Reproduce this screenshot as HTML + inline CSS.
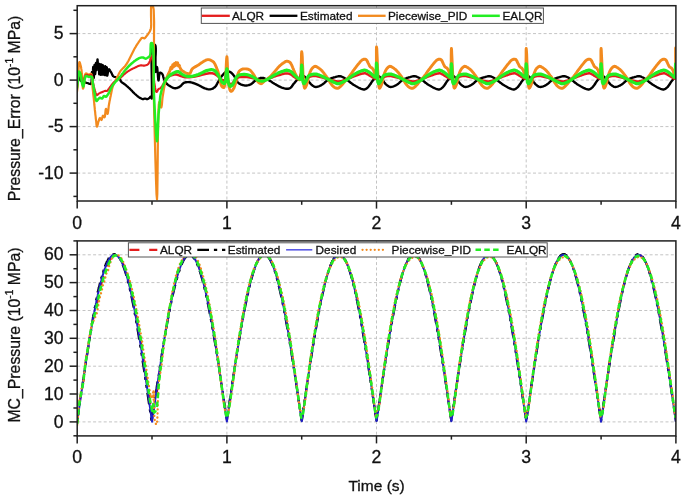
<!DOCTYPE html><html><head><meta charset="utf-8"><style>html,body{margin:0;padding:0;background:#fff;}svg{display:block;}text{font-family:"Liberation Sans",Arial,sans-serif;fill:#111;stroke:#111;stroke-width:0.3px;}</style></head><body>
<svg width="685" height="499" viewBox="0 0 685 499">
<rect width="685" height="499" fill="#fff"/>
<defs><clipPath id="cu"><rect x="77.2" y="5.7" width="598.7" height="195.3"/></clipPath>
<clipPath id="cl"><rect x="77.2" y="240.9" width="598.7" height="195.0"/></clipPath></defs>
<line x1="77.2" x2="675.9" y1="33.6" y2="33.6" stroke="#c4c4c4" stroke-width="1" stroke-dasharray="3,2.3" fill="none"/>
<line x1="77.2" x2="675.9" y1="80.1" y2="80.1" stroke="#c4c4c4" stroke-width="1" stroke-dasharray="3,2.3" fill="none"/>
<line x1="77.2" x2="675.9" y1="126.6" y2="126.6" stroke="#c4c4c4" stroke-width="1" stroke-dasharray="3,2.3" fill="none"/>
<line x1="77.2" x2="675.9" y1="173.1" y2="173.1" stroke="#c4c4c4" stroke-width="1" stroke-dasharray="3,2.3" fill="none"/>
<line x1="226.9" x2="226.9" y1="5.7" y2="201.0" stroke="#c4c4c4" stroke-width="1" stroke-dasharray="3,2.3" fill="none"/>
<line x1="376.5" x2="376.5" y1="5.7" y2="201.0" stroke="#c4c4c4" stroke-width="1" stroke-dasharray="3,2.3" fill="none"/>
<line x1="526.2" x2="526.2" y1="5.7" y2="201.0" stroke="#c4c4c4" stroke-width="1" stroke-dasharray="3,2.3" fill="none"/>
<line x1="77.2" x2="675.9" y1="254.8" y2="254.8" stroke="#c4c4c4" stroke-width="1" stroke-dasharray="3,2.3" fill="none"/>
<line x1="77.2" x2="675.9" y1="282.6" y2="282.6" stroke="#c4c4c4" stroke-width="1" stroke-dasharray="3,2.3" fill="none"/>
<line x1="77.2" x2="675.9" y1="310.5" y2="310.5" stroke="#c4c4c4" stroke-width="1" stroke-dasharray="3,2.3" fill="none"/>
<line x1="77.2" x2="675.9" y1="338.3" y2="338.3" stroke="#c4c4c4" stroke-width="1" stroke-dasharray="3,2.3" fill="none"/>
<line x1="77.2" x2="675.9" y1="366.2" y2="366.2" stroke="#c4c4c4" stroke-width="1" stroke-dasharray="3,2.3" fill="none"/>
<line x1="77.2" x2="675.9" y1="394.0" y2="394.0" stroke="#c4c4c4" stroke-width="1" stroke-dasharray="3,2.3" fill="none"/>
<line x1="77.2" x2="675.9" y1="421.9" y2="421.9" stroke="#c4c4c4" stroke-width="1" stroke-dasharray="3,2.3" fill="none"/>
<line x1="226.9" x2="226.9" y1="240.9" y2="435.8" stroke="#c4c4c4" stroke-width="1" stroke-dasharray="3,2.3" fill="none"/>
<line x1="376.5" x2="376.5" y1="240.9" y2="435.8" stroke="#c4c4c4" stroke-width="1" stroke-dasharray="3,2.3" fill="none"/>
<line x1="526.2" x2="526.2" y1="240.9" y2="435.8" stroke="#c4c4c4" stroke-width="1" stroke-dasharray="3,2.3" fill="none"/>
<g clip-path="url(#cu)" fill="none" stroke-linejoin="round" stroke-linecap="round">
<path d="M77.0,79.0 L77.2,78.0 L77.5,76.8 L77.7,75.9 L78.0,75.5 L78.3,75.8 L78.7,76.7 L79.1,77.8 L79.5,78.9 L80.0,79.8 L80.6,80.5 L81.3,81.0 L82.0,81.5 L82.7,81.8 L83.4,82.0 L84.2,82.2 L85.0,82.4 L85.8,82.6 L86.5,82.8 L87.3,83.0 L88.0,83.2 L88.9,83.6 L89.8,83.9 L90.5,84.0 L91.0,83.7 L91.3,83.0 L91.6,81.6 L91.7,79.4 L91.8,76.9 L91.9,74.5 L91.9,72.7 L92.0,72.0 L92.1,72.6 L92.2,74.1 L92.3,76.0 L92.3,77.9 L92.4,79.4 L92.5,80.0 L92.6,79.0 L92.7,76.6 L92.8,73.5 L93.0,70.4 L93.1,68.0 L93.2,67.0 L93.3,67.8 L93.4,69.9 L93.5,72.5 L93.6,75.1 L93.7,77.2 L93.8,78.0 L93.9,77.0 L94.0,74.6 L94.1,71.5 L94.3,68.4 L94.4,66.0 L94.5,65.0 L94.6,65.7 L94.7,67.3 L94.8,69.5 L95.0,71.7 L95.1,73.3 L95.2,74.0 L95.3,73.2 L95.5,71.1 L95.6,68.5 L95.7,65.9 L95.9,63.8 L96.0,63.0 L96.1,63.5 L96.2,64.8 L96.3,66.5 L96.5,68.2 L96.6,69.5 L96.7,70.0 L96.8,69.2 L97.0,67.2 L97.1,64.7 L97.2,62.1 L97.4,60.1 L97.5,59.3 L97.6,59.8 L97.7,61.0 L97.8,62.6 L97.9,64.2 L98.1,65.5 L98.2,66.0 L98.4,65.5 L98.6,64.6 L98.8,64.1 L98.9,64.9 L99.0,66.8 L99.1,69.2 L99.1,71.7 L99.1,73.6 L99.2,74.3 L99.3,73.6 L99.3,71.7 L99.4,69.2 L99.5,66.7 L99.5,64.8 L99.6,64.0 L99.7,64.8 L99.7,66.7 L99.8,69.1 L99.9,71.5 L99.9,73.4 L100.0,74.2 L100.1,73.5 L100.1,71.9 L100.2,69.8 L100.3,67.6 L100.3,66.0 L100.4,65.4 L100.5,66.1 L100.5,67.8 L100.6,70.1 L100.7,72.4 L100.7,74.2 L100.8,74.9 L100.9,74.1 L100.9,72.2 L101.0,69.7 L101.1,67.2 L101.1,65.3 L101.2,64.5 L101.3,65.2 L101.3,67.0 L101.4,69.2 L101.5,71.5 L101.5,73.2 L101.6,73.9 L101.7,73.3 L101.7,71.6 L101.8,69.3 L101.9,67.1 L101.9,65.4 L102.0,64.8 L102.1,65.5 L102.1,67.3 L102.2,69.6 L102.3,71.9 L102.3,73.7 L102.4,74.5 L102.5,73.8 L102.5,72.0 L102.6,69.8 L102.7,67.5 L102.7,65.8 L102.8,65.1 L102.9,65.8 L102.9,67.6 L103.0,69.9 L103.1,72.1 L103.1,73.9 L103.2,74.6 L103.3,74.0 L103.3,72.5 L103.4,70.5 L103.5,68.6 L103.5,67.1 L103.6,66.4 L103.7,67.0 L103.7,68.5 L103.8,70.5 L103.9,72.4 L103.9,73.9 L104.0,74.5 L104.1,73.9 L104.1,72.5 L104.2,70.7 L104.3,68.8 L104.3,67.4 L104.4,66.9 L104.5,67.5 L104.5,69.0 L104.6,71.0 L104.7,73.0 L104.7,74.5 L104.8,75.1 L104.9,74.4 L104.9,72.8 L105.0,70.6 L105.1,68.5 L105.1,66.8 L105.2,66.2 L105.3,66.8 L105.3,68.5 L105.4,70.7 L105.5,72.9 L105.5,74.5 L105.6,75.2 L105.7,74.6 L105.7,73.1 L105.8,71.1 L105.9,69.1 L105.9,67.5 L106.0,66.9 L106.1,67.5 L106.1,69.0 L106.2,71.0 L106.3,73.0 L106.3,74.5 L106.4,75.1 L106.5,74.5 L106.5,73.1 L106.6,71.2 L106.7,69.3 L106.7,67.9 L106.8,67.3 L106.9,67.9 L106.9,69.5 L106.9,71.5 L107.0,73.5 L107.1,75.1 L107.2,75.7 L107.4,75.3 L107.6,74.3 L107.8,73.1 L108.0,72.0 L108.3,70.8 L108.6,69.7 L109.0,69.2 L109.5,69.6 L110.0,70.5 L110.5,71.3 L111.0,72.1 L111.5,73.0 L111.9,73.8 L112.2,74.6 L112.6,75.4 L113.0,76.0 L113.6,76.4 L114.3,76.8 L115.0,77.0 L115.8,77.2 L116.7,77.4 L117.5,77.5 L118.2,77.6 L118.9,77.7 L119.5,78.0 L119.9,78.7 L120.2,79.6 L120.5,80.6 L121.0,81.5 L121.5,82.1 L122.1,82.6 L122.8,83.0 L123.6,83.5 L124.3,84.0 L125.0,84.5 L125.8,85.2 L126.6,85.9 L127.5,86.6 L128.3,87.4 L129.2,88.1 L130.0,88.9 L130.8,89.7 L131.7,90.6 L132.5,91.5 L133.3,92.4 L134.2,93.2 L135.0,94.0 L135.8,94.7 L136.7,95.5 L137.5,96.2 L138.4,96.8 L139.2,97.4 L140.0,97.9 L140.8,98.3 L141.6,98.7 L142.3,99.0 L143.0,99.1 L143.7,99.0 L144.3,98.7 L145.0,98.6 L145.7,98.7 L146.3,99.0 L147.0,99.1 L147.7,99.0 L148.3,98.7 L149.0,98.3 L149.7,97.6 L150.4,96.8 L151.0,96.5 L151.3,97.1 L151.5,98.1 L151.7,98.6 L152.0,94.9 L151.9,85.8 L151.7,73.8 L151.5,61.5 L151.5,51.4 L151.9,46.0 L152.1,45.3 L152.5,45.0 L153.2,44.7 L154.2,44.5 L155.0,44.8 L155.6,46.1 L155.8,48.3 L155.8,51.1 L155.7,54.2 L155.5,57.3 L155.5,60.0 L155.5,62.4 L155.5,65.0 L155.5,67.6 L155.5,69.8 L155.5,71.4 L155.7,72.0 L155.9,71.6 L156.1,70.7 L156.3,69.5 L156.6,68.3 L156.8,67.4 L157.0,67.0 L157.3,68.0 L157.5,70.5 L157.8,73.8 L158.0,77.0 L158.2,79.5 L158.5,80.5 L158.7,80.0 L158.9,78.6 L159.0,76.7 L159.3,74.9 L159.6,73.3 L160.0,72.6 L160.7,72.7 L161.6,73.2 L162.3,74.0 L162.7,74.7 L163.0,75.6 L163.2,76.6 L163.5,77.6 L163.8,78.6 L164.2,79.5 L164.6,80.4 L165.0,81.4 L165.4,82.2 L166.0,83.0" stroke="#000" stroke-width="2.3"/>
<path d="M166.0,83.0 L166.6,83.7 L167.4,84.3 L168.1,84.9 L169.0,85.5 L169.8,86.0 L170.6,86.5 L171.5,87.0 L172.3,87.4 L173.2,87.8 L174.1,88.1 L175.0,88.2 L175.9,88.2 L176.8,88.0 L177.7,87.7 L178.6,87.3 L179.5,86.9 L180.3,86.3 L181.1,85.6 L181.8,84.8 L182.5,84.0 L183.3,83.3 L184.0,82.8 L184.8,82.5 L185.5,82.3 L186.2,82.2 L187.0,82.1 L187.7,82.1 L188.5,82.1 L189.3,82.1 L190.1,82.2 L191.0,82.4 L192.1,82.7 L193.2,83.0 L194.4,83.4 L195.6,83.9 L196.8,84.4 L198.0,84.9 L199.2,85.5 L200.4,86.1 L201.6,86.7 L202.7,87.4 L203.9,88.0 L205.0,88.4 L205.9,88.7 L206.7,89.0 L207.5,89.2 L208.4,89.4 L209.2,89.4 L210.0,89.4 L210.9,89.2 L211.8,88.9 L212.6,88.6 L213.5,88.1 L214.3,87.6 L215.0,87.0 L215.6,86.3 L216.2,85.6 L216.6,84.7 L217.1,83.8 L217.5,82.9 L218.0,82.1 L218.5,81.3 L219.0,80.4 L219.5,79.6 L220.0,78.8 L220.5,78.0 L221.0,77.2 L221.6,76.4 L222.1,75.7 L222.8,74.9 L223.4,74.2 L223.9,73.6 L224.5,73.0 L225.2,72.4 L225.8,71.9 L226.5,71.5 L227.4,71.4 L228.3,71.5 L229.4,71.7 L230.3,72.1 L231.0,72.5 L231.7,73.1 L232.4,73.8 L233.0,74.5 L233.6,75.3 L234.2,76.0 L234.7,76.8 L235.1,77.7 L235.5,78.6 L235.8,79.5 L236.2,80.4 L236.8,81.1 L237.3,81.8 L237.9,82.4 L238.5,82.9 L239.2,83.4 L239.9,83.9 L240.6,84.3 L241.4,84.6 L242.3,85.0 L243.2,85.2 L244.1,85.4 L244.9,85.5 L245.8,85.6 L246.7,85.5 L247.5,85.4 L248.4,85.2 L249.2,85.0 L250.0,84.6 L250.8,84.3 L251.5,83.9 L252.2,83.3 L252.9,82.8 L253.5,82.2 L254.1,81.6 L254.8,81.1 L255.5,80.6 L256.3,80.0 L257.0,79.5 L257.8,79.0 L258.6,78.6 L259.6,78.3 L260.5,78.0 L261.5,77.9 L262.5,77.9 L263.3,78.0 L264.0,78.2 L264.8,78.5 L265.6,78.8 L266.3,79.2 L267.1,79.5 L267.9,79.9 L268.7,80.3 L269.5,80.7 L270.3,81.1 L271.1,81.6 L271.9,82.1 L272.7,82.7 L273.6,83.2 L274.5,83.8 L275.4,84.3 L276.4,84.9 L277.5,85.5 L278.6,86.1 L279.7,86.7 L280.8,87.2 L281.8,87.6 L282.7,87.9 L283.5,88.2 L284.4,88.4 L285.2,88.6 L286.0,88.7 L286.7,88.7 L287.6,88.8 L288.5,88.7 L289.3,88.5 L290.1,88.2 L290.7,87.7 L291.2,87.2 L291.8,86.5 L292.3,85.7 L292.8,85.0 L293.3,84.3 L293.9,83.5 L294.6,82.8 L295.2,82.0 L295.9,81.2 L296.5,80.5 L297.2,79.8 L298.0,79.2 L298.8,78.7 L299.7,78.2 L300.4,77.7 L301.0,77.3 L301.4,76.9 L301.7,76.6 L302.5,76.2 L303.4,76.0 L304.0,76.2 L304.7,76.7 L305.3,77.3 L306.0,77.9 L306.5,78.4 L307.0,79.1 L307.5,79.8 L308.0,80.5 L308.5,81.1 L309.0,81.8 L309.5,82.4 L310.0,83.1 L310.5,83.7 L311.1,84.3 L311.8,84.9 L312.5,85.5 L313.3,86.1 L314.1,86.6 L315.0,86.9 L315.9,87.0 L316.9,86.9 L317.8,86.6 L318.8,86.3 L319.6,86.0 L320.4,85.7 L321.1,85.2 L321.9,84.8 L322.7,84.3 L323.4,83.7 L324.2,83.1 L324.9,82.4 L325.6,81.7 L326.4,81.1 L327.2,80.6 L328.0,80.0 L328.8,79.5 L329.6,79.0 L330.4,78.6 L331.1,78.3 L331.9,78.0 L332.7,77.8 L333.4,77.5 L334.3,77.3 L335.1,77.1 L335.9,76.8 L336.8,76.6 L337.7,76.4 L338.5,76.2 L339.4,76.2 L340.2,76.3 L341.0,76.4 L341.7,76.7 L342.5,77.0 L343.2,77.3 L344.0,77.7 L344.8,78.2 L345.6,78.7 L346.4,79.3 L347.1,79.8 L347.8,80.3 L348.4,80.9 L349.1,81.4 L349.7,82.0 L350.4,82.5 L351.1,83.1 L351.9,83.6 L352.7,84.2 L353.5,84.8 L354.4,85.3 L355.3,85.8 L356.1,86.3 L357.0,86.8 L357.9,87.3 L358.7,87.7 L359.6,88.2 L360.5,88.5 L361.3,88.8 L362.2,89.1 L363.0,89.4 L363.8,89.5 L364.6,89.5 L365.4,89.2 L366.1,88.8 L366.9,88.2 L367.6,87.6 L368.2,87.1 L368.7,86.4 L369.2,85.7 L369.7,85.0 L370.3,84.3 L370.8,83.5 L371.3,82.7 L371.8,81.9 L372.3,81.2 L372.8,80.5 L373.5,79.7 L374.2,79.1 L374.8,78.4 L375.4,77.9 L376.0,77.1 L376.5,76.6 L377.3,76.1 L378.2,76.0 L378.8,76.2 L379.5,76.7 L380.2,77.3 L380.8,77.9 L381.4,78.4 L381.9,79.1 L382.4,79.8 L382.9,80.5 L383.4,81.1 L383.9,81.8 L384.3,82.4 L384.8,83.1 L385.3,83.7 L385.9,84.3 L386.6,84.9 L387.4,85.5 L388.2,86.1 L389.0,86.6 L389.8,86.9 L390.7,87.0 L391.7,86.9 L392.7,86.6 L393.6,86.3 L394.4,86.0 L395.2,85.7 L396.0,85.2 L396.8,84.8 L397.5,84.3 L398.3,83.7 L399.0,83.1 L399.7,82.4 L400.5,81.7 L401.2,81.1 L402.0,80.6 L402.8,80.0 L403.6,79.5 L404.4,79.0 L405.2,78.6 L406.0,78.3 L406.7,78.0 L407.5,77.8 L408.3,77.5 L409.1,77.3 L409.9,77.1 L410.8,76.8 L411.6,76.6 L412.5,76.4 L413.4,76.2 L414.2,76.2 L415.0,76.3 L415.8,76.4 L416.6,76.7 L417.3,77.0 L418.1,77.3 L418.9,77.7 L419.7,78.2 L420.4,78.7 L421.2,79.3 L422.0,79.8 L422.6,80.3 L423.3,80.9 L423.9,81.4 L424.6,82.0 L425.2,82.5 L425.9,83.1 L426.7,83.6 L427.5,84.2 L428.4,84.8 L429.2,85.3 L430.1,85.8 L431.0,86.3 L431.8,86.8 L432.7,87.3 L433.6,87.7 L434.5,88.2 L435.3,88.5 L436.1,88.8 L437.0,89.1 L437.8,89.4 L438.6,89.5 L439.4,89.5 L440.2,89.2 L441.0,88.8 L441.7,88.2 L442.4,87.6 L443.0,87.1 L443.5,86.4 L444.1,85.7 L444.6,85.0 L445.1,84.3 L445.6,83.5 L446.1,82.7 L446.6,81.9 L447.1,81.2 L447.6,80.5 L448.3,79.7 L449.0,79.1 L449.7,78.4 L450.3,77.9 L450.8,77.1 L451.4,76.6 L452.2,76.1 L453.0,76.0 L453.7,76.2 L454.3,76.7 L455.0,77.3 L455.7,77.9 L456.2,78.4 L456.7,79.1 L457.2,79.8 L457.7,80.5 L458.2,81.1 L458.7,81.8 L459.2,82.4 L459.6,83.1 L460.2,83.7 L460.7,84.3 L461.4,84.9 L462.2,85.5 L463.0,86.1 L463.8,86.6 L464.6,86.9 L465.6,87.0 L466.5,86.9 L467.5,86.6 L468.5,86.3 L469.2,86.0 L470.0,85.7 L470.8,85.2 L471.6,84.8 L472.3,84.3 L473.1,83.7 L473.9,83.1 L474.6,82.4 L475.3,81.7 L476.1,81.1 L476.9,80.6 L477.6,80.0 L478.4,79.5 L479.2,79.0 L480.1,78.6 L480.8,78.3 L481.6,78.0 L482.3,77.8 L483.1,77.5 L483.9,77.3 L484.8,77.1 L485.6,76.8 L486.5,76.6 L487.4,76.4 L488.2,76.2 L489.0,76.2 L489.8,76.3 L490.6,76.4 L491.4,76.7 L492.2,77.0 L492.9,77.3 L493.7,77.7 L494.5,78.2 L495.3,78.7 L496.0,79.3 L496.8,79.8 L497.5,80.3 L498.1,80.9 L498.8,81.4 L499.4,82.0 L500.1,82.5 L500.8,83.1 L501.6,83.6 L502.4,84.2 L503.2,84.8 L504.1,85.3 L504.9,85.8 L505.8,86.3 L506.7,86.8 L507.5,87.3 L508.4,87.7 L509.3,88.2 L510.2,88.5 L511.0,88.8 L511.8,89.1 L512.7,89.4 L513.5,89.5 L514.3,89.5 L515.0,89.2 L515.8,88.8 L516.5,88.2 L517.2,87.6 L517.8,87.1 L518.4,86.4 L518.9,85.7 L519.4,85.0 L519.9,84.3 L520.5,83.5 L521.0,82.7 L521.4,81.9 L522.0,81.2 L522.5,80.5 L523.1,79.7 L523.8,79.1 L524.5,78.4 L525.1,77.9 L525.7,77.1 L526.2,76.6 L527.0,76.1 L527.9,76.0 L528.5,76.2 L529.2,76.7 L529.9,77.3 L530.5,77.9 L531.0,78.4 L531.5,79.1 L532.0,79.8 L532.5,80.5 L533.0,81.1 L533.5,81.8 L534.0,82.4 L534.5,83.1 L535.0,83.7 L535.6,84.3 L536.3,84.9 L537.0,85.5 L537.8,86.1 L538.7,86.6 L539.5,86.9 L540.4,87.0 L541.4,86.9 L542.3,86.6 L543.3,86.3 L544.1,86.0 L544.9,85.7 L545.7,85.2 L546.4,84.8 L547.2,84.3 L547.9,83.7 L548.7,83.1 L549.4,82.4 L550.2,81.7 L550.9,81.1 L551.7,80.6 L552.5,80.0 L553.3,79.5 L554.1,79.0 L554.9,78.6 L555.6,78.3 L556.4,78.0 L557.2,77.8 L558.0,77.5 L558.8,77.3 L559.6,77.1 L560.4,76.8 L561.3,76.6 L562.2,76.4 L563.1,76.2 L563.9,76.2 L564.7,76.3 L565.5,76.4 L566.2,76.7 L567.0,77.0 L567.8,77.3 L568.6,77.7 L569.3,78.2 L570.1,78.7 L570.9,79.3 L571.7,79.8 L572.3,80.3 L573.0,80.9 L573.6,81.4 L574.3,82.0 L574.9,82.5 L575.6,83.1 L576.4,83.6 L577.2,84.2 L578.1,84.8 L578.9,85.3 L579.8,85.8 L580.6,86.3 L581.5,86.8 L582.4,87.3 L583.3,87.7 L584.1,88.2 L585.0,88.5 L585.8,88.8 L586.7,89.1 L587.5,89.4 L588.3,89.5 L589.1,89.5 L589.9,89.2 L590.6,88.8 L591.4,88.2 L592.1,87.6 L592.7,87.1 L593.2,86.4 L593.7,85.7 L594.3,85.0 L594.8,84.3 L595.3,83.5 L595.8,82.7 L596.3,81.9 L596.8,81.2 L597.3,80.5 L598.0,79.7 L598.7,79.1 L599.4,78.4 L599.9,77.9 L600.5,77.1 L601.1,76.6 L601.8,76.1 L602.7,76.0 L603.3,76.2 L604.0,76.7 L604.7,77.3 L605.3,77.9 L605.9,78.4 L606.4,79.1 L606.9,79.8 L607.4,80.5 L607.9,81.1 L608.4,81.8 L608.8,82.4 L609.3,83.1 L609.8,83.7 L610.4,84.3 L611.1,84.9 L611.9,85.5 L612.7,86.1 L613.5,86.6 L614.3,86.9 L615.2,87.0 L616.2,86.9 L617.2,86.6 L618.1,86.3 L618.9,86.0 L619.7,85.7 L620.5,85.2 L621.3,84.8 L622.0,84.3 L622.8,83.7 L623.5,83.1 L624.3,82.4 L625.0,81.7 L625.8,81.1 L626.5,80.6 L627.3,80.0 L628.1,79.5 L628.9,79.0 L629.7,78.6 L630.5,78.3 L631.2,78.0 L632.0,77.8 L632.8,77.5 L633.6,77.3 L634.4,77.1 L635.3,76.8 L636.2,76.6 L637.0,76.4 L637.9,76.2 L638.7,76.2 L639.5,76.3 L640.3,76.4 L641.1,76.7 L641.8,77.0 L642.6,77.3 L643.4,77.7 L644.2,78.2 L645.0,78.7 L645.7,79.3 L646.5,79.8 L647.2,80.3 L647.8,80.9 L648.4,81.4 L649.1,82.0 L649.8,82.5 L650.5,83.1 L651.2,83.6 L652.1,84.2 L652.9,84.8 L653.8,85.3 L654.6,85.8 L655.5,86.3 L656.3,86.8 L657.2,87.3 L658.1,87.7 L659.0,88.2 L659.8,88.5 L660.6,88.8 L661.5,89.1 L662.3,89.4 L663.1,89.5 L663.9,89.5 L664.7,89.2 L665.5,88.8 L666.2,88.2 L666.9,87.6 L667.5,87.1 L668.1,86.4 L668.6,85.7 L669.1,85.0 L669.6,84.3 L670.1,83.5 L670.6,82.7 L671.1,81.9 L671.6,81.2 L672.2,80.5 L672.8,79.7 L673.5,79.1 L674.2,78.4 L674.8,77.9 L675.4,77.2 L675.9,76.6" stroke="#000" stroke-width="2.4"/>
<path d="M77.0,92.0 L77.1,90.9 L77.3,89.8 L77.4,88.8 L77.5,87.6 L77.7,86.4 L77.8,85.0 L78.0,81.4 L78.2,76.6 L78.5,71.5 L78.7,66.8 L79.0,63.4 L79.4,62.0 L79.7,62.3 L80.0,63.1 L80.2,64.1 L80.5,65.0 L80.7,65.8 L80.9,66.6 L81.1,67.5 L81.2,68.4 L81.4,69.4 L81.6,70.7 L81.7,72.0 L81.8,73.5 L82.0,75.0 L82.1,76.5 L82.2,78.0 L82.3,79.9 L82.4,82.2 L82.5,84.5 L82.7,86.6 L82.8,88.0 L83.0,88.6 L83.2,88.3 L83.5,87.4 L83.8,86.2 L84.0,85.0 L84.2,83.6 L84.3,81.9 L84.3,80.1 L84.4,78.3 L84.6,76.7 L84.8,75.5 L85.1,74.6 L85.5,73.8 L86.0,73.4 L86.6,73.5 L87.4,73.9 L88.3,74.3 L89.0,74.5 L89.7,74.3 L90.4,73.9 L91.0,73.8 L91.5,74.4 L91.8,75.5 L92.0,76.8 L92.1,78.4 L92.2,80.3 L92.3,82.4 L92.4,84.6 L92.5,86.6 L92.7,88.9 L93.0,91.4 L93.2,93.8 L93.5,96.3 L93.8,98.7 L94.0,101.0 L94.2,102.8 L94.3,104.5 L94.5,106.1 L94.7,107.8 L94.8,109.4 L95.0,111.0 L95.2,112.5 L95.3,114.1 L95.5,115.6 L95.7,117.1 L95.8,118.6 L96.0,120.0 L96.2,121.3 L96.3,122.8 L96.4,124.2 L96.6,125.5 L96.8,126.4 L97.0,126.7 L97.2,126.4 L97.4,125.7 L97.7,124.7 L98.0,123.5 L98.2,122.4 L98.5,121.5 L98.9,120.4 L99.2,119.3 L99.6,118.4 L100.0,118.0 L100.5,118.5 L101.0,119.5 L101.5,120.0 L101.8,119.5 L102.1,118.4 L102.4,117.2 L102.7,116.1 L103.0,115.6 L103.5,116.0 L104.0,116.9 L104.5,117.3 L104.9,116.6 L105.1,115.0 L105.3,113.0 L105.5,111.0 L105.7,109.4 L106.0,108.8 L106.2,109.2 L106.5,110.1 L106.8,111.4 L107.0,112.6 L107.3,113.5 L107.5,113.9 L107.8,113.4 L108.0,112.2 L108.3,110.4 L108.5,108.3 L108.7,106.3 L109.0,104.5 L109.3,102.8 L109.6,101.1 L110.0,99.4 L110.3,97.6 L110.7,95.9 L111.0,94.3 L111.3,92.8 L111.6,91.3 L111.9,89.8 L112.2,88.4 L112.6,87.1 L113.0,85.8 L113.4,84.9 L113.8,84.0 L114.2,83.2 L114.6,82.3 L115.1,81.5 L115.5,80.7 L115.9,79.8 L116.3,79.0 L116.7,78.1 L117.1,77.2 L117.6,76.4 L118.0,75.5 L118.5,74.6 L118.9,73.8 L119.4,72.9 L119.9,72.0 L120.4,71.2 L121.0,70.4 L121.6,69.7 L122.3,69.0 L123.0,68.3 L123.7,67.6 L124.4,66.9 L125.0,66.2 L125.6,65.5 L126.1,64.7 L126.6,64.0 L127.1,63.2 L127.5,62.4 L128.0,61.6 L128.5,60.7 L129.0,59.7 L129.5,58.7 L130.0,57.7 L130.5,56.7 L131.0,55.7 L131.5,54.7 L132.0,53.7 L132.5,52.7 L133.0,51.7 L133.5,50.7 L134.0,49.7 L134.5,48.8 L135.0,47.9 L135.5,47.1 L136.0,46.2 L136.5,45.4 L137.0,44.6 L137.5,43.8 L138.0,43.1 L138.5,42.3 L139.0,41.6 L139.5,40.9 L140.0,40.3 L140.5,39.5 L141.0,38.8 L141.4,38.2 L142.0,37.8 L142.8,37.9 L143.7,38.2 L144.5,38.3 L145.2,37.8 L145.9,37.0 L146.5,36.1 L147.0,35.5 L147.5,34.8 L148.0,34.2 L148.5,33.5 L149.0,32.7 L149.6,31.9 L150.0,31.0 L150.3,30.3 L150.6,29.5 L150.8,28.7 L151.0,27.6 L151.2,24.5 L151.1,19.9 L151.0,14.7 L151.0,9.8 L151.1,5.9 L151.6,4.0 L152.1,3.8 L152.6,4.0 L153.7,9.6 L154.1,21.9 L154.0,38.8 L153.8,58.1 L153.7,77.6 L153.8,95.0 L154.2,114.4 L154.8,137.0 L155.4,159.9 L156.0,179.9 L156.5,194.1 L157.0,199.5 L157.3,193.8 L157.5,179.3 L157.7,159.9 L157.9,139.3 L158.2,121.4 L158.5,110.0 L158.6,108.0 L158.7,106.1 L158.8,104.5 L159.0,103.2 L159.1,102.3 L159.3,102.0 L159.5,102.3 L159.7,103.1 L159.8,104.2 L160.1,105.2 L160.3,106.0 L160.7,107.0 L161.2,107.5 L161.5,106.9 L161.8,105.4 L162.0,103.4 L162.2,101.0 L162.4,98.6 L162.7,96.4 L163.1,94.1 L163.5,91.6 L163.9,89.0 L164.4,86.5 L164.9,84.1 L165.4,82.0 L165.8,80.5 L166.3,79.1" stroke="#f28a1e" stroke-width="2.2"/>
<path d="M166.3,79.1 L166.8,77.8 L167.3,76.6 L167.7,75.4 L168.2,74.3 L168.6,73.4 L169.0,72.7 L169.3,71.9 L169.7,71.2 L170.0,70.5 L170.3,69.5 L170.6,68.3 L170.9,67.4 L171.2,67.0 L171.6,67.8 L172.0,68.5 L172.2,67.9 L172.4,66.6 L172.6,65.4 L172.8,64.8 L173.1,65.3 L173.3,66.3 L173.6,66.8 L173.8,66.3 L174.0,65.2 L174.2,64.1 L174.4,63.6 L174.7,64.2 L174.9,65.2 L175.2,65.8 L175.4,65.3 L175.6,64.2 L175.8,63.1 L176.0,62.6 L176.3,63.2 L176.5,64.4 L176.8,65.0 L177.1,64.4 L177.3,63.4 L177.6,62.8 L177.8,63.3 L178.0,64.4 L178.2,65.5 L178.4,66.0 L178.8,65.6 L179.2,65.2 L179.5,65.7 L179.7,66.6 L180.0,67.5 L180.3,68.2 L180.6,68.8 L181.0,69.5 L181.5,70.1 L182.2,70.7 L183.0,71.3 L183.8,71.8 L184.6,72.3 L185.4,72.7 L186.2,73.1 L187.1,73.5 L188.0,73.7 L188.8,73.8 L189.5,73.7 L190.1,73.2 L190.5,72.5 L190.9,71.6 L191.3,70.6 L191.7,69.6 L192.3,68.8 L193.1,68.1 L194.0,67.5 L195.0,66.9 L196.0,66.4 L197.0,65.8 L197.9,65.3 L198.8,64.7 L199.5,64.2 L200.3,63.6 L201.1,63.0 L202.0,62.5 L202.9,61.9 L203.8,61.3 L204.8,60.7 L205.8,60.2 L206.7,59.8 L207.7,59.6 L208.7,59.6 L209.7,59.9 L210.7,60.2 L211.6,60.7 L212.5,61.2 L213.3,61.8 L213.9,62.4 L214.4,63.2 L214.9,64.0 L215.3,64.9 L215.7,65.8 L216.1,66.7 L216.6,67.9 L217.1,69.2 L217.6,70.6 L218.1,72.0 L218.5,73.5 L219.0,75.0 L219.5,76.9 L219.9,79.1 L220.3,81.3 L220.7,83.3 L221.2,85.1 L221.8,86.3 L222.5,87.1 L223.3,87.5 L224.0,87.5 L224.9,84.8 L225.6,79.0 L226.0,71.7 L226.3,64.5 L226.6,59.0 L226.9,56.8 L227.1,58.3 L227.3,62.1 L227.5,67.3 L227.7,73.0 L227.9,78.3 L228.4,82.4 L228.7,84.4 L229.1,86.4 L229.5,88.3 L229.9,89.8 L230.4,90.9 L231.0,91.4 L231.6,91.3 L232.3,90.6 L232.9,89.7 L233.5,88.7 L234.1,87.7 L234.5,86.6 L234.9,85.3 L235.4,83.9 L235.7,82.5 L236.2,81.1 L236.6,79.6 L236.9,78.0 L237.3,76.3 L237.7,74.7 L238.1,73.3 L238.7,72.1 L239.2,71.3 L239.8,70.7 L240.5,70.1 L241.1,69.7 L241.8,69.3 L242.8,69.0 L243.8,68.9 L244.8,68.9 L245.8,68.9 L246.8,69.0 L247.8,69.2 L248.7,69.5 L249.6,69.9 L250.3,70.4 L251.0,71.0 L251.6,71.8 L252.2,72.6 L252.8,73.4 L253.4,74.2 L254.0,75.1 L254.5,76.0 L255.0,76.9 L255.5,77.8 L256.1,78.6 L256.6,79.5 L257.1,80.3 L257.5,81.1 L258.0,81.8 L258.6,82.4 L259.4,83.1 L260.3,83.6 L261.2,83.7 L261.8,83.5 L262.4,83.0 L263.1,82.4 L263.7,81.7 L264.3,81.1 L265.0,80.6 L265.6,80.1 L266.3,79.6 L267.0,79.1 L267.7,78.6 L268.3,78.1 L268.9,77.6 L269.6,77.0 L270.2,76.5 L270.9,75.9 L271.5,75.3 L272.1,74.6 L272.8,73.8 L273.4,73.1 L274.1,72.3 L274.7,71.6 L275.4,70.8 L276.0,70.0 L276.7,69.3 L277.3,68.5 L277.9,67.7 L278.6,67.0 L279.3,66.3 L280.0,65.6 L280.7,65.0 L281.5,64.3 L282.2,63.7 L283.0,63.2 L283.7,62.7 L284.5,62.2 L285.2,61.7 L286.0,61.4 L286.7,61.2 L287.6,61.3 L288.5,61.5 L289.4,62.0 L290.1,62.5 L290.7,63.2 L291.1,64.0 L291.6,64.9 L292.0,65.8 L292.4,66.8 L292.7,67.6 L293.1,68.5 L293.5,69.4 L293.8,70.3 L294.2,71.2 L294.6,72.1 L295.0,73.0 L295.4,73.9 L295.8,74.8 L296.3,75.7 L296.7,76.6 L297.2,77.3 L297.9,78.2 L298.5,79.1 L299.2,79.7 L299.8,79.8 L300.5,77.5 L301.0,72.2 L301.2,65.5 L301.4,58.9 L301.5,53.8 L301.7,51.7 L302.0,53.3 L302.3,57.2 L302.5,62.7 L302.8,68.7 L303.0,74.3 L303.4,78.6 L303.5,80.7 L303.7,82.8 L303.9,84.8 L304.1,86.5 L304.4,87.7 L304.7,88.2 L305.1,87.9 L305.6,87.2 L306.1,86.1 L306.6,85.0 L307.0,83.6 L307.5,81.9 L307.9,80.1 L308.3,78.1 L308.7,76.3 L309.2,74.7 L309.6,73.6 L310.0,72.5 L310.3,71.5 L310.8,70.6 L311.2,69.7 L311.7,68.9 L312.3,68.2 L312.9,67.6 L313.6,67.0 L314.3,66.6 L315.0,66.3 L315.8,66.4 L316.6,66.7 L317.4,67.2 L318.2,67.6 L318.8,68.1 L319.5,68.6 L320.1,69.1 L320.8,69.6 L321.4,70.2 L322.1,70.9 L322.7,71.7 L323.3,72.4 L324.0,73.2 L324.6,74.1 L325.2,74.8 L325.7,75.5 L326.3,76.3 L326.8,77.0 L327.4,77.8 L327.9,78.6 L328.4,79.5 L328.9,80.3 L329.4,81.2 L329.8,82.1 L330.3,82.9 L330.9,83.7 L331.5,84.5 L332.1,85.2 L332.8,86.0 L333.5,86.6 L334.2,87.2 L334.9,87.6 L335.7,88.0 L336.5,88.2 L337.3,88.3 L338.1,88.2 L338.8,87.9 L339.4,87.4 L340.1,86.9 L340.7,86.2 L341.4,85.6 L342.0,84.9 L342.6,84.2 L343.2,83.5 L343.8,82.7 L344.5,81.9 L345.1,81.1 L345.8,80.3 L346.6,79.5 L347.4,78.6 L348.1,77.8 L348.9,76.9 L349.6,76.0 L350.4,75.0 L351.1,73.9 L351.9,72.8 L352.6,71.7 L353.3,70.6 L354.1,69.6 L354.8,68.6 L355.6,67.6 L356.3,66.6 L357.1,65.6 L357.8,64.7 L358.6,63.8 L359.2,63.1 L359.8,62.3 L360.4,61.6 L361.0,60.9 L361.7,60.4 L362.3,59.9 L363.2,59.5 L364.1,59.2 L365.0,59.1 L365.8,59.3 L366.4,59.8 L366.9,60.5 L367.4,61.5 L367.9,62.5 L368.3,63.4 L368.8,64.3 L369.2,65.3 L369.7,66.2 L370.2,66.9 L370.8,67.3 L371.5,67.6 L372.1,68.0 L372.6,68.7 L373.1,69.5 L373.6,70.3 L373.9,71.1 L374.1,72.0 L374.4,72.9 L374.6,73.7 L374.8,74.5 L375.2,75.5 L375.5,76.5 L375.8,76.8 L376.1,74.6 L376.3,69.0 L376.4,61.9 L376.4,54.7 L376.4,49.2 L376.5,47.0 L376.8,48.8 L377.0,53.5 L377.3,60.0 L377.5,67.1 L377.9,73.7 L378.2,78.6 L378.4,80.7 L378.5,82.9 L378.7,84.9 L378.9,86.6 L379.2,87.7 L379.5,88.2 L380.0,87.9 L380.4,87.2 L380.9,86.1 L381.4,85.0 L381.9,83.6 L382.3,81.9 L382.7,80.1 L383.1,78.1 L383.6,76.3 L384.0,74.7 L384.4,73.6 L384.8,72.5 L385.2,71.5 L385.6,70.6 L386.1,69.7 L386.6,68.9 L387.2,68.2 L387.8,67.6 L388.4,67.0 L389.1,66.6 L389.8,66.3 L390.6,66.4 L391.4,66.7 L392.2,67.2 L393.0,67.6 L393.7,68.1 L394.3,68.6 L395.0,69.1 L395.6,69.6 L396.2,70.2 L396.9,70.9 L397.5,71.7 L398.2,72.4 L398.8,73.2 L399.5,74.1 L400.0,74.8 L400.6,75.5 L401.1,76.3 L401.7,77.0 L402.2,77.8 L402.7,78.6 L403.3,79.5 L403.7,80.3 L404.2,81.2 L404.7,82.1 L405.2,82.9 L405.7,83.7 L406.3,84.5 L407.0,85.2 L407.6,86.0 L408.3,86.6 L409.0,87.2 L409.7,87.6 L410.5,88.0 L411.3,88.2 L412.1,88.3 L412.9,88.2 L413.6,87.9 L414.3,87.4 L414.9,86.9 L415.6,86.2 L416.2,85.6 L416.8,84.9 L417.5,84.2 L418.1,83.5 L418.7,82.7 L419.3,81.9 L420.0,81.1 L420.7,80.3 L421.4,79.5 L422.2,78.6 L423.0,77.8 L423.7,76.9 L424.4,76.0 L425.2,75.0 L426.0,73.9 L426.7,72.8 L427.4,71.7 L428.2,70.6 L428.9,69.6 L429.7,68.6 L430.4,67.6 L431.2,66.6 L431.9,65.6 L432.7,64.7 L433.4,63.8 L434.0,63.1 L434.7,62.3 L435.3,61.6 L435.9,60.9 L436.5,60.4 L437.2,59.9 L438.0,59.5 L438.9,59.2 L439.8,59.1 L440.6,59.3 L441.2,59.8 L441.8,60.5 L442.3,61.5 L442.7,62.5 L443.2,63.4 L443.6,64.3 L444.1,65.3 L444.5,66.2 L445.0,66.9 L445.6,67.3 L446.3,67.6 L446.9,68.0 L447.5,68.7 L448.0,69.5 L448.4,70.3 L448.7,71.1 L449.0,72.0 L449.2,72.9 L449.4,73.7 L449.7,74.5 L450.0,75.5 L450.3,76.5 L450.6,76.8 L451.0,74.7 L451.1,69.4 L451.2,62.6 L451.2,55.8 L451.3,50.6 L451.4,48.5 L451.6,50.2 L451.8,54.7 L452.1,60.8 L452.4,67.6 L452.7,73.9 L453.0,78.6 L453.2,80.7 L453.4,82.9 L453.6,84.9 L453.8,86.5 L454.0,87.7 L454.4,88.2 L454.8,87.9 L455.3,87.2 L455.8,86.1 L456.3,85.0 L456.7,83.6 L457.1,81.9 L457.6,80.1 L458.0,78.1 L458.4,76.3 L458.9,74.7 L459.3,73.6 L459.6,72.5 L460.0,71.5 L460.4,70.6 L460.9,69.7 L461.4,68.9 L462.0,68.2 L462.6,67.6 L463.3,67.0 L464.0,66.6 L464.6,66.3 L465.4,66.4 L466.2,66.7 L467.1,67.2 L467.9,67.6 L468.5,68.1 L469.2,68.6 L469.8,69.1 L470.4,69.6 L471.1,70.2 L471.7,70.9 L472.4,71.7 L473.0,72.4 L473.7,73.2 L474.3,74.1 L474.8,74.8 L475.4,75.5 L476.0,76.3 L476.5,77.0 L477.1,77.8 L477.6,78.6 L478.1,79.5 L478.6,80.3 L479.0,81.2 L479.5,82.1 L480.0,82.9 L480.6,83.7 L481.2,84.5 L481.8,85.2 L482.5,86.0 L483.2,86.6 L483.9,87.2 L484.5,87.6 L485.3,88.0 L486.2,88.2 L487.0,88.3 L487.8,88.2 L488.4,87.9 L489.1,87.4 L489.8,86.9 L490.4,86.2 L491.1,85.6 L491.7,84.9 L492.3,84.2 L492.9,83.5 L493.5,82.7 L494.1,81.9 L494.8,81.1 L495.5,80.3 L496.3,79.5 L497.0,78.6 L497.8,77.8 L498.5,76.9 L499.3,76.0 L500.0,75.0 L500.8,73.9 L501.5,72.8 L502.3,71.7 L503.0,70.6 L503.8,69.6 L504.5,68.6 L505.3,67.6 L506.0,66.6 L506.8,65.6 L507.5,64.7 L508.3,63.8 L508.9,63.1 L509.5,62.3 L510.1,61.6 L510.7,60.9 L511.3,60.4 L512.0,59.9 L512.9,59.5 L513.8,59.2 L514.7,59.1 L515.4,59.3 L516.1,59.8 L516.6,60.5 L517.1,61.5 L517.5,62.5 L518.0,63.4 L518.5,64.3 L518.9,65.3 L519.4,66.2 L519.9,66.9 L520.5,67.3 L521.1,67.6 L521.7,68.0 L522.3,68.7 L522.8,69.5 L523.2,70.3 L523.5,71.1 L523.8,72.0 L524.0,72.9 L524.3,73.7 L524.5,74.5 L524.8,75.5 L525.2,76.5 L525.5,76.8 L525.8,74.7 L526.0,69.4 L526.0,62.6 L526.1,55.8 L526.1,50.6 L526.2,48.5 L526.4,50.2 L526.7,54.7 L526.9,60.8 L527.2,67.6 L527.5,73.9 L527.9,78.6 L528.1,80.7 L528.2,82.9 L528.4,84.9 L528.6,86.5 L528.9,87.7 L529.2,88.2 L529.6,87.9 L530.1,87.2 L530.6,86.1 L531.1,85.0 L531.6,83.6 L532.0,81.9 L532.4,80.1 L532.8,78.1 L533.2,76.3 L533.7,74.7 L534.1,73.6 L534.5,72.5 L534.9,71.5 L535.3,70.6 L535.7,69.7 L536.3,68.9 L536.8,68.2 L537.5,67.6 L538.1,67.0 L538.8,66.6 L539.5,66.3 L540.3,66.4 L541.1,66.7 L541.9,67.2 L542.7,67.6 L543.4,68.1 L544.0,68.6 L544.7,69.1 L545.3,69.6 L545.9,70.2 L546.6,70.9 L547.2,71.7 L547.9,72.4 L548.5,73.2 L549.1,74.1 L549.7,74.8 L550.2,75.5 L550.8,76.3 L551.4,77.0 L551.9,77.8 L552.4,78.6 L552.9,79.5 L553.4,80.3 L553.9,81.2 L554.3,82.1 L554.9,82.9 L555.4,83.7 L556.0,84.5 L556.6,85.2 L557.3,86.0 L558.0,86.6 L558.7,87.2 L559.4,87.6 L560.2,88.0 L561.0,88.2 L561.8,88.3 L562.6,88.2 L563.3,87.9 L563.9,87.4 L564.6,86.9 L565.2,86.2 L565.9,85.6 L566.5,84.9 L567.1,84.2 L567.7,83.5 L568.4,82.7 L569.0,81.9 L569.6,81.1 L570.4,80.3 L571.1,79.5 L571.9,78.6 L572.6,77.8 L573.4,76.9 L574.1,76.0 L574.9,75.0 L575.6,73.9 L576.4,72.8 L577.1,71.7 L577.9,70.6 L578.6,69.6 L579.4,68.6 L580.1,67.6 L580.9,66.6 L581.6,65.6 L582.4,64.7 L583.1,63.8 L583.7,63.1 L584.3,62.3 L584.9,61.6 L585.6,60.9 L586.2,60.4 L586.8,59.9 L587.7,59.5 L588.6,59.2 L589.5,59.1 L590.3,59.3 L590.9,59.8 L591.4,60.5 L591.9,61.5 L592.4,62.5 L592.8,63.4 L593.3,64.3 L593.7,65.3 L594.2,66.2 L594.7,66.9 L595.3,67.3 L596.0,67.6 L596.6,68.0 L597.1,68.7 L597.6,69.5 L598.1,70.3 L598.4,71.1 L598.6,72.0 L598.9,72.9 L599.1,73.7 L599.3,74.5 L599.7,75.5 L600.0,76.5 L600.3,76.8 L600.7,74.7 L600.8,69.4 L600.9,62.6 L600.9,55.8 L600.9,50.6 L601.1,48.5 L601.3,50.2 L601.5,54.7 L601.8,60.8 L602.1,67.6 L602.4,73.9 L602.7,78.6 L602.9,80.7 L603.1,82.9 L603.2,84.9 L603.4,86.5 L603.7,87.7 L604.1,88.2 L604.5,87.9 L605.0,87.2 L605.5,86.1 L605.9,85.0 L606.4,83.6 L606.8,81.9 L607.2,80.1 L607.6,78.1 L608.1,76.3 L608.5,74.7 L608.9,73.6 L609.3,72.5 L609.7,71.5 L610.1,70.6 L610.6,69.7 L611.1,68.9 L611.7,68.2 L612.3,67.6 L612.9,67.0 L613.6,66.6 L614.3,66.3 L615.1,66.4 L615.9,66.7 L616.7,67.2 L617.5,67.6 L618.2,68.1 L618.8,68.6 L619.5,69.1 L620.1,69.6 L620.7,70.2 L621.4,70.9 L622.1,71.7 L622.7,72.4 L623.3,73.2 L624.0,74.1 L624.5,74.8 L625.1,75.5 L625.6,76.3 L626.2,77.0 L626.7,77.8 L627.3,78.6 L627.8,79.5 L628.2,80.3 L628.7,81.2 L629.2,82.1 L629.7,82.9 L630.2,83.7 L630.8,84.5 L631.5,85.2 L632.2,86.0 L632.8,86.6 L633.5,87.2 L634.2,87.6 L635.0,88.0 L635.8,88.2 L636.6,88.3 L637.4,88.2 L638.1,87.9 L638.8,87.4 L639.4,86.9 L640.1,86.2 L640.7,85.6 L641.4,84.9 L642.0,84.2 L642.6,83.5 L643.2,82.7 L643.8,81.9 L644.5,81.1 L645.2,80.3 L645.9,79.5 L646.7,78.6 L647.5,77.8 L648.2,76.9 L649.0,76.0 L649.7,75.0 L650.5,73.9 L651.2,72.8 L652.0,71.7 L652.7,70.6 L653.4,69.6 L654.2,68.6 L654.9,67.6 L655.7,66.6 L656.4,65.6 L657.2,64.7 L657.9,63.8 L658.6,63.1 L659.2,62.3 L659.8,61.6 L660.4,60.9 L661.0,60.4 L661.7,59.9 L662.5,59.5 L663.5,59.2 L664.3,59.1 L665.1,59.3 L665.7,59.8 L666.3,60.5 L666.8,61.5 L667.2,62.5 L667.7,63.4 L668.1,64.3 L668.6,65.3 L669.0,66.2 L669.5,66.9 L670.2,67.3 L670.8,67.6 L671.4,68.0 L672.0,68.7 L672.5,69.5 L672.9,70.3 L673.2,71.1 L673.5,72.0 L673.7,72.9 L673.9,73.7 L674.2,74.5 L674.5,75.5 L674.9,76.5 L675.2,76.8 L675.5,75.3 L675.6,71.4 L675.7,66.0 L675.6,59.7 L675.6,53.5 L675.6,48.0" stroke="#f28a1e" stroke-width="2.9"/>
<path d="M77.0,86.0 L77.2,84.7 L77.3,83.3 L77.5,81.9 L77.7,80.6 L77.8,79.3 L78.0,78.0 L78.1,76.8 L78.3,75.5 L78.4,74.3 L78.5,73.1 L78.7,72.3 L79.0,72.0 L79.5,72.3 L80.0,73.0 L80.5,74.0 L80.8,74.9 L81.1,76.1 L81.3,77.4 L81.5,78.7 L81.7,80.0 L82.0,81.0 L82.3,82.0 L82.7,83.0 L83.0,83.7 L83.3,84.0 L83.5,83.6 L83.7,82.8 L83.9,81.6 L84.1,80.3 L84.3,79.0 L84.5,78.0 L84.8,77.1 L85.1,76.2 L85.5,75.5 L86.0,75.0 L86.6,74.9 L87.4,75.1 L88.2,75.4 L89.0,75.5 L89.9,75.3 L90.8,74.9 L91.5,75.0 L92.0,75.6 L92.2,76.7 L92.4,78.0 L92.6,79.5 L92.8,81.0 L93.0,82.4 L93.3,83.8 L93.6,85.3 L93.9,86.8 L94.3,88.3 L94.6,89.7 L95.0,90.9 L95.4,92.0 L95.7,93.1 L96.1,94.0 L96.5,94.8 L97.0,95.1 L97.6,94.8 L98.3,94.1 L99.0,93.4 L99.7,93.1 L100.3,92.8 L101.0,92.6 L101.7,92.3 L102.3,92.0 L103.0,91.7 L103.7,91.4 L104.3,91.1 L105.0,90.9 L105.7,90.9 L106.4,91.0 L107.0,90.9 L107.5,90.5 L108.0,89.9 L108.5,89.2 L109.0,88.6 L109.5,87.9 L110.0,87.2 L110.5,86.5 L111.0,85.8 L111.5,85.1 L112.0,84.5 L112.5,83.8 L113.0,83.2 L113.7,82.5 L114.4,81.9 L115.2,81.3 L116.0,80.7 L116.8,80.2 L117.5,79.7 L118.4,79.3 L119.2,78.8 L120.0,78.2 L120.8,77.5 L121.6,76.8 L122.5,76.0 L123.3,75.1 L124.1,74.3 L125.0,73.6 L125.8,73.0 L126.6,72.3 L127.5,71.7 L128.3,71.2 L129.2,70.6 L130.0,70.1 L130.8,69.6 L131.6,69.2 L132.5,68.8 L133.3,68.4 L134.2,68.0 L135.0,67.6 L135.8,67.2 L136.7,66.8 L137.5,66.4 L138.3,66.0 L139.2,65.7 L140.0,65.5 L140.8,65.4 L141.7,65.4 L142.6,65.5 L143.4,65.6 L144.2,65.6 L145.0,65.5 L145.8,65.3 L146.6,65.0 L147.4,64.7 L148.0,64.2 L148.6,63.5 L149.1,62.7 L149.6,61.8 L150.0,60.8 L150.3,59.9 L150.5,58.8 L150.7,57.7 L150.9,56.7 L151.1,56.0 L151.3,55.7 L151.8,56.0 L152.3,57.0 L152.7,59.3 L153.0,62.8 L153.2,67.2 L153.4,71.8 L153.6,76.3 L154.0,80.0 L154.3,82.5 L154.7,85.1 L155.1,87.7 L155.5,89.8 L156.0,91.4 L156.5,92.0 L157.0,91.7 L157.5,90.7 L158.0,89.7 L158.5,89.0 L159.3,88.7 L160.0,88.5 L160.5,88.1 L161.0,87.6 L161.5,87.0 L162.0,86.4 L162.4,85.6 L162.8,84.8 L163.3,84.0 L163.7,83.2 L164.1,82.4 L164.5,81.5 L165.0,80.6 L165.5,79.7 L166.0,79.0" stroke="#e41d1d" stroke-width="2.1"/>
<path d="M166.0,79.0 L166.7,78.3 L167.4,77.6 L168.1,77.0 L168.9,76.5 L169.8,76.0 L170.6,75.6 L171.6,75.3 L172.5,74.9 L173.5,74.7 L174.4,74.6 L175.4,74.5 L176.3,74.6 L177.3,74.8 L178.3,75.1 L179.2,75.4 L180.1,75.7 L181.0,76.0 L181.8,76.3 L182.6,76.5 L183.3,76.8 L184.1,77.0 L185.0,77.2 L186.4,77.3 L187.9,77.3 L189.6,77.2 L191.4,77.0 L193.2,76.8 L195.0,76.5 L197.1,76.1 L199.4,75.5 L201.7,74.8 L204.0,74.2 L206.1,73.7 L208.0,73.4 L209.1,73.3 L210.2,73.2 L211.2,73.2 L212.2,73.3 L213.1,73.4 L214.0,73.7 L214.9,74.1 L215.7,74.6 L216.6,75.2 L217.4,75.9 L218.2,76.6 L219.0,77.2 L219.9,77.9 L220.7,78.7 L221.6,79.5 L222.5,80.2 L223.3,80.6 L224.0,80.7 L224.6,80.2 L225.2,79.0 L225.7,77.7 L226.1,76.4 L226.5,75.4 L226.9,75.0 L227.2,75.4 L227.4,76.5 L227.6,77.9 L227.8,79.4 L228.0,80.9 L228.4,82.0 L228.8,82.8 L229.3,83.5 L229.8,84.0 L230.3,84.3 L231.1,84.1 L232.0,83.6 L232.9,82.9 L233.4,82.3 L233.9,81.5 L234.4,80.6 L234.9,79.8 L235.5,79.2 L236.2,78.6 L236.9,78.1 L237.8,77.6 L238.7,77.3 L239.7,77.1 L240.8,77.0 L242.0,76.9 L243.3,76.9 L244.6,77.0 L245.8,77.0 L247.1,77.1 L248.4,77.3 L249.8,77.5 L251.1,77.7 L252.3,78.0 L253.5,78.2 L254.4,78.5 L255.3,78.8 L256.2,79.1 L257.0,79.3 L257.8,79.6 L258.6,79.8 L259.6,80.1 L260.5,80.3 L261.5,80.4 L262.5,80.5 L263.3,80.4 L264.2,80.2 L265.0,80.0 L265.9,79.7 L266.8,79.5 L267.7,79.2 L268.7,78.8 L269.7,78.4 L270.8,77.9 L271.9,77.5 L272.9,77.1 L274.0,76.7 L275.1,76.3 L276.2,75.9 L277.2,75.6 L278.3,75.3 L279.4,75.0 L280.5,74.7 L281.5,74.4 L282.6,74.1 L283.7,73.8 L284.8,73.6 L285.8,73.4 L286.7,73.4 L287.6,73.5 L288.4,73.6 L289.2,73.8 L290.0,74.1 L290.8,74.4 L291.6,74.9 L292.3,75.5 L293.1,76.1 L293.8,76.8 L294.6,77.3 L295.4,77.8 L296.3,78.4 L297.2,78.9 L298.0,79.2 L298.7,79.2 L299.4,78.5 L299.9,77.2 L300.4,75.7 L300.9,74.2 L301.3,73.1 L301.7,72.7 L302.1,73.4 L302.4,75.1 L302.6,77.4 L302.9,79.7 L303.2,81.6 L303.7,82.4 L304.4,82.2 L305.2,81.4 L306.0,80.6 L306.5,80.0 L306.9,79.3 L307.4,78.5 L307.9,77.9 L308.5,77.3 L309.4,76.9 L310.4,76.5 L311.5,76.3 L312.7,76.1 L313.8,76.0 L315.0,76.0 L316.0,76.1 L317.1,76.2 L318.2,76.5 L319.3,76.7 L320.3,77.0 L321.4,77.3 L322.5,77.6 L323.6,77.9 L324.7,78.2 L325.7,78.5 L326.8,78.9 L327.9,79.2 L329.0,79.5 L330.1,79.8 L331.2,80.1 L332.3,80.4 L333.3,80.6 L334.3,80.8 L335.3,81.1 L336.2,81.2 L337.1,81.4 L338.1,81.4 L338.9,81.4 L339.8,81.3 L340.6,81.1 L341.5,80.9 L342.4,80.7 L343.2,80.5 L344.1,80.2 L345.0,79.9 L345.8,79.6 L346.7,79.3 L347.5,79.0 L348.4,78.6 L349.4,78.2 L350.5,77.8 L351.6,77.3 L352.7,76.9 L353.8,76.4 L354.8,76.0 L356.0,75.6 L357.2,75.2 L358.3,74.8 L359.5,74.4 L360.6,74.0 L361.6,73.8 L362.5,73.5 L363.4,73.4 L364.2,73.3 L365.1,73.3 L365.9,73.5 L366.7,73.9 L367.5,74.3 L368.3,74.8 L369.1,75.3 L369.8,75.7 L370.6,76.2 L371.4,76.6 L372.1,77.1 L372.8,77.5 L373.8,78.1 L374.7,78.6 L375.4,78.7 L375.8,78.0 L376.1,76.7 L376.2,75.0 L376.3,73.4 L376.4,72.2 L376.5,71.7 L376.8,72.5 L377.0,74.4 L377.3,76.9 L377.6,79.5 L378.0,81.5 L378.5,82.4 L379.2,82.2 L380.0,81.4 L380.8,80.6 L381.3,80.0 L381.7,79.3 L382.2,78.5 L382.7,77.9 L383.4,77.3 L384.2,76.9 L385.2,76.5 L386.4,76.3 L387.5,76.1 L388.7,76.0 L389.8,76.0 L390.9,76.1 L391.9,76.2 L393.0,76.5 L394.1,76.7 L395.2,77.0 L396.2,77.3 L397.3,77.6 L398.4,77.9 L399.5,78.2 L400.6,78.5 L401.7,78.9 L402.7,79.2 L403.8,79.5 L404.9,79.8 L406.0,80.1 L407.1,80.4 L408.1,80.6 L409.1,80.8 L410.1,81.1 L411.0,81.2 L411.9,81.4 L412.9,81.4 L413.7,81.4 L414.6,81.3 L415.5,81.1 L416.3,80.9 L417.2,80.7 L418.1,80.5 L418.9,80.2 L419.8,79.9 L420.6,79.6 L421.5,79.3 L422.4,79.0 L423.2,78.6 L424.3,78.2 L425.3,77.8 L426.4,77.3 L427.5,76.9 L428.6,76.4 L429.7,76.0 L430.8,75.6 L432.0,75.2 L433.2,74.8 L434.3,74.4 L435.4,74.0 L436.4,73.8 L437.4,73.5 L438.2,73.4 L439.1,73.3 L439.9,73.3 L440.7,73.5 L441.5,73.9 L442.3,74.3 L443.1,74.8 L443.9,75.3 L444.7,75.7 L445.4,76.2 L446.2,76.6 L446.9,77.1 L447.6,77.5 L448.6,78.1 L449.5,78.6 L450.3,78.7 L450.6,78.1 L450.9,76.8 L451.0,75.3 L451.1,73.8 L451.2,72.6 L451.4,72.2 L451.6,72.9 L451.9,74.7 L452.1,77.1 L452.4,79.6 L452.8,81.5 L453.3,82.4 L454.0,82.2 L454.9,81.4 L455.7,80.6 L456.1,80.0 L456.6,79.3 L457.0,78.5 L457.5,77.9 L458.2,77.3 L459.1,76.9 L460.1,76.5 L461.2,76.3 L462.4,76.1 L463.5,76.0 L464.6,76.0 L465.7,76.1 L466.8,76.2 L467.9,76.5 L468.9,76.7 L470.0,77.0 L471.1,77.3 L472.2,77.6 L473.2,77.9 L474.3,78.2 L475.4,78.5 L476.5,78.9 L477.6,79.2 L478.7,79.5 L479.8,79.8 L480.9,80.1 L481.9,80.4 L483.0,80.6 L483.9,80.8 L484.9,81.1 L485.9,81.2 L486.8,81.4 L487.8,81.4 L488.6,81.4 L489.4,81.3 L490.3,81.1 L491.2,80.9 L492.1,80.7 L492.9,80.5 L493.8,80.2 L494.6,79.9 L495.5,79.6 L496.3,79.3 L497.2,79.0 L498.1,78.6 L499.1,78.2 L500.2,77.8 L501.2,77.3 L502.3,76.9 L503.4,76.4 L504.5,76.0 L505.7,75.6 L506.8,75.2 L508.0,74.8 L509.2,74.4 L510.3,74.0 L511.3,73.8 L512.2,73.5 L513.1,73.4 L513.9,73.3 L514.8,73.3 L515.6,73.5 L516.4,73.9 L517.2,74.3 L518.0,74.8 L518.7,75.3 L519.5,75.7 L520.3,76.2 L521.0,76.6 L521.8,77.1 L522.5,77.5 L523.4,78.1 L524.4,78.6 L525.1,78.7 L525.5,78.1 L525.7,76.8 L525.9,75.3 L525.9,73.8 L526.1,72.6 L526.2,72.2 L526.5,72.9 L526.7,74.7 L527.0,77.1 L527.3,79.6 L527.7,81.5 L528.2,82.4 L528.9,82.2 L529.7,81.4 L530.5,80.6 L531.0,80.0 L531.4,79.3 L531.9,78.5 L532.4,77.9 L533.0,77.3 L533.9,76.9 L534.9,76.5 L536.0,76.3 L537.2,76.1 L538.4,76.0 L539.5,76.0 L540.5,76.1 L541.6,76.2 L542.7,76.5 L543.8,76.7 L544.8,77.0 L545.9,77.3 L547.0,77.6 L548.1,77.9 L549.2,78.2 L550.3,78.5 L551.3,78.9 L552.4,79.2 L553.5,79.5 L554.6,79.8 L555.7,80.1 L556.8,80.4 L557.8,80.6 L558.8,80.8 L559.8,81.1 L560.7,81.2 L561.6,81.4 L562.6,81.4 L563.4,81.4 L564.3,81.3 L565.1,81.1 L566.0,80.9 L566.9,80.7 L567.8,80.5 L568.6,80.2 L569.5,79.9 L570.3,79.6 L571.2,79.3 L572.0,79.0 L572.9,78.6 L574.0,78.2 L575.0,77.8 L576.1,77.3 L577.2,76.9 L578.3,76.4 L579.4,76.0 L580.5,75.6 L581.7,75.2 L582.8,74.8 L584.0,74.4 L585.1,74.0 L586.1,73.8 L587.0,73.5 L587.9,73.4 L588.8,73.3 L589.6,73.3 L590.4,73.5 L591.2,73.9 L592.0,74.3 L592.8,74.8 L593.6,75.3 L594.3,75.7 L595.1,76.2 L595.9,76.6 L596.6,77.1 L597.3,77.5 L598.3,78.1 L599.2,78.6 L599.9,78.7 L600.3,78.1 L600.6,76.8 L600.7,75.3 L600.8,73.8 L600.9,72.6 L601.1,72.2 L601.3,72.9 L601.6,74.7 L601.8,77.1 L602.1,79.6 L602.5,81.5 L603.0,82.4 L603.7,82.2 L604.5,81.4 L605.3,80.6 L605.8,80.0 L606.3,79.3 L606.7,78.5 L607.2,77.9 L607.9,77.3 L608.7,76.9 L609.8,76.5 L610.9,76.3 L612.0,76.1 L613.2,76.0 L614.3,76.0 L615.4,76.1 L616.5,76.2 L617.5,76.5 L618.6,76.7 L619.7,77.0 L620.7,77.3 L621.8,77.6 L622.9,77.9 L624.0,78.2 L625.1,78.5 L626.2,78.9 L627.3,79.2 L628.3,79.5 L629.4,79.8 L630.5,80.1 L631.6,80.4 L632.6,80.6 L633.6,80.8 L634.6,81.1 L635.5,81.2 L636.5,81.4 L637.4,81.4 L638.3,81.4 L639.1,81.3 L640.0,81.1 L640.9,80.9 L641.7,80.7 L642.6,80.5 L643.5,80.2 L644.3,79.9 L645.2,79.6 L646.0,79.3 L646.9,79.0 L647.8,78.6 L648.8,78.2 L649.8,77.8 L650.9,77.3 L652.0,76.9 L653.1,76.4 L654.2,76.0 L655.3,75.6 L656.5,75.2 L657.7,74.8 L658.8,74.4 L659.9,74.0 L660.9,73.8 L661.9,73.5 L662.8,73.4 L663.6,73.3 L664.4,73.3 L665.2,73.5 L666.0,73.9 L666.8,74.3 L667.6,74.8 L668.4,75.3 L669.2,75.7 L670.0,76.2 L670.7,76.6 L671.4,77.1 L672.2,77.5 L673.1,78.1 L674.0,78.6 L674.8,78.7 L675.1,78.2 L675.3,77.3 L675.4,76.1 L675.5,74.7 L675.5,73.4 L675.6,72.2" stroke="#e41d1d" stroke-width="2.5"/>
<path d="M77.0,88.0 L77.2,86.7 L77.3,85.3 L77.5,84.0 L77.7,82.7 L77.8,81.3 L78.0,80.0 L78.1,78.4 L78.3,76.6 L78.4,74.8 L78.5,73.1 L78.7,72.0 L79.0,71.5 L79.5,71.9 L80.0,72.8 L80.5,74.0 L80.8,75.2 L81.1,76.7 L81.3,78.4 L81.5,80.1 L81.7,81.7 L82.0,83.0 L82.3,84.2 L82.7,85.3 L83.0,86.2 L83.3,86.5 L83.5,86.1 L83.7,85.2 L83.9,83.9 L84.1,82.5 L84.3,81.1 L84.5,80.0 L84.7,79.0 L85.0,78.1 L85.2,77.1 L85.6,76.4 L86.0,76.0 L86.6,76.0 L87.4,76.3 L88.2,76.8 L89.0,77.0 L89.9,76.8 L90.8,76.5 L91.5,76.5 L92.0,77.1 L92.3,78.2 L92.5,79.6 L92.6,81.1 L92.8,82.6 L93.0,84.0 L93.3,85.4 L93.5,86.8 L93.7,88.3 L94.0,89.7 L94.2,91.2 L94.5,92.6 L94.8,94.2 L95.1,96.0 L95.4,97.8 L95.7,99.3 L96.1,100.5 L96.5,101.0 L97.0,100.8 L97.5,100.1 L98.0,99.4 L98.6,98.7 L99.3,98.1 L100.0,97.7 L100.7,97.9 L101.4,98.4 L102.0,98.6 L102.5,98.1 L103.0,97.3 L103.5,96.5 L104.0,96.0 L104.7,96.2 L105.4,96.6 L106.0,96.8 L106.5,96.4 L107.0,95.8 L107.5,95.1 L108.0,94.3 L108.5,93.5 L109.0,92.6 L109.4,91.8 L109.8,90.9 L110.2,90.0 L110.6,89.1 L111.0,88.3 L111.5,87.4 L112.0,86.5 L112.5,85.7 L113.0,84.9 L113.5,84.2 L114.0,83.6 L114.5,83.0 L115.0,82.4 L115.6,81.7 L116.3,81.0 L117.0,80.3 L117.6,79.7 L118.1,79.1 L118.7,78.4 L119.4,77.8 L120.0,77.0 L120.8,76.0 L121.6,75.0 L122.4,73.8 L123.3,72.7 L124.1,71.6 L125.0,70.5 L125.8,69.5 L126.6,68.6 L127.5,67.6 L128.3,66.7 L129.1,65.8 L130.0,65.0 L130.8,64.2 L131.6,63.5 L132.5,62.8 L133.3,62.1 L134.1,61.4 L135.0,60.8 L135.8,60.2 L136.7,59.7 L137.5,59.1 L138.4,58.6 L139.2,58.2 L140.0,57.9 L140.8,57.6 L141.6,57.4 L142.3,57.4 L143.0,57.4 L143.9,57.8 L144.7,58.4 L145.5,58.7 L146.3,58.5 L147.2,58.0 L148.0,57.4 L148.7,57.0 L149.4,56.5 L150.0,55.7 L150.4,54.0 L150.6,51.6 L150.6,48.8 L150.7,46.1 L150.8,44.0 L151.2,43.0 L151.7,43.0 L152.3,43.5 L153.1,47.3 L153.5,54.6 L153.7,64.2 L153.7,74.9 L153.7,85.6 L154.0,95.0 L154.4,103.9 L154.9,114.0 L155.5,124.1 L156.0,132.8 L156.6,139.0 L157.0,141.3 L157.3,139.8 L157.6,135.9 L157.8,130.5 L158.0,124.6 L158.3,119.1 L158.5,115.0 L158.6,113.4 L158.8,112.0 L158.9,110.8 L159.0,109.6 L159.2,108.4 L159.3,107.0 L159.5,105.1 L159.6,103.1 L159.8,101.1 L160.0,99.0 L160.2,96.9 L160.5,95.0 L160.9,93.3 L161.3,91.6 L161.7,89.9 L162.2,88.3 L162.7,86.8 L163.2,85.4 L163.6,84.4 L164.0,83.4 L164.5,82.4 L165.0,81.5 L165.5,80.7 L166.0,79.8" stroke="#22ee22" stroke-width="2.5"/>
<path d="M166.0,79.8 L166.6,79.0 L167.1,78.2 L167.7,77.5 L168.4,76.7 L169.1,76.1 L169.8,75.4 L170.7,74.7 L171.6,74.1 L172.6,73.5 L173.6,72.9 L174.6,72.5 L175.4,72.1 L176.3,71.7 L177.2,71.5 L178.0,71.5 L178.7,71.8 L179.5,72.3 L180.2,72.9 L181.0,73.5 L181.7,74.0 L182.5,74.5 L183.3,75.0 L184.1,75.4 L185.0,75.8 L185.8,76.0 L186.6,76.2 L187.4,76.4 L188.3,76.5 L189.2,76.5 L190.0,76.5 L190.8,76.4 L191.7,76.3 L192.5,76.2 L193.3,76.0 L194.2,75.7 L195.0,75.5 L195.8,75.3 L196.6,75.0 L197.4,74.7 L198.3,74.4 L199.1,74.1 L200.0,73.7 L201.2,73.1 L202.6,72.5 L203.9,71.8 L205.3,71.1 L206.7,70.6 L208.0,70.2 L209.1,70.0 L210.1,69.8 L211.1,69.7 L212.1,69.7 L213.1,69.9 L214.0,70.2 L215.0,70.9 L215.9,71.8 L216.7,72.9 L217.5,74.1 L218.3,75.4 L219.0,76.5 L219.6,77.5 L220.1,78.5 L220.5,79.6 L221.0,80.5 L221.5,81.4 L222.0,82.1 L222.8,82.9 L223.7,83.5 L224.5,83.5 L225.2,82.2 L225.7,79.4 L226.0,75.9 L226.3,72.5 L226.6,70.0 L226.9,68.9 L227.1,69.7 L227.3,71.8 L227.5,74.5 L227.7,77.6 L228.0,80.4 L228.4,82.4 L228.7,83.5 L229.0,84.5 L229.4,85.4 L229.8,86.0 L230.3,86.3 L230.9,86.2 L231.6,85.7 L232.2,85.0 L232.9,84.3 L233.3,83.5 L233.8,82.6 L234.2,81.5 L234.6,80.5 L235.0,79.5 L235.5,78.6 L236.0,77.8 L236.6,77.0 L237.3,76.4 L238.0,75.7 L238.7,75.3 L239.5,74.9 L240.4,74.7 L241.3,74.5 L242.2,74.5 L243.2,74.4 L244.0,74.4 L244.9,74.4 L245.8,74.5 L246.6,74.6 L247.5,74.8 L248.4,75.0 L249.2,75.3 L250.1,75.6 L251.0,76.0 L251.8,76.4 L252.7,76.9 L253.5,77.3 L254.4,77.8 L255.2,78.4 L256.1,79.0 L256.9,79.6 L257.8,80.1 L258.6,80.5 L259.6,80.8 L260.5,81.0 L261.5,81.1 L262.5,81.1 L263.3,81.0 L264.2,80.7 L265.0,80.4 L265.9,80.0 L266.8,79.6 L267.7,79.2 L268.7,78.6 L269.7,78.0 L270.8,77.3 L271.9,76.6 L272.9,75.9 L274.0,75.3 L275.1,74.7 L276.1,74.1 L277.2,73.6 L278.3,73.0 L279.4,72.5 L280.5,72.1 L281.5,71.7 L282.6,71.3 L283.7,70.9 L284.7,70.5 L285.8,70.3 L286.7,70.2 L287.6,70.3 L288.5,70.5 L289.3,70.8 L290.0,71.1 L290.8,71.5 L291.5,72.0 L292.1,72.6 L292.7,73.3 L293.3,74.0 L294.0,74.6 L294.6,75.3 L295.3,75.9 L295.9,76.5 L296.6,77.1 L297.3,77.7 L297.9,78.2 L298.5,78.6 L299.3,79.0 L300.0,79.3 L300.6,79.2 L301.1,77.8 L301.4,75.1 L301.5,71.8 L301.5,68.6 L301.6,66.2 L301.7,65.2 L301.9,66.6 L302.1,69.9 L302.3,74.3 L302.6,78.7 L303.1,82.2 L303.7,83.7 L304.2,83.6 L304.8,82.9 L305.4,82.0 L306.0,81.1 L306.4,80.3 L306.7,79.4 L307.1,78.5 L307.5,77.6 L307.9,76.7 L308.5,76.0 L309.4,75.4 L310.4,74.9 L311.5,74.6 L312.7,74.3 L313.8,74.1 L315.0,74.1 L316.0,74.1 L317.1,74.4 L318.2,74.7 L319.3,75.1 L320.3,75.6 L321.4,76.0 L322.5,76.5 L323.6,77.0 L324.7,77.5 L325.7,78.1 L326.8,78.6 L327.9,79.2 L329.0,79.7 L330.1,80.3 L331.2,80.9 L332.3,81.5 L333.3,82.0 L334.3,82.4 L335.1,82.8 L335.8,83.1 L336.6,83.5 L337.3,83.7 L338.1,83.7 L338.9,83.6 L339.8,83.4 L340.6,83.0 L341.5,82.6 L342.4,82.2 L343.2,81.8 L344.1,81.3 L345.0,80.8 L345.8,80.3 L346.7,79.8 L347.5,79.2 L348.4,78.6 L349.4,77.9 L350.5,77.1 L351.6,76.3 L352.6,75.5 L353.7,74.8 L354.8,74.1 L356.0,73.4 L357.1,72.8 L358.3,72.2 L359.5,71.6 L360.6,71.2 L361.6,70.8 L362.5,70.5 L363.4,70.3 L364.2,70.2 L365.1,70.2 L365.9,70.4 L366.7,70.7 L367.5,71.2 L368.3,71.6 L369.1,72.1 L369.9,72.7 L370.6,73.3 L371.4,74.0 L372.1,74.7 L372.8,75.3 L373.5,75.9 L374.2,76.7 L374.9,77.2 L375.4,77.3 L375.9,76.0 L376.2,73.3 L376.3,69.9 L376.4,66.6 L376.4,64.0 L376.5,63.0 L376.8,64.5 L377.0,68.3 L377.2,73.2 L377.4,78.1 L377.9,82.0 L378.5,83.7 L379.0,83.6 L379.6,82.9 L380.2,82.0 L380.8,81.1 L381.2,80.3 L381.6,79.4 L381.9,78.5 L382.3,77.6 L382.8,76.7 L383.4,76.0 L384.2,75.4 L385.2,74.9 L386.3,74.6 L387.5,74.3 L388.7,74.1 L389.8,74.1 L390.9,74.1 L391.9,74.4 L393.0,74.7 L394.1,75.1 L395.2,75.6 L396.2,76.0 L397.3,76.5 L398.4,77.0 L399.5,77.5 L400.6,78.1 L401.7,78.6 L402.7,79.2 L403.8,79.7 L404.9,80.3 L406.0,80.9 L407.1,81.5 L408.1,82.0 L409.1,82.4 L409.9,82.8 L410.7,83.1 L411.4,83.5 L412.1,83.7 L412.9,83.7 L413.7,83.6 L414.6,83.4 L415.5,83.0 L416.4,82.6 L417.2,82.2 L418.1,81.8 L419.0,81.3 L419.8,80.8 L420.7,80.3 L421.5,79.8 L422.4,79.2 L423.2,78.6 L424.3,77.9 L425.3,77.1 L426.4,76.3 L427.5,75.5 L428.6,74.8 L429.7,74.1 L430.8,73.4 L432.0,72.8 L433.1,72.2 L434.3,71.6 L435.4,71.2 L436.4,70.8 L437.4,70.5 L438.2,70.3 L439.1,70.2 L439.9,70.2 L440.7,70.4 L441.5,70.7 L442.3,71.2 L443.1,71.6 L443.9,72.1 L444.7,72.7 L445.5,73.3 L446.2,74.0 L446.9,74.7 L447.6,75.3 L448.4,75.9 L449.1,76.7 L449.7,77.2 L450.3,77.3 L450.8,76.1 L451.0,73.6 L451.1,70.4 L451.2,67.2 L451.2,64.8 L451.4,63.8 L451.6,65.3 L451.8,68.9 L452.0,73.6 L452.3,78.3 L452.7,82.1 L453.3,83.7 L453.9,83.6 L454.5,82.9 L455.1,82.0 L455.7,81.1 L456.1,80.3 L456.4,79.4 L456.8,78.5 L457.1,77.6 L457.6,76.7 L458.2,76.0 L459.0,75.4 L460.1,74.9 L461.2,74.6 L462.3,74.3 L463.5,74.1 L464.6,74.1 L465.7,74.1 L466.8,74.4 L467.9,74.7 L468.9,75.1 L470.0,75.6 L471.1,76.0 L472.2,76.5 L473.3,77.0 L474.3,77.5 L475.4,78.1 L476.5,78.6 L477.6,79.2 L478.7,79.7 L479.8,80.3 L480.9,80.9 L481.9,81.5 L483.0,82.0 L483.9,82.4 L484.7,82.8 L485.5,83.1 L486.2,83.5 L487.0,83.7 L487.8,83.7 L488.6,83.6 L489.4,83.4 L490.3,83.0 L491.2,82.6 L492.1,82.2 L492.9,81.8 L493.8,81.3 L494.6,80.8 L495.5,80.3 L496.3,79.8 L497.2,79.2 L498.1,78.6 L499.1,77.9 L500.2,77.1 L501.2,76.3 L502.3,75.5 L503.4,74.8 L504.5,74.1 L505.6,73.4 L506.8,72.8 L508.0,72.2 L509.1,71.6 L510.2,71.2 L511.3,70.8 L512.2,70.5 L513.1,70.3 L513.9,70.2 L514.8,70.2 L515.6,70.4 L516.4,70.7 L517.2,71.2 L518.0,71.6 L518.7,72.1 L519.5,72.7 L520.3,73.3 L521.1,74.0 L521.8,74.7 L522.5,75.3 L523.2,75.9 L523.9,76.7 L524.6,77.2 L525.1,77.3 L525.6,76.1 L525.9,73.6 L526.0,70.4 L526.0,67.2 L526.1,64.8 L526.2,63.8 L526.5,65.3 L526.6,68.9 L526.8,73.6 L527.1,78.3 L527.5,82.1 L528.2,83.7 L528.7,83.6 L529.3,82.9 L529.9,82.0 L530.5,81.1 L530.9,80.3 L531.3,79.4 L531.6,78.5 L532.0,77.6 L532.4,76.7 L533.0,76.0 L533.9,75.4 L534.9,74.9 L536.0,74.6 L537.2,74.3 L538.4,74.1 L539.5,74.1 L540.5,74.1 L541.6,74.4 L542.7,74.7 L543.8,75.1 L544.8,75.6 L545.9,76.0 L547.0,76.5 L548.1,77.0 L549.2,77.5 L550.3,78.1 L551.3,78.6 L552.4,79.2 L553.5,79.7 L554.6,80.3 L555.7,80.9 L556.8,81.5 L557.8,82.0 L558.8,82.4 L559.6,82.8 L560.3,83.1 L561.1,83.5 L561.8,83.7 L562.6,83.7 L563.4,83.6 L564.3,83.4 L565.1,83.0 L566.0,82.6 L566.9,82.2 L567.8,81.8 L568.6,81.3 L569.5,80.8 L570.3,80.3 L571.2,79.8 L572.0,79.2 L572.9,78.6 L574.0,77.9 L575.0,77.1 L576.1,76.3 L577.2,75.5 L578.3,74.8 L579.4,74.1 L580.5,73.4 L581.6,72.8 L582.8,72.2 L584.0,71.6 L585.1,71.2 L586.1,70.8 L587.0,70.5 L587.9,70.3 L588.8,70.2 L589.6,70.2 L590.4,70.4 L591.2,70.7 L592.0,71.2 L592.8,71.6 L593.6,72.1 L594.4,72.7 L595.1,73.3 L595.9,74.0 L596.6,74.7 L597.3,75.3 L598.0,75.9 L598.7,76.7 L599.4,77.2 L599.9,77.3 L600.4,76.1 L600.7,73.6 L600.8,70.4 L600.9,67.2 L600.9,64.8 L601.1,63.8 L601.3,65.3 L601.5,68.9 L601.7,73.6 L602.0,78.3 L602.4,82.1 L603.0,83.7 L603.5,83.6 L604.1,82.9 L604.7,82.0 L605.3,81.1 L605.7,80.3 L606.1,79.4 L606.4,78.5 L606.8,77.6 L607.3,76.7 L607.9,76.0 L608.7,75.4 L609.7,74.9 L610.9,74.6 L612.0,74.3 L613.2,74.1 L614.3,74.1 L615.4,74.1 L616.5,74.4 L617.5,74.7 L618.6,75.1 L619.7,75.6 L620.7,76.0 L621.8,76.5 L622.9,77.0 L624.0,77.5 L625.1,78.1 L626.2,78.6 L627.3,79.2 L628.3,79.7 L629.4,80.3 L630.5,80.9 L631.6,81.5 L632.6,82.0 L633.6,82.4 L634.4,82.8 L635.2,83.1 L635.9,83.5 L636.6,83.7 L637.4,83.7 L638.3,83.6 L639.1,83.4 L640.0,83.0 L640.9,82.6 L641.7,82.2 L642.6,81.8 L643.5,81.3 L644.3,80.8 L645.2,80.3 L646.0,79.8 L646.9,79.2 L647.8,78.6 L648.8,77.9 L649.8,77.1 L650.9,76.3 L652.0,75.5 L653.1,74.8 L654.2,74.1 L655.3,73.4 L656.5,72.8 L657.7,72.2 L658.8,71.6 L659.9,71.2 L660.9,70.8 L661.9,70.5 L662.7,70.3 L663.6,70.2 L664.4,70.2 L665.2,70.4 L666.1,70.7 L666.9,71.2 L667.6,71.6 L668.4,72.1 L669.2,72.7 L670.0,73.3 L670.7,74.0 L671.5,74.7 L672.2,75.3 L672.9,75.9 L673.6,76.7 L674.2,77.2 L674.8,77.3 L675.3,76.4 L675.5,74.6 L675.6,72.0 L675.5,69.2 L675.5,66.3 L675.6,63.8" stroke="#22ee22" stroke-width="3.2"/>
</g>
<g clip-path="url(#cl)" fill="none" stroke-linejoin="round">
<path d="M77.2,423.2 L77.4,420.8 L77.7,418.4 L77.9,416.1 L78.2,413.7 L78.4,411.3 L78.7,409.1 L78.9,407.3 L79.2,405.5 L79.4,403.8 L79.7,402.2 L79.9,400.5 L80.2,398.9 L80.4,397.4 L80.7,395.8 L80.9,394.4 L81.2,393.0 L81.4,391.8 L81.7,390.5 L81.9,389.1 L82.2,387.6 L82.4,386.1 L82.7,384.6 L82.9,383.1 L83.2,381.5 L83.4,379.7 L83.7,377.8 L83.9,375.6 L84.2,373.4 L84.4,371.4 L84.7,369.4 L84.9,367.6 L85.2,365.7 L85.4,363.9 L85.7,362.2 L85.9,360.5 L86.2,358.8 L86.4,357.2 L86.7,355.6 L86.9,354.0 L87.2,352.4 L87.4,350.8 L87.7,349.3 L87.9,347.7 L88.2,346.2 L88.4,344.6 L88.7,343.1 L88.9,341.5 L89.2,340.0 L89.4,338.4 L89.7,336.9 L89.9,335.4 L90.2,333.8 L90.4,332.3 L90.7,330.8 L90.9,329.3 L91.2,327.9 L91.4,326.4 L91.7,325.0 L91.9,323.7 L92.2,322.5 L92.4,321.6 L92.7,320.8 L92.9,320.0 L93.2,319.0 L93.4,318.0 L93.7,317.0 L93.9,316.0 L94.2,315.0 L94.4,314.0 L94.7,313.0 L94.9,311.9 L95.2,310.9 L95.4,309.8 L95.7,308.8 L95.9,307.7 L96.2,306.7 L96.4,305.6 L96.7,304.5 L96.9,303.3 L97.2,302.2 L97.4,301.0 L97.7,299.8 L97.9,298.5 L98.2,297.3 L98.4,296.1 L98.7,295.0 L98.9,293.8 L99.2,292.7 L99.4,291.6 L99.7,290.6 L99.9,289.5 L100.2,288.5 L100.4,287.5 L100.7,286.5 L100.9,285.5 L101.2,284.5 L101.4,283.5 L101.7,282.6 L101.9,281.7 L102.2,280.7 L102.4,279.8 L102.7,279.0 L102.9,278.1 L103.2,277.2 L103.4,276.4 L103.7,275.6 L103.9,274.8 L104.2,274.0 L104.4,273.2 L104.7,272.5 L104.9,271.8 L105.2,271.1 L105.4,270.4 L105.7,269.7 L105.9,269.1 L106.1,268.5 L106.4,267.9 L106.6,267.3 L106.9,266.7 L107.1,266.2 L107.4,265.6 L107.6,265.0 L107.9,264.4 L108.1,263.8 L108.4,263.2 L108.6,262.7 L108.9,262.2 L109.1,261.7 L109.4,261.2 L109.6,260.7 L109.9,260.2 L110.1,259.8 L110.4,259.4 L110.6,259.0 L110.9,258.6 L111.1,258.2 L111.4,257.9 L111.6,257.5 L111.9,257.2 L112.1,256.9 L112.4,256.7 L112.6,256.4 L112.9,256.2 L113.1,256.0 L113.4,255.8 L113.6,255.7 L113.9,255.6 L114.1,255.4 L114.4,255.4 L114.6,255.3 L114.9,255.2 L115.1,255.2 L115.4,255.2 L115.6,255.2 L115.9,255.2 L116.1,255.3 L116.4,255.4 L116.6,255.5 L116.9,255.6 L117.1,255.7 L117.4,255.8 L117.6,256.0 L117.9,256.2 L118.1,256.4 L118.4,256.6 L118.6,256.9 L118.9,257.1 L119.1,257.4 L119.4,257.7 L119.6,258.0 L119.9,258.3 L120.1,258.6 L120.4,259.0 L120.6,259.4 L120.9,259.7 L121.1,260.1 L121.4,260.5 L121.6,261.0 L121.9,261.4 L122.1,261.9 L122.4,262.4 L122.6,262.9 L122.9,263.4 L123.1,263.9 L123.4,264.4 L123.6,265.0 L123.9,265.6 L124.1,266.2 L124.4,266.8 L124.6,267.5 L124.9,268.1 L125.1,268.8 L125.4,269.5 L125.6,270.2 L125.9,270.9 L126.1,271.7 L126.4,272.4 L126.6,273.2 L126.9,274.0 L127.1,274.8 L127.4,275.7 L127.6,276.5 L127.9,277.4 L128.1,278.3 L128.4,279.2 L128.6,280.1 L128.9,281.0 L129.1,281.9 L129.4,282.9 L129.6,283.9 L129.9,284.9 L130.1,285.9 L130.4,286.9 L130.6,287.9 L130.9,289.0 L131.1,290.1 L131.4,291.2 L131.6,292.3 L131.9,293.4 L132.1,294.5 L132.4,295.6 L132.6,296.8 L132.9,298.0 L133.1,299.1 L133.4,300.3 L133.6,301.6 L133.9,302.8 L134.1,304.0 L134.3,305.3 L134.6,306.5 L134.8,307.8 L135.1,309.1 L135.3,310.4 L135.6,311.7 L135.8,313.0 L136.1,314.3 L136.3,315.7 L136.6,317.0 L136.8,318.4 L137.1,319.8 L137.3,321.2 L137.6,322.6 L137.8,324.0 L138.1,325.4 L138.3,326.8 L138.6,328.3 L138.8,329.7 L139.1,331.2 L139.3,332.7 L139.6,334.2 L139.8,335.7 L140.1,337.2 L140.3,338.7 L140.6,340.3 L140.8,341.8 L141.1,343.4 L141.3,344.9 L141.6,346.5 L141.8,348.1 L142.1,349.7 L142.3,351.3 L142.6,352.9 L142.8,354.6 L143.1,356.2 L143.3,357.8 L143.6,359.5 L143.8,361.1 L144.1,362.8 L144.3,364.4 L144.6,366.1 L144.8,367.8 L145.1,369.4 L145.3,371.1 L145.6,372.7 L145.8,374.4 L146.1,376.1 L146.3,377.8 L146.6,379.4 L146.8,381.1 L147.1,382.8 L147.3,384.5 L147.6,386.1 L147.8,387.8 L148.1,389.5 L148.3,391.1 L148.6,392.7 L148.8,394.4 L149.1,396.0 L149.3,397.6 L149.6,399.2 L149.8,400.7 L150.1,402.3 L150.3,403.8 L150.6,405.1 L150.8,406.4 L151.1,407.9 L151.3,409.6 L151.6,411.4 L151.8,413.2 L152.1,414.6 L152.3,413.0 L152.6,411.7 L152.8,410.5 L153.1,409.7 L153.3,409.8 L153.6,409.6 L153.8,408.8 L154.1,407.8 L154.3,406.6 L154.6,405.4 L154.8,404.2 L155.1,403.0 L155.3,401.6 L155.6,400.2 L155.8,398.7 L156.1,397.2 L156.3,395.6 L156.6,393.9 L156.8,392.1 L157.1,390.3 L157.3,388.5 L157.6,386.6 L157.8,384.8 L158.1,383.0 L158.3,381.2 L158.6,379.4 L158.8,377.7 L159.1,376.0 L159.3,374.3 L159.6,372.6 L159.8,370.9 L160.1,369.2 L160.3,367.5 L160.6,365.8 L160.8,364.1 L161.1,362.4 L161.3,360.7 L161.6,359.0 L161.8,357.2 L162.1,355.5 L162.3,353.8 L162.6,352.1 L162.8,350.4 L163.0,348.7 L163.3,347.0 L163.5,345.3 L163.8,343.6 L164.0,341.9 L164.3,340.2 L164.5,338.5 L164.8,336.9 L165.0,335.2 L165.3,333.6 L165.5,332.0 L165.8,330.4 L166.0,328.9 L166.3,327.3 L166.5,325.8 L166.8,324.3 L167.0,322.8 L167.3,321.3 L167.5,319.9 L167.8,318.4 L168.0,317.0 L168.3,315.6 L168.5,314.2 L168.8,312.8 L169.0,311.4 L169.3,310.0 L169.5,308.7 L169.8,307.4 L170.0,306.1 L170.3,304.8 L170.5,303.5 L170.8,302.2 L171.0,300.9 L171.3,299.7 L171.5,298.5 L171.8,297.2 L172.0,296.0 L172.3,294.9 L172.5,293.7 L172.8,292.5 L173.0,291.4 L173.3,290.3 L173.5,289.2 L173.8,288.1 L174.0,287.0 L174.3,285.9 L174.5,284.9 L174.8,283.9 L175.0,282.9 L175.3,281.9 L175.5,280.9 L175.8,279.9 L176.0,279.0 L176.3,278.1 L176.5,277.2 L176.8,276.3 L177.0,275.4 L177.3,274.6 L177.5,273.8 L177.8,272.9 L178.0,272.2 L178.3,271.4 L178.5,270.6 L178.8,269.9 L179.0,269.1 L179.3,268.4 L179.5,267.7 L179.8,267.1 L180.0,266.4 L180.3,265.8 L180.5,265.1 L180.8,264.5 L181.0,263.9 L181.3,263.4 L181.5,262.8 L181.8,262.3 L182.0,261.8 L182.3,261.3 L182.5,260.8 L182.8,260.3 L183.0,259.9 L183.3,259.4 L183.5,259.0 L183.8,258.6 L184.0,258.2 L184.3,257.9 L184.5,257.5 L184.8,257.2 L185.0,256.8 L185.3,256.5 L185.5,256.2 L185.8,256.0 L186.0,255.7 L186.3,255.5 L186.5,255.2 L186.8,255.0 L187.0,254.8 L187.3,254.7 L187.5,254.5 L187.8,254.4 L188.0,254.3 L188.3,254.2 L188.5,254.1 L188.8,254.0 L189.0,254.0 L189.3,253.9 L189.5,253.9 L189.8,253.9 L190.0,254.0 L190.3,254.0 L190.5,254.1 L190.8,254.1 L191.0,254.2 L191.2,254.3 L191.5,254.5 L191.7,254.6 L192.0,254.8 L192.2,255.0 L192.5,255.2 L192.7,255.4 L193.0,255.7 L193.2,255.9 L193.5,256.2 L193.7,256.5 L194.0,256.8 L194.2,257.1 L194.5,257.5 L194.7,257.8 L195.0,258.2 L195.2,258.6 L195.5,259.0 L195.7,259.5 L196.0,259.9 L196.2,260.4 L196.5,260.9 L196.7,261.4 L197.0,261.9 L197.2,262.4 L197.5,263.0 L197.7,263.5 L198.0,264.1 L198.2,264.7 L198.5,265.4 L198.7,266.0 L199.0,266.6 L199.2,267.3 L199.5,268.0 L199.7,268.7 L200.0,269.4 L200.2,270.2 L200.5,270.9 L200.7,271.7 L201.0,272.5 L201.2,273.3 L201.5,274.1 L201.7,274.9 L202.0,275.8 L202.2,276.6 L202.5,277.5 L202.7,278.4 L203.0,279.3 L203.2,280.3 L203.5,281.2 L203.7,282.2 L204.0,283.1 L204.2,284.1 L204.5,285.1 L204.7,286.2 L205.0,287.2 L205.2,288.2 L205.5,289.3 L205.7,290.4 L206.0,291.5 L206.2,292.6 L206.5,293.7 L206.7,294.9 L207.0,296.0 L207.2,297.2 L207.5,298.4 L207.7,299.6 L208.0,300.8 L208.2,302.0 L208.5,303.2 L208.7,304.5 L209.0,305.8 L209.2,307.0 L209.5,308.3 L209.7,309.6 L210.0,311.0 L210.2,312.3 L210.5,313.6 L210.7,315.0 L211.0,316.4 L211.2,317.7 L211.5,319.1 L211.7,320.5 L212.0,322.0 L212.2,323.4 L212.5,324.8 L212.7,326.3 L213.0,327.8 L213.2,329.2 L213.5,330.7 L213.7,332.2 L214.0,333.8 L214.2,335.3 L214.5,336.8 L214.7,338.4 L215.0,340.0 L215.2,341.6 L215.5,343.1 L215.7,344.8 L216.0,346.4 L216.2,348.0 L216.5,349.6 L216.7,351.3 L217.0,353.0 L217.2,354.6 L217.5,356.3 L217.7,358.0 L218.0,359.7 L218.2,361.4 L218.5,363.0 L218.7,364.8 L219.0,366.5 L219.2,368.2 L219.5,369.9 L219.7,371.6 L219.9,373.4 L220.2,375.1 L220.4,376.9 L220.7,378.6 L220.9,380.4 L221.2,382.2 L221.4,383.9 L221.7,385.7 L221.9,387.5 L222.2,389.2 L222.4,391.0 L222.7,392.8 L222.9,394.6 L223.2,396.3 L223.4,398.1 L223.7,399.8 L223.9,401.6 L224.2,403.3 L224.4,404.9 L224.7,406.6 L224.9,408.2 L225.2,409.8 L225.4,411.3 L225.7,412.8 L225.9,414.4 L226.2,415.9 L226.4,417.5 L226.7,419.1 L226.9,420.0 L227.2,418.3 L227.4,416.9 L227.7,415.7 L227.9,414.5 L228.2,413.1 L228.4,411.6 L228.7,410.0 L228.9,408.3 L229.2,406.7 L229.4,405.1 L229.7,403.4 L229.9,401.7 L230.2,400.0 L230.4,398.3 L230.7,396.6 L230.9,394.8 L231.2,393.1 L231.4,391.3 L231.7,389.5 L231.9,387.8 L232.2,386.0 L232.4,384.2 L232.7,382.5 L232.9,380.7 L233.2,378.9 L233.4,377.2 L233.7,375.4 L233.9,373.6 L234.2,371.8 L234.4,370.0 L234.7,368.2 L234.9,366.4 L235.2,364.7 L235.4,363.0 L235.7,361.3 L235.9,359.6 L236.2,357.9 L236.4,356.2 L236.7,354.6 L236.9,352.9 L237.2,351.3 L237.4,349.6 L237.7,348.0 L237.9,346.4 L238.2,344.8 L238.4,343.3 L238.7,341.7 L238.9,340.1 L239.2,338.6 L239.4,337.1 L239.7,335.5 L239.9,334.0 L240.2,332.5 L240.4,331.0 L240.7,329.6 L240.9,328.1 L241.2,326.6 L241.4,325.2 L241.7,323.8 L241.9,322.3 L242.2,320.9 L242.4,319.5 L242.7,318.1 L242.9,316.8 L243.2,315.4 L243.4,314.1 L243.7,312.7 L243.9,311.4 L244.2,310.1 L244.4,308.8 L244.7,307.5 L244.9,306.2 L245.2,305.0 L245.4,303.7 L245.7,302.5 L245.9,301.3 L246.2,300.0 L246.4,298.8 L246.7,297.7 L246.9,296.5 L247.2,295.3 L247.4,294.2 L247.7,293.1 L247.9,292.0 L248.2,290.9 L248.4,289.8 L248.6,288.7 L248.9,287.7 L249.1,286.6 L249.4,285.6 L249.6,284.6 L249.9,283.6 L250.1,282.7 L250.4,281.7 L250.6,280.7 L250.9,279.8 L251.1,278.9 L251.4,278.0 L251.6,277.1 L251.9,276.3 L252.1,275.4 L252.4,274.6 L252.6,273.8 L252.9,273.0 L253.1,272.2 L253.4,271.4 L253.6,270.7 L253.9,270.0 L254.1,269.2 L254.4,268.5 L254.6,267.9 L254.9,267.2 L255.1,266.6 L255.4,265.9 L255.6,265.3 L255.9,264.8 L256.1,264.2 L256.4,263.6 L256.6,263.1 L256.9,262.6 L257.1,262.1 L257.4,261.6 L257.6,261.1 L257.9,260.7 L258.1,260.2 L258.4,259.8 L258.6,259.4 L258.9,259.0 L259.1,258.7 L259.4,258.3 L259.6,258.0 L259.9,257.7 L260.1,257.4 L260.4,257.1 L260.6,256.8 L260.9,256.6 L261.1,256.4 L261.4,256.1 L261.6,255.9 L261.9,255.8 L262.1,255.6 L262.4,255.5 L262.6,255.3 L262.9,255.2 L263.1,255.1 L263.4,255.0 L263.6,254.9 L263.9,254.9 L264.1,254.8 L264.4,254.8 L264.6,254.8 L264.9,254.8 L265.1,254.9 L265.4,254.9 L265.6,255.0 L265.9,255.1 L266.1,255.2 L266.4,255.3 L266.6,255.4 L266.9,255.6 L267.1,255.7 L267.4,255.9 L267.6,256.1 L267.9,256.4 L268.1,256.6 L268.4,256.9 L268.6,257.2 L268.9,257.5 L269.1,257.8 L269.4,258.1 L269.6,258.5 L269.9,258.8 L270.1,259.2 L270.4,259.6 L270.6,260.0 L270.9,260.5 L271.1,260.9 L271.4,261.4 L271.6,261.9 L271.9,262.4 L272.1,262.9 L272.4,263.4 L272.6,264.0 L272.9,264.6 L273.1,265.2 L273.4,265.8 L273.6,266.4 L273.9,267.1 L274.1,267.7 L274.4,268.4 L274.6,269.1 L274.9,269.8 L275.1,270.6 L275.4,271.3 L275.6,272.1 L275.9,272.9 L276.1,273.7 L276.4,274.5 L276.6,275.3 L276.8,276.2 L277.1,277.0 L277.3,277.9 L277.6,278.8 L277.8,279.7 L278.1,280.7 L278.3,281.6 L278.6,282.6 L278.8,283.5 L279.1,284.5 L279.3,285.5 L279.6,286.6 L279.8,287.6 L280.1,288.6 L280.3,289.7 L280.6,290.8 L280.8,291.9 L281.1,293.0 L281.3,294.1 L281.6,295.2 L281.8,296.4 L282.1,297.6 L282.3,298.7 L282.6,299.9 L282.8,301.1 L283.1,302.3 L283.3,303.6 L283.6,304.8 L283.8,306.1 L284.1,307.3 L284.3,308.6 L284.6,309.9 L284.8,311.2 L285.1,312.5 L285.3,313.9 L285.6,315.2 L285.8,316.6 L286.1,318.0 L286.3,319.4 L286.6,320.8 L286.8,322.2 L287.1,323.6 L287.3,325.0 L287.6,326.5 L287.8,328.0 L288.1,329.4 L288.3,330.9 L288.6,332.4 L288.8,334.0 L289.1,335.5 L289.3,337.0 L289.6,338.6 L289.8,340.1 L290.1,341.7 L290.3,343.3 L290.6,344.9 L290.8,346.5 L291.1,348.1 L291.3,349.7 L291.6,351.4 L291.8,353.0 L292.1,354.7 L292.3,356.3 L292.6,358.0 L292.8,359.7 L293.1,361.4 L293.3,363.1 L293.6,364.8 L293.8,366.5 L294.1,368.3 L294.3,370.0 L294.6,371.7 L294.8,373.4 L295.1,375.1 L295.3,376.9 L295.6,378.6 L295.8,380.4 L296.1,382.1 L296.3,383.9 L296.6,385.6 L296.8,387.4 L297.1,389.1 L297.3,390.9 L297.6,392.6 L297.8,394.4 L298.1,396.1 L298.3,397.9 L298.6,399.6 L298.8,401.3 L299.1,403.0 L299.3,404.6 L299.6,406.2 L299.8,407.8 L300.1,409.3 L300.3,410.9 L300.6,412.4 L300.8,413.9 L301.1,415.4 L301.3,417.0 L301.6,418.6 L301.8,419.1 L302.1,417.5 L302.3,416.1 L302.6,415.0 L302.8,414.0 L303.1,412.7 L303.3,411.3 L303.6,409.6 L303.8,407.9 L304.1,406.2 L304.3,404.4 L304.6,402.6 L304.8,400.8 L305.1,399.0 L305.3,397.2 L305.5,395.4 L305.8,393.6 L306.0,391.8 L306.3,390.0 L306.5,388.1 L306.8,386.3 L307.0,384.5 L307.3,382.6 L307.5,380.8 L307.8,379.0 L308.0,377.3 L308.3,375.5 L308.5,373.8 L308.8,372.1 L309.0,370.4 L309.3,368.7 L309.5,367.0 L309.8,365.3 L310.0,363.6 L310.3,362.0 L310.5,360.3 L310.8,358.7 L311.0,357.0 L311.3,355.4 L311.5,353.8 L311.8,352.2 L312.0,350.6 L312.3,349.0 L312.5,347.4 L312.8,345.8 L313.0,344.2 L313.3,342.7 L313.5,341.1 L313.8,339.6 L314.0,338.0 L314.3,336.5 L314.5,335.0 L314.8,333.5 L315.0,332.0 L315.3,330.6 L315.5,329.1 L315.8,327.6 L316.0,326.2 L316.3,324.8 L316.5,323.3 L316.8,321.9 L317.0,320.5 L317.3,319.2 L317.5,317.8 L317.8,316.4 L318.0,315.1 L318.3,313.8 L318.5,312.4 L318.8,311.1 L319.0,309.8 L319.3,308.6 L319.5,307.3 L319.8,306.0 L320.0,304.8 L320.3,303.6 L320.5,302.3 L320.8,301.1 L321.0,299.9 L321.3,298.8 L321.5,297.6 L321.8,296.4 L322.0,295.3 L322.3,294.2 L322.5,293.1 L322.8,292.0 L323.0,290.9 L323.3,289.8 L323.5,288.8 L323.8,287.7 L324.0,286.7 L324.3,285.7 L324.5,284.7 L324.8,283.7 L325.0,282.8 L325.3,281.8 L325.5,280.9 L325.8,280.0 L326.0,279.1 L326.3,278.2 L326.5,277.3 L326.8,276.4 L327.0,275.6 L327.3,274.8 L327.5,274.0 L327.8,273.2 L328.0,272.4 L328.3,271.7 L328.5,270.9 L328.8,270.2 L329.0,269.5 L329.3,268.8 L329.5,268.1 L329.8,267.4 L330.0,266.8 L330.3,266.2 L330.5,265.6 L330.8,265.0 L331.0,264.4 L331.3,263.9 L331.5,263.3 L331.8,262.8 L332.0,262.3 L332.3,261.8 L332.5,261.3 L332.8,260.9 L333.0,260.4 L333.3,260.0 L333.5,259.6 L333.8,259.2 L334.0,258.9 L334.2,258.5 L334.5,258.2 L334.7,257.9 L335.0,257.6 L335.2,257.3 L335.5,257.0 L335.7,256.8 L336.0,256.6 L336.2,256.4 L336.5,256.2 L336.7,256.0 L337.0,255.8 L337.2,255.7 L337.5,255.6 L337.7,255.5 L338.0,255.4 L338.2,255.3 L338.5,255.2 L338.7,255.2 L339.0,255.2 L339.2,255.2 L339.5,255.2 L339.7,255.2 L340.0,255.2 L340.2,255.3 L340.5,255.4 L340.7,255.5 L341.0,255.6 L341.2,255.7 L341.5,255.9 L341.7,256.0 L342.0,256.2 L342.2,256.4 L342.5,256.6 L342.7,256.9 L343.0,257.1 L343.2,257.4 L343.5,257.7 L343.7,258.0 L344.0,258.3 L344.2,258.6 L344.5,259.0 L344.7,259.4 L345.0,259.8 L345.2,260.2 L345.5,260.6 L345.7,261.0 L346.0,261.5 L346.2,262.0 L346.5,262.5 L346.7,263.0 L347.0,263.5 L347.2,264.0 L347.5,264.6 L347.7,265.2 L348.0,265.8 L348.2,266.4 L348.5,267.0 L348.7,267.7 L349.0,268.3 L349.2,269.0 L349.5,269.7 L349.7,270.4 L350.0,271.2 L350.2,271.9 L350.5,272.7 L350.7,273.5 L351.0,274.3 L351.2,275.1 L351.5,275.9 L351.7,276.7 L352.0,277.6 L352.2,278.5 L352.5,279.4 L352.7,280.3 L353.0,281.2 L353.2,282.1 L353.5,283.1 L353.7,284.1 L354.0,285.0 L354.2,286.0 L354.5,287.1 L354.7,288.1 L355.0,289.1 L355.2,290.2 L355.5,291.3 L355.7,292.3 L356.0,293.4 L356.2,294.6 L356.5,295.7 L356.7,296.8 L357.0,298.0 L357.2,299.2 L357.5,300.4 L357.7,301.6 L358.0,302.8 L358.2,304.0 L358.5,305.2 L358.7,306.5 L359.0,307.7 L359.2,309.0 L359.5,310.3 L359.7,311.6 L360.0,312.9 L360.2,314.2 L360.5,315.6 L360.7,316.9 L361.0,318.3 L361.2,319.7 L361.5,321.1 L361.7,322.5 L362.0,323.9 L362.2,325.3 L362.4,326.7 L362.7,328.2 L362.9,329.6 L363.2,331.1 L363.4,332.5 L363.7,334.0 L363.9,335.5 L364.2,337.0 L364.4,338.6 L364.7,340.1 L364.9,341.6 L365.2,343.2 L365.4,344.8 L365.7,346.4 L365.9,348.0 L366.2,349.6 L366.4,351.2 L366.7,352.8 L366.9,354.5 L367.2,356.2 L367.4,357.8 L367.7,359.5 L367.9,361.2 L368.2,362.9 L368.4,364.5 L368.7,366.2 L368.9,367.9 L369.2,369.6 L369.4,371.4 L369.7,373.1 L369.9,374.8 L370.2,376.5 L370.4,378.3 L370.7,380.0 L370.9,381.8 L371.2,383.5 L371.4,385.3 L371.7,387.0 L371.9,388.8 L372.2,390.6 L372.4,392.3 L372.7,394.1 L372.9,395.9 L373.2,397.6 L373.4,399.4 L373.7,401.2 L373.9,403.0 L374.2,404.8 L374.4,406.6 L374.7,408.3 L374.9,410.1 L375.2,411.9 L375.4,413.6 L375.7,415.2 L375.9,416.7 L376.2,417.8 L376.4,418.6 L376.7,418.6 L376.9,417.3 L377.2,416.2 L377.4,415.2 L377.7,414.0 L377.9,412.6 L378.2,411.0 L378.4,409.4 L378.7,407.7 L378.9,406.0 L379.2,404.2 L379.4,402.4 L379.7,400.6 L379.9,398.8 L380.2,397.0 L380.4,395.2 L380.7,393.3 L380.9,391.5 L381.2,389.7 L381.4,387.9 L381.7,386.1 L381.9,384.2 L382.2,382.4 L382.4,380.6 L382.7,378.8 L382.9,377.1 L383.2,375.3 L383.4,373.6 L383.7,371.9 L383.9,370.2 L384.2,368.5 L384.4,366.8 L384.7,365.1 L384.9,363.4 L385.2,361.8 L385.4,360.1 L385.7,358.5 L385.9,356.8 L386.2,355.2 L386.4,353.6 L386.7,352.0 L386.9,350.4 L387.2,348.8 L387.4,347.2 L387.7,345.6 L387.9,344.0 L388.2,342.5 L388.4,340.9 L388.7,339.4 L388.9,337.9 L389.2,336.3 L389.4,334.8 L389.7,333.3 L389.9,331.8 L390.2,330.4 L390.4,328.9 L390.7,327.5 L390.9,326.0 L391.1,324.6 L391.4,323.2 L391.6,321.8 L391.9,320.4 L392.1,319.0 L392.4,317.6 L392.6,316.3 L392.9,314.9 L393.1,313.6 L393.4,312.3 L393.6,311.0 L393.9,309.7 L394.1,308.4 L394.4,307.1 L394.6,305.9 L394.9,304.6 L395.1,303.4 L395.4,302.2 L395.6,301.0 L395.9,299.8 L396.1,298.6 L396.4,297.4 L396.6,296.3 L396.9,295.2 L397.1,294.0 L397.4,292.9 L397.6,291.8 L397.9,290.7 L398.1,289.7 L398.4,288.6 L398.6,287.6 L398.9,286.6 L399.1,285.6 L399.4,284.6 L399.6,283.6 L399.9,282.6 L400.1,281.7 L400.4,280.8 L400.6,279.8 L400.9,278.9 L401.1,278.1 L401.4,277.2 L401.6,276.3 L401.9,275.5 L402.1,274.7 L402.4,273.9 L402.6,273.1 L402.9,272.3 L403.1,271.6 L403.4,270.8 L403.6,270.1 L403.9,269.4 L404.1,268.7 L404.4,268.0 L404.6,267.4 L404.9,266.7 L405.1,266.1 L405.4,265.5 L405.6,264.9 L405.9,264.3 L406.1,263.8 L406.4,263.2 L406.6,262.7 L406.9,262.2 L407.1,261.7 L407.4,261.3 L407.6,260.8 L407.9,260.4 L408.1,260.0 L408.4,259.6 L408.6,259.2 L408.9,258.8 L409.1,258.5 L409.4,258.1 L409.6,257.8 L409.9,257.5 L410.1,257.3 L410.4,257.0 L410.6,256.8 L410.9,256.5 L411.1,256.3 L411.4,256.2 L411.6,256.0 L411.9,255.8 L412.1,255.7 L412.4,255.6 L412.6,255.5 L412.9,255.4 L413.1,255.3 L413.4,255.2 L413.6,255.2 L413.9,255.2 L414.1,255.2 L414.4,255.2 L414.6,255.2 L414.9,255.2 L415.1,255.3 L415.4,255.4 L415.6,255.5 L415.9,255.6 L416.1,255.7 L416.4,255.9 L416.6,256.0 L416.9,256.2 L417.1,256.4 L417.4,256.7 L417.6,256.9 L417.9,257.1 L418.1,257.4 L418.4,257.7 L418.6,258.0 L418.9,258.3 L419.1,258.7 L419.3,259.0 L419.6,259.4 L419.8,259.8 L420.1,260.2 L420.3,260.6 L420.6,261.1 L420.8,261.6 L421.1,262.0 L421.3,262.5 L421.6,263.0 L421.8,263.6 L422.1,264.1 L422.3,264.7 L422.6,265.3 L422.8,265.9 L423.1,266.5 L423.3,267.1 L423.6,267.8 L423.8,268.4 L424.1,269.1 L424.3,269.8 L424.6,270.5 L424.8,271.3 L425.1,272.0 L425.3,272.8 L425.6,273.6 L425.8,274.4 L426.1,275.2 L426.3,276.0 L426.6,276.8 L426.8,277.7 L427.1,278.6 L427.3,279.5 L427.6,280.4 L427.8,281.3 L428.1,282.2 L428.3,283.2 L428.6,284.2 L428.8,285.2 L429.1,286.2 L429.3,287.2 L429.6,288.2 L429.8,289.3 L430.1,290.3 L430.3,291.4 L430.6,292.5 L430.8,293.6 L431.1,294.7 L431.3,295.8 L431.6,297.0 L431.8,298.1 L432.1,299.3 L432.3,300.5 L432.6,301.7 L432.8,302.9 L433.1,304.1 L433.3,305.4 L433.6,306.6 L433.8,307.9 L434.1,309.2 L434.3,310.5 L434.6,311.8 L434.8,313.1 L435.1,314.4 L435.3,315.7 L435.6,317.1 L435.8,318.5 L436.1,319.8 L436.3,321.2 L436.6,322.6 L436.8,324.0 L437.1,325.5 L437.3,326.9 L437.6,328.3 L437.8,329.8 L438.1,331.2 L438.3,332.7 L438.6,334.2 L438.8,335.7 L439.1,337.2 L439.3,338.7 L439.6,340.3 L439.8,341.8 L440.1,343.4 L440.3,345.0 L440.6,346.6 L440.8,348.2 L441.1,349.8 L441.3,351.4 L441.6,353.1 L441.8,354.7 L442.1,356.4 L442.3,358.0 L442.6,359.7 L442.8,361.4 L443.1,363.1 L443.3,364.8 L443.6,366.5 L443.8,368.2 L444.1,369.9 L444.3,371.6 L444.6,373.3 L444.8,375.0 L445.1,376.8 L445.3,378.5 L445.6,380.2 L445.8,382.0 L446.1,383.7 L446.3,385.5 L446.6,387.2 L446.8,389.0 L447.1,390.8 L447.3,392.5 L447.6,394.3 L447.8,396.1 L448.0,397.9 L448.3,399.6 L448.5,401.4 L448.8,403.2 L449.0,405.0 L449.3,406.8 L449.5,408.6 L449.8,410.3 L450.0,412.1 L450.3,413.8 L450.5,415.4 L450.8,416.9 L451.0,417.9 L451.3,419.0 L451.5,418.6 L451.8,417.3 L452.0,416.2 L452.3,415.1 L452.5,413.8 L452.8,412.4 L453.0,410.9 L453.3,409.2 L453.5,407.5 L453.8,405.7 L454.0,404.0 L454.3,402.2 L454.5,400.4 L454.8,398.5 L455.0,396.7 L455.3,394.9 L455.5,393.1 L455.8,391.3 L456.0,389.5 L456.3,387.7 L456.5,385.8 L456.8,384.0 L457.0,382.2 L457.3,380.4 L457.5,378.6 L457.8,376.8 L458.0,375.1 L458.3,373.4 L458.5,371.7 L458.8,369.9 L459.0,368.2 L459.3,366.6 L459.5,364.9 L459.8,363.2 L460.0,361.5 L460.3,359.9 L460.5,358.3 L460.8,356.6 L461.0,355.0 L461.3,353.4 L461.5,351.8 L461.8,350.2 L462.0,348.6 L462.3,347.0 L462.5,345.4 L462.8,343.8 L463.0,342.3 L463.3,340.7 L463.5,339.2 L463.8,337.7 L464.0,336.2 L464.3,334.6 L464.5,333.1 L464.8,331.7 L465.0,330.2 L465.3,328.7 L465.5,327.3 L465.8,325.8 L466.0,324.4 L466.3,323.0 L466.5,321.6 L466.8,320.2 L467.0,318.8 L467.3,317.5 L467.5,316.1 L467.8,314.8 L468.0,313.4 L468.3,312.1 L468.5,310.8 L468.8,309.5 L469.0,308.2 L469.3,307.0 L469.5,305.7 L469.8,304.5 L470.0,303.3 L470.3,302.0 L470.5,300.8 L470.8,299.6 L471.0,298.5 L471.3,297.3 L471.5,296.2 L471.8,295.0 L472.0,293.9 L472.3,292.8 L472.5,291.7 L472.8,290.6 L473.0,289.5 L473.3,288.5 L473.5,287.5 L473.8,286.4 L474.0,285.4 L474.3,284.5 L474.5,283.5 L474.8,282.5 L475.0,281.6 L475.3,280.6 L475.5,279.7 L475.8,278.8 L476.0,278.0 L476.3,277.1 L476.5,276.2 L476.7,275.4 L477.0,274.6 L477.2,273.8 L477.5,273.0 L477.7,272.2 L478.0,271.5 L478.2,270.7 L478.5,270.0 L478.7,269.3 L479.0,268.6 L479.2,267.9 L479.5,267.3 L479.7,266.6 L480.0,266.0 L480.2,265.4 L480.5,264.8 L480.7,264.3 L481.0,263.7 L481.2,263.2 L481.5,262.7 L481.7,262.2 L482.0,261.7 L482.2,261.2 L482.5,260.8 L482.7,260.3 L483.0,259.9 L483.2,259.5 L483.5,259.1 L483.7,258.8 L484.0,258.4 L484.2,258.1 L484.5,257.8 L484.7,257.5 L485.0,257.2 L485.2,257.0 L485.5,256.7 L485.7,256.5 L486.0,256.3 L486.2,256.1 L486.5,256.0 L486.7,255.8 L487.0,255.7 L487.2,255.5 L487.5,255.4 L487.7,255.4 L488.0,255.3 L488.2,255.2 L488.5,255.2 L488.7,255.2 L489.0,255.2 L489.2,255.2 L489.5,255.2 L489.7,255.3 L490.0,255.3 L490.2,255.4 L490.5,255.5 L490.7,255.6 L491.0,255.7 L491.2,255.9 L491.5,256.1 L491.7,256.3 L492.0,256.5 L492.2,256.7 L492.5,256.9 L492.7,257.2 L493.0,257.5 L493.2,257.7 L493.5,258.1 L493.7,258.4 L494.0,258.7 L494.2,259.1 L494.5,259.5 L494.7,259.9 L495.0,260.3 L495.2,260.7 L495.5,261.1 L495.7,261.6 L496.0,262.1 L496.2,262.6 L496.5,263.1 L496.7,263.6 L497.0,264.2 L497.2,264.8 L497.5,265.3 L497.7,265.9 L498.0,266.6 L498.2,267.2 L498.5,267.8 L498.7,268.5 L499.0,269.2 L499.2,269.9 L499.5,270.6 L499.7,271.4 L500.0,272.1 L500.2,272.9 L500.5,273.7 L500.7,274.5 L501.0,275.3 L501.2,276.1 L501.5,277.0 L501.7,277.8 L502.0,278.7 L502.2,279.6 L502.5,280.5 L502.7,281.4 L503.0,282.4 L503.2,283.3 L503.5,284.3 L503.7,285.3 L504.0,286.3 L504.2,287.3 L504.5,288.3 L504.7,289.4 L504.9,290.5 L505.2,291.5 L505.4,292.6 L505.7,293.7 L505.9,294.8 L506.2,296.0 L506.4,297.1 L506.7,298.3 L506.9,299.5 L507.2,300.7 L507.4,301.9 L507.7,303.1 L507.9,304.3 L508.2,305.5 L508.4,306.8 L508.7,308.1 L508.9,309.3 L509.2,310.6 L509.4,311.9 L509.7,313.2 L509.9,314.6 L510.2,315.9 L510.4,317.3 L510.7,318.6 L510.9,320.0 L511.2,321.4 L511.4,322.8 L511.7,324.2 L511.9,325.6 L512.2,327.1 L512.4,328.5 L512.7,330.0 L512.9,331.4 L513.2,332.9 L513.4,334.4 L513.7,335.9 L513.9,337.4 L514.2,338.9 L514.4,340.5 L514.7,342.0 L514.9,343.6 L515.2,345.2 L515.4,346.8 L515.7,348.4 L515.9,350.0 L516.2,351.6 L516.4,353.3 L516.7,354.9 L516.9,356.6 L517.2,358.2 L517.4,359.9 L517.7,361.6 L517.9,363.3 L518.2,365.0 L518.4,366.7 L518.7,368.4 L518.9,370.1 L519.2,371.8 L519.4,373.5 L519.7,375.2 L519.9,377.0 L520.2,378.7 L520.4,380.5 L520.7,382.2 L520.9,384.0 L521.2,385.7 L521.4,387.5 L521.7,389.2 L521.9,391.0 L522.2,392.8 L522.4,394.5 L522.7,396.3 L522.9,398.1 L523.2,399.9 L523.4,401.6 L523.7,403.4 L523.9,405.2 L524.2,407.0 L524.4,408.8 L524.7,410.5 L524.9,412.3 L525.2,414.0 L525.4,415.6 L525.7,417.1 L525.9,418.0 L526.2,419.1 L526.4,418.4 L526.7,417.1 L526.9,416.0 L527.2,414.9 L527.4,413.6 L527.7,412.3 L527.9,410.7 L528.2,409.0 L528.4,407.3 L528.7,405.5 L528.9,403.7 L529.2,401.9 L529.4,400.1 L529.7,398.3 L529.9,396.5 L530.2,394.7 L530.4,392.9 L530.7,391.1 L530.9,389.3 L531.2,387.4 L531.4,385.6 L531.7,383.8 L531.9,382.0 L532.2,380.2 L532.4,378.4 L532.7,376.6 L532.9,374.9 L533.2,373.1 L533.4,371.4 L533.6,369.7 L533.9,368.0 L534.1,366.3 L534.4,364.7 L534.6,363.0 L534.9,361.3 L535.1,359.7 L535.4,358.0 L535.6,356.4 L535.9,354.8 L536.1,353.2 L536.4,351.6 L536.6,350.0 L536.9,348.4 L537.1,346.8 L537.4,345.2 L537.6,343.6 L537.9,342.1 L538.1,340.5 L538.4,339.0 L538.6,337.5 L538.9,336.0 L539.1,334.5 L539.4,333.0 L539.6,331.5 L539.9,330.0 L540.1,328.5 L540.4,327.1 L540.6,325.7 L540.9,324.2 L541.1,322.8 L541.4,321.4 L541.6,320.0 L541.9,318.7 L542.1,317.3 L542.4,315.9 L542.6,314.6 L542.9,313.3 L543.1,312.0 L543.4,310.7 L543.6,309.4 L543.9,308.1 L544.1,306.8 L544.4,305.6 L544.6,304.3 L544.9,303.1 L545.1,301.9 L545.4,300.7 L545.6,299.5 L545.9,298.3 L546.1,297.2 L546.4,296.0 L546.6,294.9 L546.9,293.8 L547.1,292.6 L547.4,291.6 L547.6,290.5 L547.9,289.4 L548.1,288.4 L548.4,287.3 L548.6,286.3 L548.9,285.3 L549.1,284.3 L549.4,283.4 L549.6,282.4 L549.9,281.5 L550.1,280.5 L550.4,279.6 L550.6,278.7 L550.9,277.8 L551.1,277.0 L551.4,276.1 L551.6,275.3 L551.9,274.5 L552.1,273.7 L552.4,272.9 L552.6,272.1 L552.9,271.4 L553.1,270.6 L553.4,269.9 L553.6,269.2 L553.9,268.5 L554.1,267.9 L554.4,267.2 L554.6,266.6 L554.9,266.0 L555.1,265.3 L555.4,264.8 L555.6,264.2 L555.9,263.6 L556.1,263.1 L556.4,262.6 L556.6,262.1 L556.9,261.6 L557.1,261.2 L557.4,260.7 L557.6,260.3 L557.9,259.9 L558.1,259.5 L558.4,259.1 L558.6,258.7 L558.9,258.4 L559.1,258.1 L559.4,257.8 L559.6,257.5 L559.9,257.2 L560.1,256.9 L560.4,256.7 L560.6,256.5 L560.9,256.3 L561.1,256.1 L561.4,255.9 L561.6,255.8 L561.9,255.7 L562.1,255.5 L562.3,255.4 L562.6,255.4 L562.8,255.3 L563.1,255.2 L563.3,255.2 L563.6,255.2 L563.8,255.2 L564.1,255.2 L564.3,255.2 L564.6,255.3 L564.8,255.3 L565.1,255.4 L565.3,255.5 L565.6,255.6 L565.8,255.8 L566.1,255.9 L566.3,256.1 L566.6,256.3 L566.8,256.5 L567.1,256.7 L567.3,257.0 L567.6,257.2 L567.8,257.5 L568.1,257.8 L568.3,258.1 L568.6,258.4 L568.8,258.8 L569.1,259.1 L569.3,259.5 L569.6,259.9 L569.8,260.3 L570.1,260.8 L570.3,261.2 L570.6,261.7 L570.8,262.2 L571.1,262.7 L571.3,263.2 L571.6,263.7 L571.8,264.3 L572.1,264.8 L572.3,265.4 L572.6,266.0 L572.8,266.6 L573.1,267.3 L573.3,267.9 L573.6,268.6 L573.8,269.3 L574.1,270.0 L574.3,270.7 L574.6,271.5 L574.8,272.2 L575.1,273.0 L575.3,273.8 L575.6,274.6 L575.8,275.4 L576.1,276.2 L576.3,277.1 L576.6,277.9 L576.8,278.8 L577.1,279.7 L577.3,280.6 L577.6,281.5 L577.8,282.5 L578.1,283.4 L578.3,284.4 L578.6,285.4 L578.8,286.4 L579.1,287.4 L579.3,288.5 L579.6,289.5 L579.8,290.6 L580.1,291.7 L580.3,292.8 L580.6,293.9 L580.8,295.0 L581.1,296.1 L581.3,297.3 L581.6,298.4 L581.8,299.6 L582.1,300.8 L582.3,302.0 L582.6,303.2 L582.8,304.4 L583.1,305.7 L583.3,306.9 L583.6,308.2 L583.8,309.5 L584.1,310.8 L584.3,312.1 L584.6,313.4 L584.8,314.7 L585.1,316.1 L585.3,317.4 L585.6,318.8 L585.8,320.2 L586.1,321.6 L586.3,323.0 L586.6,324.4 L586.8,325.8 L587.1,327.2 L587.3,328.7 L587.6,330.1 L587.8,331.6 L588.1,333.1 L588.3,334.6 L588.6,336.1 L588.8,337.6 L589.1,339.1 L589.3,340.7 L589.6,342.2 L589.8,343.8 L590.1,345.4 L590.3,347.0 L590.5,348.6 L590.8,350.2 L591.0,351.8 L591.3,353.5 L591.5,355.1 L591.8,356.8 L592.0,358.4 L592.3,360.1 L592.5,361.8 L592.8,363.5 L593.0,365.2 L593.3,366.9 L593.5,368.6 L593.8,370.3 L594.0,372.0 L594.3,373.7 L594.5,375.5 L594.8,377.2 L595.0,378.9 L595.3,380.7 L595.5,382.4 L595.8,384.2 L596.0,385.9 L596.3,387.7 L596.5,389.4 L596.8,391.2 L597.0,393.0 L597.3,394.7 L597.5,396.5 L597.8,398.3 L598.0,400.1 L598.3,401.9 L598.5,403.7 L598.8,405.4 L599.0,407.2 L599.3,409.0 L599.5,410.8 L599.8,412.5 L600.0,414.2 L600.3,415.8 L600.5,417.2 L600.8,418.1 L601.0,419.3 L601.3,418.2 L601.5,417.0 L601.8,415.9 L602.0,414.8 L602.3,413.5 L602.5,412.1 L602.8,410.4 L603.0,408.8 L603.3,407.1 L603.5,405.3 L603.8,403.5 L604.0,401.7 L604.3,399.9 L604.5,398.1 L604.8,396.3 L605.0,394.5 L605.3,392.7 L605.5,390.9 L605.8,389.0 L606.0,387.2 L606.3,385.4 L606.5,383.6 L606.8,381.7 L607.0,379.9 L607.3,378.2 L607.5,376.4 L607.8,374.7 L608.0,372.9 L608.3,371.2 L608.5,369.5 L608.8,367.8 L609.0,366.1 L609.3,364.5 L609.5,362.8 L609.8,361.1 L610.0,359.5 L610.3,357.8 L610.5,356.2 L610.8,354.6 L611.0,353.0 L611.3,351.4 L611.5,349.8 L611.8,348.2 L612.0,346.6 L612.3,345.0 L612.5,343.4 L612.8,341.9 L613.0,340.3 L613.3,338.8 L613.5,337.3 L613.8,335.8 L614.0,334.3 L614.3,332.8 L614.5,331.3 L614.8,329.8 L615.0,328.4 L615.3,326.9 L615.5,325.5 L615.8,324.1 L616.0,322.6 L616.3,321.2 L616.5,319.9 L616.8,318.5 L617.0,317.1 L617.3,315.8 L617.5,314.4 L617.8,313.1 L618.0,311.8 L618.3,310.5 L618.5,309.2 L618.8,307.9 L619.0,306.7 L619.2,305.4 L619.5,304.2 L619.7,302.9 L620.0,301.7 L620.2,300.5 L620.5,299.3 L620.7,298.2 L621.0,297.0 L621.2,295.9 L621.5,294.7 L621.7,293.6 L622.0,292.5 L622.2,291.4 L622.5,290.3 L622.7,289.3 L623.0,288.2 L623.2,287.2 L623.5,286.2 L623.7,285.2 L624.0,284.2 L624.2,283.2 L624.5,282.3 L624.7,281.3 L625.0,280.4 L625.2,279.5 L625.5,278.6 L625.7,277.7 L626.0,276.9 L626.2,276.0 L626.5,275.2 L626.7,274.4 L627.0,273.6 L627.2,272.8 L627.5,272.0 L627.7,271.3 L628.0,270.5 L628.2,269.8 L628.5,269.1 L628.7,268.4 L629.0,267.8 L629.2,267.1 L629.5,266.5 L629.7,265.9 L630.0,265.3 L630.2,264.7 L630.5,264.1 L630.7,263.6 L631.0,263.0 L631.2,262.5 L631.5,262.0 L631.7,261.6 L632.0,261.1 L632.2,260.7 L632.5,260.2 L632.7,259.8 L633.0,259.4 L633.2,259.0 L633.5,258.7 L633.7,258.4 L634.0,258.0 L634.2,257.7 L634.5,257.4 L634.7,257.2 L635.0,256.9 L635.2,256.7 L635.5,256.5 L635.7,256.3 L636.0,256.1 L636.2,255.9 L636.5,255.8 L636.7,255.6 L637.0,255.5 L637.2,255.4 L637.5,255.3 L637.7,255.3 L638.0,255.2 L638.2,255.2 L638.5,255.2 L638.7,255.2 L639.0,255.2 L639.2,255.2 L639.5,255.3 L639.7,255.3 L640.0,255.4 L640.2,255.5 L640.5,255.6 L640.7,255.8 L641.0,255.9 L641.2,256.1 L641.5,256.3 L641.7,256.5 L642.0,256.7 L642.2,257.0 L642.5,257.2 L642.7,257.5 L643.0,257.8 L643.2,258.1 L643.5,258.5 L643.7,258.8 L644.0,259.2 L644.2,259.6 L644.5,260.0 L644.7,260.4 L645.0,260.8 L645.2,261.3 L645.5,261.7 L645.7,262.2 L646.0,262.7 L646.2,263.2 L646.5,263.8 L646.7,264.3 L647.0,264.9 L647.2,265.5 L647.4,266.1 L647.7,266.7 L647.9,267.4 L648.2,268.0 L648.4,268.7 L648.7,269.4 L648.9,270.1 L649.2,270.8 L649.4,271.5 L649.7,272.3 L649.9,273.1 L650.2,273.9 L650.4,274.7 L650.7,275.5 L650.9,276.3 L651.2,277.2 L651.4,278.0 L651.7,278.9 L651.9,279.8 L652.2,280.7 L652.4,281.7 L652.7,282.6 L652.9,283.6 L653.2,284.5 L653.4,285.5 L653.7,286.5 L653.9,287.6 L654.2,288.6 L654.4,289.7 L654.7,290.7 L654.9,291.8 L655.2,292.9 L655.4,294.0 L655.7,295.1 L655.9,296.3 L656.2,297.4 L656.4,298.6 L656.7,299.8 L656.9,300.9 L657.2,302.2 L657.4,303.4 L657.7,304.6 L657.9,305.8 L658.2,307.1 L658.4,308.4 L658.7,309.7 L658.9,311.0 L659.2,312.3 L659.4,313.6 L659.7,314.9 L659.9,316.3 L660.2,317.6 L660.4,319.0 L660.7,320.4 L660.9,321.8 L661.2,323.2 L661.4,324.6 L661.7,326.0 L661.9,327.4 L662.2,328.9 L662.4,330.3 L662.7,331.8 L662.9,333.3 L663.2,334.8 L663.4,336.3 L663.7,337.8 L663.9,339.3 L664.2,340.9 L664.4,342.4 L664.7,344.0 L664.9,345.6 L665.2,347.2 L665.4,348.8 L665.7,350.4 L665.9,352.0 L666.2,353.7 L666.4,355.3 L666.7,357.0 L666.9,358.6 L667.2,360.3 L667.4,362.0 L667.7,363.7 L667.9,365.4 L668.2,367.1 L668.4,368.8 L668.7,370.5 L668.9,372.2 L669.2,373.9 L669.4,375.7 L669.7,377.4 L669.9,379.1 L670.2,380.9 L670.4,382.6 L670.7,384.4 L670.9,386.1 L671.2,387.9 L671.4,389.7 L671.7,391.4 L671.9,393.2 L672.2,395.0 L672.4,396.7 L672.7,398.5 L672.9,400.3 L673.2,402.1 L673.4,403.9 L673.7,405.7 L673.9,407.5 L674.2,409.2 L674.4,411.0 L674.7,412.7 L674.9,414.4 L675.2,416.1 L675.4,417.3 L675.7,417.8 L675.9,419.5" stroke="#e41d1d" stroke-width="2.2" stroke-dasharray="10,10"/>
<path d="M77.2,421.5 L77.4,419.6 L77.7,417.6 L77.9,415.8 L78.2,414.1 L78.4,412.4 L78.7,410.8 L78.9,409.2 L79.2,407.5 L79.4,405.9 L79.7,404.3 L79.9,402.6 L80.2,400.9 L80.4,399.2 L80.7,397.6 L80.9,395.9 L81.2,394.2 L81.4,392.5 L81.7,390.8 L81.9,389.1 L82.2,387.4 L82.4,385.7 L82.7,384.0 L82.9,382.3 L83.2,380.7 L83.4,379.0 L83.7,377.3 L83.9,375.6 L84.2,374.0 L84.4,372.3 L84.7,370.6 L84.9,369.0 L85.2,367.3 L85.4,365.7 L85.7,364.1 L85.9,362.5 L86.2,360.8 L86.4,359.2 L86.7,357.6 L86.9,356.0 L87.2,354.4 L87.4,352.8 L87.7,351.3 L87.9,349.7 L88.2,348.1 L88.4,346.6 L88.7,345.1 L88.9,343.5 L89.2,342.0 L89.4,340.5 L89.7,339.0 L89.9,337.5 L90.2,336.0 L90.4,334.5 L90.7,333.0 L90.9,331.5 L91.2,330.0 L91.4,328.3 L91.7,326.5 L91.9,323.7 L92.2,322.6 L92.4,322.1 L92.7,320.4 L92.9,317.9 L93.2,315.8 L93.4,315.0 L93.7,314.7 L93.9,313.4 L94.2,311.0 L94.4,308.8 L94.7,307.6 L94.9,307.1 L95.2,306.3 L95.4,304.7 L95.7,302.6 L95.9,300.7 L96.2,299.6 L96.4,299.0 L96.7,298.2 L96.9,296.7 L97.2,294.7 L97.4,292.9 L97.7,291.8 L97.9,291.3 L98.2,290.6 L98.4,289.4 L98.7,288.1 L98.9,287.1 L99.2,287.6 L99.4,285.7 L99.7,283.9 L99.9,284.3 L100.2,283.0 L100.4,281.0 L100.7,281.2 L100.9,280.4 L101.2,278.1 L101.4,277.9 L101.7,277.7 L101.9,275.5 L102.2,275.0 L102.4,275.3 L102.7,273.2 L102.9,272.2 L103.2,272.7 L103.4,271.2 L103.7,269.8 L103.9,270.2 L104.2,269.2 L104.4,267.6 L104.7,267.8 L104.9,267.3 L105.2,265.4 L105.4,265.5 L105.7,265.5 L105.9,263.7 L106.1,263.4 L106.4,263.8 L106.6,262.2 L106.9,261.6 L107.1,262.1 L107.4,261.5 L107.6,260.8 L107.9,260.0 L108.1,259.4 L108.4,258.7 L108.6,258.2 L108.9,257.7 L109.1,257.3 L109.4,256.9 L109.6,256.6 L109.9,256.3 L110.1,256.1 L110.4,255.8 L110.6,255.6 L110.9,255.4 L111.1,255.2 L111.4,255.0 L111.6,254.9 L111.9,254.8 L112.1,254.7 L112.4,254.6 L112.6,254.6 L112.9,254.5 L113.1,254.4 L113.4,254.3 L113.6,254.3 L113.9,254.2 L114.1,254.2 L114.4,254.2 L114.6,254.2 L114.9,254.2 L115.1,254.3 L115.4,254.3 L115.6,254.4 L115.9,254.5 L116.1,254.6 L116.4,254.8 L116.6,254.9 L116.9,255.1 L117.1,255.2 L117.4,255.4 L117.6,255.7 L117.9,255.9 L118.1,256.2 L118.4,256.4 L118.6,256.7 L118.9,257.0 L119.1,257.4 L119.4,257.7 L119.6,258.1 L119.9,258.6 L120.1,259.1 L120.4,259.7 L120.6,260.2 L120.9,260.7 L121.1,261.3 L121.4,261.8 L121.6,262.3 L121.9,262.9 L122.1,263.5 L122.4,264.0 L122.6,264.6 L122.9,265.3 L123.1,265.9 L123.4,266.5 L123.6,267.2 L123.9,267.9 L124.1,268.6 L124.4,269.3 L124.6,270.0 L124.9,270.8 L125.1,271.6 L125.4,272.4 L125.6,273.2 L125.9,274.0 L126.1,274.8 L126.4,275.7 L126.6,276.6 L126.9,277.5 L127.1,278.4 L127.4,279.3 L127.6,280.2 L127.9,281.2 L128.1,282.2 L128.4,283.1 L128.6,284.2 L128.9,285.2 L129.1,286.2 L129.4,287.3 L129.6,288.3 L129.9,289.4 L130.1,290.5 L130.4,291.6 L130.6,292.7 L130.9,293.9 L131.1,295.0 L131.4,296.2 L131.6,297.4 L131.9,298.6 L132.1,299.8 L132.4,301.0 L132.6,302.3 L132.9,303.5 L133.1,304.8 L133.4,306.1 L133.6,307.4 L133.9,308.7 L134.1,310.0 L134.3,311.3 L134.6,312.6 L134.8,314.0 L135.1,315.4 L135.3,316.7 L135.6,318.1 L135.8,319.5 L136.1,320.9 L136.3,322.3 L136.6,323.8 L136.8,325.2 L137.1,326.6 L137.3,328.1 L137.6,329.6 L137.8,331.1 L138.1,332.5 L138.3,334.0 L138.6,335.5 L138.8,337.1 L139.1,338.6 L139.3,340.1 L139.6,341.7 L139.8,343.2 L140.1,344.8 L140.3,346.3 L140.6,347.9 L140.8,349.5 L141.1,351.1 L141.3,352.7 L141.6,354.3 L141.8,355.9 L142.1,357.5 L142.3,359.1 L142.6,360.7 L142.8,362.3 L143.1,364.0 L143.3,365.6 L143.6,367.2 L143.8,368.9 L144.1,370.5 L144.3,372.1 L144.6,373.8 L144.8,375.4 L145.1,377.1 L145.3,378.8 L145.6,380.5 L145.8,382.2 L146.1,383.9 L146.3,385.6 L146.6,387.3 L146.8,389.1 L147.1,390.8 L147.3,392.5 L147.6,394.2 L147.8,395.9 L148.1,397.6 L148.3,399.3 L148.6,401.0 L148.8,402.7 L149.1,404.4 L149.3,406.1 L149.6,407.8 L149.8,409.5 L150.1,411.2 L150.3,412.9 L150.6,414.6 L150.8,416.3 L151.1,418.1 L151.3,419.9 L151.6,414.9 L151.8,416.4 L152.1,418.9 L152.3,413.7 L152.6,411.9 L152.8,410.1 L153.1,408.3 L153.3,406.6 L153.6,404.8 L153.8,403.1 L154.1,401.3 L154.3,399.6 L154.6,397.8 L154.8,396.1 L155.1,394.9 L155.3,395.3 L155.6,391.3 L155.8,391.6 L156.1,392.1 L156.3,390.2 L156.6,388.2 L156.8,386.3 L157.1,384.6 L157.3,383.1 L157.6,381.8 L157.8,380.8 L158.1,379.7 L158.3,378.4 L158.6,376.8 L158.8,374.9 L159.1,372.7 L159.3,370.7 L159.6,368.8 L159.8,367.1 L160.1,365.4 L160.3,363.7 L160.6,362.1 L160.8,360.5 L161.1,358.9 L161.3,357.3 L161.6,355.7 L161.8,354.1 L162.1,352.6 L162.3,351.0 L162.6,349.5 L162.8,348.0 L163.0,346.6 L163.3,345.2 L163.5,343.9 L163.8,342.4 L164.0,341.0 L164.3,339.6 L164.5,338.2 L164.8,336.8 L165.0,335.4 L165.3,334.0 L165.5,332.6 L165.8,331.1 L166.0,329.7 L166.3,328.3 L166.5,326.9 L166.8,325.6 L167.0,324.2 L167.3,322.8 L167.5,321.4 L167.8,320.1 L168.0,318.8 L168.3,317.4 L168.5,316.1 L168.8,314.8 L169.0,313.5 L169.3,312.2 L169.5,310.9 L169.8,309.7 L170.0,308.4 L170.3,307.2 L170.5,305.9 L170.8,304.7 L171.0,303.5 L171.3,302.3 L171.5,301.1 L171.8,300.0 L172.0,298.8 L172.3,297.7 L172.5,296.6 L172.8,295.4 L173.0,294.3 L173.3,293.2 L173.5,292.2 L173.8,291.1 L174.0,290.1 L174.3,289.0 L174.5,288.0 L174.8,287.0 L175.0,286.0 L175.3,285.0 L175.5,284.0 L175.8,283.1 L176.0,282.1 L176.3,281.2 L176.5,280.2 L176.8,279.3 L177.0,278.5 L177.3,277.6 L177.5,276.7 L177.8,275.9 L178.0,275.0 L178.3,274.2 L178.5,273.4 L178.8,272.6 L179.0,271.8 L179.3,271.1 L179.5,270.3 L179.8,269.6 L180.0,268.9 L180.3,268.2 L180.5,267.5 L180.8,266.8 L181.0,266.2 L181.3,265.5 L181.5,264.9 L181.8,264.3 L182.0,263.7 L182.3,263.1 L182.5,262.6 L182.8,262.0 L183.0,261.5 L183.3,261.0 L183.5,260.5 L183.8,260.1 L184.0,259.6 L184.3,259.2 L184.5,258.8 L184.8,258.5 L185.0,258.1 L185.3,257.8 L185.5,257.5 L185.8,257.2 L186.0,256.9 L186.3,256.7 L186.5,256.4 L186.8,256.2 L187.0,256.0 L187.3,255.9 L187.5,255.7 L187.8,255.6 L188.0,255.5 L188.3,255.4 L188.5,255.3 L188.8,255.2 L189.0,255.2 L189.3,255.2 L189.5,255.2 L189.8,255.2 L190.0,255.2 L190.3,255.3 L190.5,255.4 L190.8,255.5 L191.0,255.6 L191.2,255.7 L191.5,255.9 L191.7,256.0 L192.0,256.2 L192.2,256.4 L192.5,256.6 L192.7,256.9 L193.0,257.2 L193.2,257.4 L193.5,257.7 L193.7,258.1 L194.0,258.4 L194.2,258.8 L194.5,259.1 L194.7,259.5 L195.0,259.9 L195.2,260.4 L195.5,260.8 L195.7,261.3 L196.0,261.8 L196.2,262.3 L196.5,262.8 L196.7,263.3 L197.0,263.9 L197.2,264.4 L197.5,265.0 L197.7,265.6 L198.0,266.3 L198.2,266.9 L198.5,267.6 L198.7,268.2 L199.0,268.9 L199.2,269.7 L199.5,270.4 L199.7,271.1 L200.0,271.9 L200.2,272.7 L200.5,273.5 L200.7,274.3 L201.0,275.1 L201.2,276.0 L201.5,276.8 L201.7,277.7 L202.0,278.6 L202.2,279.5 L202.5,280.4 L202.7,281.4 L203.0,282.3 L203.2,283.3 L203.5,284.3 L203.7,285.3 L204.0,286.3 L204.2,287.3 L204.5,288.4 L204.7,289.4 L205.0,290.5 L205.2,291.6 L205.5,292.7 L205.7,293.8 L206.0,294.9 L206.2,296.1 L206.5,297.2 L206.7,298.4 L207.0,299.6 L207.2,300.8 L207.5,302.0 L207.7,303.2 L208.0,304.4 L208.2,305.7 L208.5,306.9 L208.7,308.2 L209.0,309.5 L209.2,310.8 L209.5,312.1 L209.7,313.4 L210.0,314.7 L210.2,316.0 L210.5,317.3 L210.7,318.7 L211.0,320.0 L211.2,321.4 L211.5,322.8 L211.7,324.2 L212.0,325.6 L212.2,327.0 L212.5,328.4 L212.7,329.8 L213.0,331.2 L213.2,332.7 L213.5,334.1 L213.7,335.6 L214.0,337.1 L214.2,338.5 L214.5,340.0 L214.7,341.5 L215.0,343.0 L215.2,344.5 L215.5,346.0 L215.7,347.5 L216.0,349.0 L216.2,350.5 L216.5,352.0 L216.7,353.5 L217.0,355.0 L217.2,356.5 L217.5,358.1 L217.7,359.6 L218.0,361.1 L218.2,362.7 L218.5,364.3 L218.7,365.8 L219.0,367.4 L219.2,369.0 L219.5,370.6 L219.7,372.2 L219.9,373.8 L220.2,375.4 L220.4,377.0 L220.7,378.6 L220.9,380.2 L221.2,381.9 L221.4,383.5 L221.7,385.2 L221.9,386.8 L222.2,388.5 L222.4,390.1 L222.7,391.8 L222.9,393.5 L223.2,395.2 L223.4,396.8 L223.7,398.5 L223.9,400.2 L224.2,401.9 L224.4,403.6 L224.7,405.3 L224.9,407.0 L225.2,408.7 L225.4,410.4 L225.7,412.1 L225.9,413.8 L226.2,415.6 L226.4,417.3 L226.7,419.0 L226.9,419.9 L227.2,418.2 L227.4,416.4 L227.7,414.7 L227.9,412.9 L228.2,411.2 L228.4,409.4 L228.7,407.7 L228.9,406.0 L229.2,404.2 L229.4,402.5 L229.7,400.8 L229.9,399.0 L230.2,397.3 L230.4,395.6 L230.7,393.9 L230.9,392.2 L231.2,390.5 L231.4,388.8 L231.7,387.2 L231.9,385.5 L232.2,383.8 L232.4,382.2 L232.7,380.5 L232.9,378.9 L233.2,377.2 L233.4,375.6 L233.7,374.0 L233.9,372.4 L234.2,370.7 L234.4,369.2 L234.7,367.6 L234.9,366.0 L235.2,364.5 L235.4,362.9 L235.7,361.4 L235.9,359.9 L236.2,358.4 L236.4,356.8 L236.7,355.3 L236.9,353.7 L237.2,352.2 L237.4,350.6 L237.7,349.1 L237.9,347.6 L238.2,346.1 L238.4,344.6 L238.7,343.0 L238.9,341.5 L239.2,340.0 L239.4,338.6 L239.7,337.1 L239.9,335.6 L240.2,334.1 L240.4,332.7 L240.7,331.2 L240.9,329.8 L241.2,328.4 L241.4,327.0 L241.7,325.5 L241.9,324.1 L242.2,322.7 L242.4,321.4 L242.7,320.0 L242.9,318.6 L243.2,317.3 L243.4,315.9 L243.7,314.6 L243.9,313.3 L244.2,312.0 L244.4,310.7 L244.7,309.4 L244.9,308.1 L245.2,306.9 L245.4,305.6 L245.7,304.4 L245.9,303.2 L246.2,301.9 L246.4,300.7 L246.7,299.5 L246.9,298.4 L247.2,297.2 L247.4,296.0 L247.7,294.9 L247.9,293.8 L248.2,292.7 L248.4,291.6 L248.6,290.5 L248.9,289.4 L249.1,288.3 L249.4,287.3 L249.6,286.2 L249.9,285.2 L250.1,284.2 L250.4,283.2 L250.6,282.2 L250.9,281.3 L251.1,280.3 L251.4,279.4 L251.6,278.5 L251.9,277.6 L252.1,276.7 L252.4,275.8 L252.6,274.9 L252.9,274.1 L253.1,273.2 L253.4,272.4 L253.6,271.6 L253.9,270.8 L254.1,270.0 L254.4,269.3 L254.6,268.5 L254.9,267.8 L255.1,267.1 L255.4,266.4 L255.6,265.8 L255.9,265.1 L256.1,264.5 L256.4,263.9 L256.6,263.3 L256.9,262.7 L257.1,262.2 L257.4,261.6 L257.6,261.1 L257.9,260.6 L258.1,260.1 L258.4,259.7 L258.6,259.2 L258.9,258.8 L259.1,258.4 L259.4,258.0 L259.6,257.7 L259.9,257.3 L260.1,257.0 L260.4,256.7 L260.6,256.4 L260.9,256.1 L261.1,255.9 L261.4,255.7 L261.6,255.4 L261.9,255.3 L262.1,255.1 L262.4,254.9 L262.6,254.8 L262.9,254.7 L263.1,254.6 L263.4,254.6 L263.6,254.5 L263.9,254.5 L264.1,254.5 L264.4,254.5 L264.6,254.5 L264.9,254.6 L265.1,254.6 L265.4,254.7 L265.6,254.8 L265.9,255.0 L266.1,255.1 L266.4,255.3 L266.6,255.5 L266.9,255.7 L267.1,255.9 L267.4,256.1 L267.6,256.4 L267.9,256.6 L268.1,256.9 L268.4,257.2 L268.6,257.6 L268.9,257.9 L269.1,258.3 L269.4,258.7 L269.6,259.1 L269.9,259.5 L270.1,259.9 L270.4,260.4 L270.6,260.9 L270.9,261.4 L271.1,261.9 L271.4,262.4 L271.6,262.9 L271.9,263.5 L272.1,264.1 L272.4,264.7 L272.6,265.3 L272.9,266.0 L273.1,266.6 L273.4,267.3 L273.6,268.0 L273.9,268.7 L274.1,269.4 L274.4,270.1 L274.6,270.9 L274.9,271.6 L275.1,272.4 L275.4,273.2 L275.6,274.1 L275.9,274.9 L276.1,275.7 L276.4,276.6 L276.6,277.5 L276.8,278.4 L277.1,279.3 L277.3,280.2 L277.6,281.2 L277.8,282.1 L278.1,283.1 L278.3,284.1 L278.6,285.1 L278.8,286.1 L279.1,287.2 L279.3,288.2 L279.6,289.3 L279.8,290.4 L280.1,291.4 L280.3,292.6 L280.6,293.7 L280.8,294.8 L281.1,296.0 L281.3,297.1 L281.6,298.3 L281.8,299.5 L282.1,300.7 L282.3,301.9 L282.6,303.1 L282.8,304.3 L283.1,305.6 L283.3,306.9 L283.6,308.1 L283.8,309.4 L284.1,310.7 L284.3,312.0 L284.6,313.4 L284.8,314.7 L285.1,316.0 L285.3,317.4 L285.6,318.7 L285.8,320.1 L286.1,321.5 L286.3,322.9 L286.6,324.3 L286.8,325.7 L287.1,327.2 L287.3,328.6 L287.6,330.0 L287.8,331.5 L288.1,333.0 L288.3,334.4 L288.6,335.9 L288.8,337.4 L289.1,338.9 L289.3,340.4 L289.6,341.9 L289.8,343.4 L290.1,344.9 L290.3,346.5 L290.6,348.0 L290.8,349.5 L291.1,351.0 L291.3,352.6 L291.6,354.1 L291.8,355.6 L292.1,357.2 L292.3,358.7 L292.6,360.3 L292.8,361.8 L293.1,363.4 L293.3,365.0 L293.6,366.6 L293.8,368.2 L294.1,369.8 L294.3,371.4 L294.6,373.0 L294.8,374.6 L295.1,376.3 L295.3,377.9 L295.6,379.5 L295.8,381.2 L296.1,382.8 L296.3,384.5 L296.6,386.1 L296.8,387.8 L297.1,389.5 L297.3,391.2 L297.6,392.8 L297.8,394.5 L298.1,396.2 L298.3,397.9 L298.6,399.6 L298.8,401.3 L299.1,403.1 L299.3,404.8 L299.6,406.5 L299.8,408.2 L300.1,409.9 L300.3,411.6 L300.6,413.4 L300.8,415.1 L301.1,416.8 L301.3,418.5 L301.6,420.2 L301.8,420.6 L302.1,418.8 L302.3,417.1 L302.6,415.3 L302.8,413.5 L303.1,411.8 L303.3,410.0 L303.6,408.3 L303.8,406.6 L304.1,404.8 L304.3,403.1 L304.6,401.4 L304.8,399.7 L305.1,398.0 L305.3,396.3 L305.5,394.6 L305.8,392.9 L306.0,391.3 L306.3,389.6 L306.5,387.9 L306.8,386.3 L307.0,384.6 L307.3,383.0 L307.5,381.3 L307.8,379.7 L308.0,378.1 L308.3,376.4 L308.5,374.8 L308.8,373.2 L309.0,371.6 L309.3,370.0 L309.5,368.4 L309.8,366.8 L310.0,365.2 L310.3,363.6 L310.5,362.0 L310.8,360.5 L311.0,358.9 L311.3,357.3 L311.5,355.7 L311.8,354.2 L312.0,352.6 L312.3,351.1 L312.5,349.5 L312.8,348.0 L313.0,346.5 L313.3,345.0 L313.5,343.4 L313.8,341.9 L314.0,340.4 L314.3,338.9 L314.5,337.4 L314.8,336.0 L315.0,334.5 L315.3,333.0 L315.5,331.5 L315.8,330.1 L316.0,328.6 L316.3,327.2 L316.5,325.8 L316.8,324.3 L317.0,322.9 L317.3,321.5 L317.5,320.1 L317.8,318.7 L318.0,317.4 L318.3,316.0 L318.5,314.6 L318.8,313.3 L319.0,312.0 L319.3,310.6 L319.5,309.3 L319.8,308.0 L320.0,306.8 L320.3,305.5 L320.5,304.2 L320.8,303.0 L321.0,301.7 L321.3,300.5 L321.5,299.3 L321.8,298.1 L322.0,296.9 L322.3,295.7 L322.5,294.6 L322.8,293.4 L323.0,292.3 L323.3,291.2 L323.5,290.1 L323.8,289.0 L324.0,287.9 L324.3,286.8 L324.5,285.8 L324.8,284.7 L325.0,283.7 L325.3,282.7 L325.5,281.7 L325.8,280.7 L326.0,279.7 L326.3,278.8 L326.5,277.9 L326.8,277.0 L327.0,276.1 L327.3,275.2 L327.5,274.3 L327.8,273.5 L328.0,272.7 L328.3,271.9 L328.5,271.1 L328.8,270.3 L329.0,269.5 L329.3,268.8 L329.5,268.1 L329.8,267.4 L330.0,266.7 L330.3,266.0 L330.5,265.4 L330.8,264.7 L331.0,264.1 L331.3,263.5 L331.5,262.9 L331.8,262.4 L332.0,261.8 L332.3,261.3 L332.5,260.8 L332.8,260.3 L333.0,259.9 L333.3,259.4 L333.5,259.0 L333.8,258.6 L334.0,258.2 L334.2,257.8 L334.5,257.4 L334.7,257.1 L335.0,256.8 L335.2,256.5 L335.5,256.2 L335.7,255.9 L336.0,255.7 L336.2,255.4 L336.5,255.2 L336.7,255.0 L337.0,254.8 L337.2,254.7 L337.5,254.5 L337.7,254.4 L338.0,254.3 L338.2,254.2 L338.5,254.2 L338.7,254.1 L339.0,254.1 L339.2,254.1 L339.5,254.1 L339.7,254.2 L340.0,254.2 L340.2,254.3 L340.5,254.4 L340.7,254.5 L341.0,254.7 L341.2,254.8 L341.5,255.0 L341.7,255.2 L342.0,255.4 L342.2,255.6 L342.5,255.9 L342.7,256.2 L343.0,256.5 L343.2,256.8 L343.5,257.1 L343.7,257.5 L344.0,257.8 L344.2,258.2 L344.5,258.6 L344.7,259.0 L345.0,259.5 L345.2,260.0 L345.5,260.4 L345.7,260.9 L346.0,261.5 L346.2,262.0 L346.5,262.5 L346.7,263.1 L347.0,263.7 L347.2,264.3 L347.5,264.9 L347.7,265.6 L348.0,266.3 L348.2,266.9 L348.5,267.6 L348.7,268.3 L349.0,269.1 L349.2,269.8 L349.5,270.6 L349.7,271.4 L350.0,272.2 L350.2,273.0 L350.5,273.8 L350.7,274.7 L351.0,275.5 L351.2,276.4 L351.5,277.3 L351.7,278.2 L352.0,279.1 L352.2,280.1 L352.5,281.0 L352.7,282.0 L353.0,283.0 L353.2,284.0 L353.5,285.0 L353.7,286.0 L354.0,287.0 L354.2,288.1 L354.5,289.2 L354.7,290.3 L355.0,291.4 L355.2,292.5 L355.5,293.6 L355.7,294.7 L356.0,295.9 L356.2,297.1 L356.5,298.3 L356.7,299.4 L357.0,300.7 L357.2,301.9 L357.5,303.1 L357.7,304.4 L358.0,305.6 L358.2,306.9 L358.5,308.2 L358.7,309.5 L359.0,310.8 L359.2,312.1 L359.5,313.5 L359.7,314.8 L360.0,316.2 L360.2,317.5 L360.5,318.9 L360.7,320.3 L361.0,321.7 L361.2,323.1 L361.5,324.5 L361.7,326.0 L362.0,327.4 L362.2,328.8 L362.4,330.3 L362.7,331.8 L362.9,333.3 L363.2,334.7 L363.4,336.2 L363.7,337.7 L363.9,339.3 L364.2,340.8 L364.4,342.3 L364.7,343.8 L364.9,345.3 L365.2,346.9 L365.4,348.4 L365.7,350.0 L365.9,351.5 L366.2,353.1 L366.4,354.6 L366.7,356.2 L366.9,357.8 L367.2,359.3 L367.4,360.9 L367.7,362.5 L367.9,364.1 L368.2,365.7 L368.4,367.3 L368.7,368.9 L368.9,370.5 L369.2,372.1 L369.4,373.7 L369.7,375.3 L369.9,376.9 L370.2,378.6 L370.4,380.2 L370.7,381.8 L370.9,383.4 L371.2,385.1 L371.4,386.7 L371.7,388.4 L371.9,390.0 L372.2,391.7 L372.4,393.3 L372.7,395.0 L372.9,396.7 L373.2,398.3 L373.4,400.0 L373.7,401.7 L373.9,403.4 L374.2,405.1 L374.4,406.8 L374.7,408.5 L374.9,410.2 L375.2,411.9 L375.4,413.6 L375.7,415.3 L375.9,417.0 L376.2,418.7 L376.4,420.4 L376.7,420.4 L376.9,418.6 L377.2,416.8 L377.4,415.1 L377.7,413.3 L377.9,411.5 L378.2,409.8 L378.4,408.1 L378.7,406.3 L378.9,404.6 L379.2,402.9 L379.4,401.2 L379.7,399.5 L379.9,397.8 L380.2,396.1 L380.4,394.4 L380.7,392.7 L380.9,391.1 L381.2,389.4 L381.4,387.7 L381.7,386.1 L381.9,384.4 L382.2,382.8 L382.4,381.1 L382.7,379.5 L382.9,377.9 L383.2,376.2 L383.4,374.6 L383.7,373.0 L383.9,371.4 L384.2,369.8 L384.4,368.2 L384.7,366.6 L384.9,365.0 L385.2,363.4 L385.4,361.8 L385.7,360.3 L385.9,358.7 L386.2,357.1 L386.4,355.5 L386.7,354.0 L386.9,352.4 L387.2,350.9 L387.4,349.3 L387.7,347.8 L387.9,346.3 L388.2,344.8 L388.4,343.2 L388.7,341.7 L388.9,340.2 L389.2,338.7 L389.4,337.2 L389.7,335.8 L389.9,334.3 L390.2,332.8 L390.4,331.4 L390.7,329.9 L390.9,328.5 L391.1,327.0 L391.4,325.6 L391.6,324.2 L391.9,322.7 L392.1,321.3 L392.4,319.9 L392.6,318.6 L392.9,317.2 L393.1,315.8 L393.4,314.5 L393.6,313.1 L393.9,311.8 L394.1,310.5 L394.4,309.2 L394.6,307.9 L394.9,306.6 L395.1,305.3 L395.4,304.1 L395.6,302.8 L395.9,301.6 L396.1,300.4 L396.4,299.1 L396.6,298.0 L396.9,296.8 L397.1,295.6 L397.4,294.4 L397.6,293.3 L397.9,292.2 L398.1,291.0 L398.4,289.9 L398.6,288.8 L398.9,287.7 L399.1,286.7 L399.4,285.6 L399.6,284.6 L399.9,283.6 L400.1,282.5 L400.4,281.6 L400.6,280.6 L400.9,279.6 L401.1,278.7 L401.4,277.8 L401.6,276.8 L401.9,276.0 L402.1,275.1 L402.4,274.2 L402.6,273.4 L402.9,272.6 L403.1,271.8 L403.4,271.0 L403.6,270.2 L403.9,269.4 L404.1,268.7 L404.4,268.0 L404.6,267.3 L404.9,266.6 L405.1,265.9 L405.4,265.3 L405.6,264.6 L405.9,264.0 L406.1,263.4 L406.4,262.9 L406.6,262.3 L406.9,261.8 L407.1,261.3 L407.4,260.8 L407.6,260.3 L407.9,259.8 L408.1,259.4 L408.4,258.9 L408.6,258.5 L408.9,258.1 L409.1,257.8 L409.4,257.4 L409.6,257.1 L409.9,256.7 L410.1,256.4 L410.4,256.1 L410.6,255.9 L410.9,255.6 L411.1,255.4 L411.4,255.2 L411.6,255.0 L411.9,254.8 L412.1,254.7 L412.4,254.5 L412.6,254.4 L412.9,254.3 L413.1,254.2 L413.4,254.2 L413.6,254.1 L413.9,254.1 L414.1,254.1 L414.4,254.1 L414.6,254.2 L414.9,254.2 L415.1,254.3 L415.4,254.4 L415.6,254.5 L415.9,254.7 L416.1,254.8 L416.4,255.0 L416.6,255.2 L416.9,255.4 L417.1,255.7 L417.4,255.9 L417.6,256.2 L417.9,256.5 L418.1,256.8 L418.4,257.1 L418.6,257.5 L418.9,257.9 L419.1,258.3 L419.3,258.7 L419.6,259.1 L419.8,259.5 L420.1,260.0 L420.3,260.5 L420.6,261.0 L420.8,261.5 L421.1,262.1 L421.3,262.6 L421.6,263.2 L421.8,263.8 L422.1,264.4 L422.3,265.0 L422.6,265.7 L422.8,266.3 L423.1,267.0 L423.3,267.7 L423.6,268.4 L423.8,269.2 L424.1,269.9 L424.3,270.7 L424.6,271.5 L424.8,272.3 L425.1,273.1 L425.3,273.9 L425.6,274.8 L425.8,275.6 L426.1,276.5 L426.3,277.4 L426.6,278.3 L426.8,279.2 L427.1,280.2 L427.3,281.1 L427.6,282.1 L427.8,283.1 L428.1,284.1 L428.3,285.1 L428.6,286.1 L428.8,287.2 L429.1,288.2 L429.3,289.3 L429.6,290.4 L429.8,291.5 L430.1,292.6 L430.3,293.7 L430.6,294.9 L430.8,296.0 L431.1,297.2 L431.3,298.4 L431.6,299.6 L431.8,300.8 L432.1,302.0 L432.3,303.3 L432.6,304.5 L432.8,305.8 L433.1,307.1 L433.3,308.3 L433.6,309.6 L433.8,311.0 L434.1,312.3 L434.3,313.6 L434.6,315.0 L434.8,316.3 L435.1,317.7 L435.3,319.1 L435.6,320.5 L435.8,321.9 L436.1,323.3 L436.3,324.7 L436.6,326.1 L436.8,327.6 L437.1,329.0 L437.3,330.5 L437.6,332.0 L437.8,333.4 L438.1,334.9 L438.3,336.4 L438.6,337.9 L438.8,339.4 L439.1,341.0 L439.3,342.5 L439.6,344.0 L439.8,345.5 L440.1,347.1 L440.3,348.6 L440.6,350.2 L440.8,351.7 L441.1,353.3 L441.3,354.8 L441.6,356.4 L441.8,358.0 L442.1,359.5 L442.3,361.1 L442.6,362.7 L442.8,364.3 L443.1,365.9 L443.3,367.5 L443.6,369.1 L443.8,370.7 L444.1,372.3 L444.3,373.9 L444.6,375.5 L444.8,377.1 L445.1,378.8 L445.3,380.4 L445.6,382.0 L445.8,383.7 L446.1,385.3 L446.3,386.9 L446.6,388.6 L446.8,390.2 L447.1,391.9 L447.3,393.5 L447.6,395.2 L447.8,396.9 L448.0,398.5 L448.3,400.2 L448.5,401.9 L448.8,403.6 L449.0,405.3 L449.3,407.0 L449.5,408.7 L449.8,410.4 L450.0,412.1 L450.3,413.8 L450.5,415.5 L450.8,417.2 L451.0,418.9 L451.3,420.6 L451.5,420.2 L451.8,418.4 L452.0,416.6 L452.3,414.8 L452.5,413.1 L452.8,411.3 L453.0,409.6 L453.3,407.8 L453.5,406.1 L453.8,404.4 L454.0,402.7 L454.3,401.0 L454.5,399.3 L454.8,397.6 L455.0,395.9 L455.3,394.2 L455.5,392.5 L455.8,390.8 L456.0,389.2 L456.3,387.5 L456.5,385.9 L456.8,384.2 L457.0,382.6 L457.3,380.9 L457.5,379.3 L457.8,377.7 L458.0,376.0 L458.3,374.4 L458.5,372.8 L458.8,371.2 L459.0,369.6 L459.3,368.0 L459.5,366.4 L459.8,364.8 L460.0,363.2 L460.3,361.6 L460.5,360.1 L460.8,358.5 L461.0,356.9 L461.3,355.3 L461.5,353.8 L461.8,352.2 L462.0,350.7 L462.3,349.2 L462.5,347.6 L462.8,346.1 L463.0,344.6 L463.3,343.1 L463.5,341.5 L463.8,340.1 L464.0,338.6 L464.3,337.1 L464.5,335.6 L464.8,334.1 L465.0,332.6 L465.3,331.2 L465.5,329.7 L465.8,328.3 L466.0,326.8 L466.3,325.4 L466.5,324.0 L466.8,322.6 L467.0,321.2 L467.3,319.8 L467.5,318.4 L467.8,317.0 L468.0,315.7 L468.3,314.3 L468.5,313.0 L468.8,311.6 L469.0,310.3 L469.3,309.0 L469.5,307.7 L469.8,306.4 L470.0,305.2 L470.3,303.9 L470.5,302.7 L470.8,301.4 L471.0,300.2 L471.3,299.0 L471.5,297.8 L471.8,296.6 L472.0,295.4 L472.3,294.3 L472.5,293.1 L472.8,292.0 L473.0,290.9 L473.3,289.8 L473.5,288.7 L473.8,287.6 L474.0,286.5 L474.3,285.5 L474.5,284.5 L474.8,283.4 L475.0,282.4 L475.3,281.4 L475.5,280.5 L475.8,279.5 L476.0,278.6 L476.3,277.6 L476.5,276.7 L476.7,275.8 L477.0,275.0 L477.2,274.1 L477.5,273.3 L477.7,272.5 L478.0,271.7 L478.2,270.9 L478.5,270.1 L478.7,269.3 L479.0,268.6 L479.2,267.9 L479.5,267.2 L479.7,266.5 L480.0,265.8 L480.2,265.2 L480.5,264.6 L480.7,264.0 L481.0,263.4 L481.2,262.8 L481.5,262.2 L481.7,261.7 L482.0,261.2 L482.2,260.7 L482.5,260.2 L482.7,259.8 L483.0,259.3 L483.2,258.9 L483.5,258.5 L483.7,258.1 L484.0,257.7 L484.2,257.3 L484.5,257.0 L484.7,256.7 L485.0,256.4 L485.2,256.1 L485.5,255.8 L485.7,255.6 L486.0,255.4 L486.2,255.2 L486.5,255.0 L486.7,254.8 L487.0,254.6 L487.2,254.5 L487.5,254.4 L487.7,254.3 L488.0,254.2 L488.2,254.2 L488.5,254.1 L488.7,254.1 L489.0,254.1 L489.2,254.1 L489.5,254.2 L489.7,254.2 L490.0,254.3 L490.2,254.4 L490.5,254.5 L490.7,254.7 L491.0,254.9 L491.2,255.0 L491.5,255.2 L491.7,255.5 L492.0,255.7 L492.2,256.0 L492.5,256.2 L492.7,256.5 L493.0,256.9 L493.2,257.2 L493.5,257.5 L493.7,257.9 L494.0,258.3 L494.2,258.7 L494.5,259.2 L494.7,259.6 L495.0,260.1 L495.2,260.6 L495.5,261.1 L495.7,261.6 L496.0,262.1 L496.2,262.7 L496.5,263.3 L496.7,263.9 L497.0,264.5 L497.2,265.1 L497.5,265.8 L497.7,266.4 L498.0,267.1 L498.2,267.8 L498.5,268.5 L498.7,269.3 L499.0,270.0 L499.2,270.8 L499.5,271.6 L499.7,272.4 L500.0,273.2 L500.2,274.0 L500.5,274.9 L500.7,275.7 L501.0,276.6 L501.2,277.5 L501.5,278.4 L501.7,279.4 L502.0,280.3 L502.2,281.3 L502.5,282.2 L502.7,283.2 L503.0,284.2 L503.2,285.2 L503.5,286.3 L503.7,287.3 L504.0,288.4 L504.2,289.4 L504.5,290.5 L504.7,291.6 L504.9,292.8 L505.2,293.9 L505.4,295.0 L505.7,296.2 L505.9,297.4 L506.2,298.5 L506.4,299.7 L506.7,301.0 L506.9,302.2 L507.2,303.4 L507.4,304.7 L507.7,305.9 L507.9,307.2 L508.2,308.5 L508.4,309.8 L508.7,311.1 L508.9,312.4 L509.2,313.8 L509.4,315.1 L509.7,316.5 L509.9,317.9 L510.2,319.2 L510.4,320.6 L510.7,322.0 L510.9,323.5 L511.2,324.9 L511.4,326.3 L511.7,327.8 L511.9,329.2 L512.2,330.7 L512.4,332.1 L512.7,333.6 L512.9,335.1 L513.2,336.6 L513.4,338.1 L513.7,339.6 L513.9,341.1 L514.2,342.7 L514.4,344.2 L514.7,345.7 L514.9,347.3 L515.2,348.8 L515.4,350.4 L515.7,351.9 L515.9,353.5 L516.2,355.0 L516.4,356.6 L516.7,358.2 L516.9,359.7 L517.2,361.3 L517.4,362.9 L517.7,364.5 L517.9,366.1 L518.2,367.7 L518.4,369.3 L518.7,370.9 L518.9,372.5 L519.2,374.1 L519.4,375.7 L519.7,377.3 L519.9,379.0 L520.2,380.6 L520.4,382.2 L520.7,383.9 L520.9,385.5 L521.2,387.1 L521.4,388.8 L521.7,390.4 L521.9,392.1 L522.2,393.7 L522.4,395.4 L522.7,397.1 L522.9,398.8 L523.2,400.4 L523.4,402.1 L523.7,403.8 L523.9,405.5 L524.2,407.2 L524.4,408.9 L524.7,410.6 L524.9,412.3 L525.2,414.0 L525.4,415.7 L525.7,417.4 L525.9,419.1 L526.2,420.8 L526.4,419.9 L526.7,418.2 L526.9,416.4 L527.2,414.6 L527.4,412.9 L527.7,411.1 L527.9,409.4 L528.2,407.6 L528.4,405.9 L528.7,404.2 L528.9,402.5 L529.2,400.8 L529.4,399.1 L529.7,397.4 L529.9,395.7 L530.2,394.0 L530.4,392.3 L530.7,390.6 L530.9,389.0 L531.2,387.3 L531.4,385.6 L531.7,384.0 L531.9,382.4 L532.2,380.7 L532.4,379.1 L532.7,377.5 L532.9,375.8 L533.2,374.2 L533.4,372.6 L533.6,371.0 L533.9,369.4 L534.1,367.8 L534.4,366.2 L534.6,364.6 L534.9,363.0 L535.1,361.4 L535.4,359.9 L535.6,358.3 L535.9,356.7 L536.1,355.2 L536.4,353.6 L536.6,352.0 L536.9,350.5 L537.1,349.0 L537.4,347.4 L537.6,345.9 L537.9,344.4 L538.1,342.9 L538.4,341.4 L538.6,339.9 L538.9,338.4 L539.1,336.9 L539.4,335.4 L539.6,333.9 L539.9,332.5 L540.1,331.0 L540.4,329.5 L540.6,328.1 L540.9,326.6 L541.1,325.2 L541.4,323.8 L541.6,322.4 L541.9,321.0 L542.1,319.6 L542.4,318.2 L542.6,316.8 L542.9,315.5 L543.1,314.1 L543.4,312.8 L543.6,311.5 L543.9,310.2 L544.1,308.9 L544.4,307.6 L544.6,306.3 L544.9,305.0 L545.1,303.8 L545.4,302.5 L545.6,301.3 L545.9,300.1 L546.1,298.8 L546.4,297.7 L546.6,296.5 L546.9,295.3 L547.1,294.1 L547.4,293.0 L547.6,291.9 L547.9,290.8 L548.1,289.6 L548.4,288.6 L548.6,287.5 L548.9,286.4 L549.1,285.4 L549.4,284.3 L549.6,283.3 L549.9,282.3 L550.1,281.3 L550.4,280.3 L550.6,279.4 L550.9,278.4 L551.1,277.5 L551.4,276.6 L551.6,275.7 L551.9,274.9 L552.1,274.0 L552.4,273.2 L552.6,272.4 L552.9,271.6 L553.1,270.8 L553.4,270.0 L553.6,269.2 L553.9,268.5 L554.1,267.8 L554.4,267.1 L554.6,266.4 L554.9,265.8 L555.1,265.1 L555.4,264.5 L555.6,263.9 L555.9,263.3 L556.1,262.7 L556.4,262.2 L556.6,261.6 L556.9,261.1 L557.1,260.6 L557.4,260.2 L557.6,259.7 L557.9,259.3 L558.1,258.8 L558.4,258.4 L558.6,258.0 L558.9,257.7 L559.1,257.3 L559.4,257.0 L559.6,256.7 L559.9,256.4 L560.1,256.1 L560.4,255.8 L560.6,255.6 L560.9,255.3 L561.1,255.1 L561.4,254.9 L561.6,254.8 L561.9,254.6 L562.1,254.5 L562.3,254.4 L562.6,254.3 L562.8,254.2 L563.1,254.1 L563.3,254.1 L563.6,254.1 L563.8,254.1 L564.1,254.1 L564.3,254.2 L564.6,254.2 L564.8,254.3 L565.1,254.4 L565.3,254.6 L565.6,254.7 L565.8,254.9 L566.1,255.1 L566.3,255.3 L566.6,255.5 L566.8,255.7 L567.1,256.0 L567.3,256.3 L567.6,256.6 L567.8,256.9 L568.1,257.2 L568.3,257.6 L568.6,258.0 L568.8,258.4 L569.1,258.8 L569.3,259.2 L569.6,259.7 L569.8,260.1 L570.1,260.6 L570.3,261.1 L570.6,261.7 L570.8,262.2 L571.1,262.8 L571.3,263.3 L571.6,263.9 L571.8,264.6 L572.1,265.2 L572.3,265.8 L572.6,266.5 L572.8,267.2 L573.1,267.9 L573.3,268.6 L573.6,269.4 L573.8,270.1 L574.1,270.9 L574.3,271.7 L574.6,272.5 L574.8,273.3 L575.1,274.1 L575.3,275.0 L575.6,275.9 L575.8,276.7 L576.1,277.6 L576.3,278.5 L576.6,279.5 L576.8,280.4 L577.1,281.4 L577.3,282.4 L577.6,283.3 L577.8,284.3 L578.1,285.4 L578.3,286.4 L578.6,287.4 L578.8,288.5 L579.1,289.6 L579.3,290.7 L579.6,291.8 L579.8,292.9 L580.1,294.0 L580.3,295.2 L580.6,296.3 L580.8,297.5 L581.1,298.7 L581.3,299.9 L581.6,301.1 L581.8,302.3 L582.1,303.6 L582.3,304.8 L582.6,306.1 L582.8,307.4 L583.1,308.7 L583.3,310.0 L583.6,311.3 L583.8,312.6 L584.1,314.0 L584.3,315.3 L584.6,316.7 L584.8,318.0 L585.1,319.4 L585.3,320.8 L585.6,322.2 L585.8,323.6 L586.1,325.1 L586.3,326.5 L586.6,327.9 L586.8,329.4 L587.1,330.9 L587.3,332.3 L587.6,333.8 L587.8,335.3 L588.1,336.8 L588.3,338.3 L588.6,339.8 L588.8,341.3 L589.1,342.9 L589.3,344.4 L589.6,345.9 L589.8,347.5 L590.1,349.0 L590.3,350.5 L590.5,352.1 L590.8,353.7 L591.0,355.2 L591.3,356.8 L591.5,358.4 L591.8,359.9 L592.0,361.5 L592.3,363.1 L592.5,364.7 L592.8,366.3 L593.0,367.9 L593.3,369.5 L593.5,371.1 L593.8,372.7 L594.0,374.3 L594.3,375.9 L594.5,377.5 L594.8,379.2 L595.0,380.8 L595.3,382.4 L595.5,384.1 L595.8,385.7 L596.0,387.3 L596.3,389.0 L596.5,390.6 L596.8,392.3 L597.0,393.9 L597.3,395.6 L597.5,397.3 L597.8,399.0 L598.0,400.7 L598.3,402.4 L598.5,404.0 L598.8,405.7 L599.0,407.4 L599.3,409.2 L599.5,410.9 L599.8,412.6 L600.0,414.3 L600.3,416.0 L600.5,417.6 L600.8,419.3 L601.0,421.1 L601.3,419.7 L601.5,417.9 L601.8,416.2 L602.0,414.4 L602.3,412.6 L602.5,410.9 L602.8,409.1 L603.0,407.4 L603.3,405.7 L603.5,404.0 L603.8,402.3 L604.0,400.6 L604.3,398.9 L604.5,397.2 L604.8,395.5 L605.0,393.8 L605.3,392.1 L605.5,390.4 L605.8,388.8 L606.0,387.1 L606.3,385.4 L606.5,383.8 L606.8,382.2 L607.0,380.5 L607.3,378.9 L607.5,377.3 L607.8,375.6 L608.0,374.0 L608.3,372.4 L608.5,370.8 L608.8,369.2 L609.0,367.6 L609.3,366.0 L609.5,364.4 L609.8,362.8 L610.0,361.2 L610.3,359.7 L610.5,358.1 L610.8,356.5 L611.0,355.0 L611.3,353.4 L611.5,351.8 L611.8,350.3 L612.0,348.8 L612.3,347.2 L612.5,345.7 L612.8,344.2 L613.0,342.7 L613.3,341.2 L613.5,339.7 L613.8,338.2 L614.0,336.7 L614.3,335.2 L614.5,333.7 L614.8,332.3 L615.0,330.8 L615.3,329.4 L615.5,327.9 L615.8,326.5 L616.0,325.0 L616.3,323.6 L616.5,322.2 L616.8,320.8 L617.0,319.4 L617.3,318.0 L617.5,316.7 L617.8,315.3 L618.0,314.0 L618.3,312.6 L618.5,311.3 L618.8,310.0 L619.0,308.7 L619.2,307.4 L619.5,306.1 L619.7,304.9 L620.0,303.6 L620.2,302.4 L620.5,301.1 L620.7,299.9 L621.0,298.7 L621.2,297.5 L621.5,296.3 L621.7,295.2 L622.0,294.0 L622.2,292.9 L622.5,291.7 L622.7,290.6 L623.0,289.5 L623.2,288.4 L623.5,287.3 L623.7,286.3 L624.0,285.2 L624.2,284.2 L624.5,283.2 L624.7,282.2 L625.0,281.2 L625.2,280.2 L625.5,279.3 L625.7,278.3 L626.0,277.4 L626.2,276.5 L626.5,275.6 L626.7,274.8 L627.0,273.9 L627.2,273.1 L627.5,272.3 L627.7,271.5 L628.0,270.7 L628.2,269.9 L628.5,269.2 L628.7,268.4 L629.0,267.7 L629.2,267.0 L629.5,266.3 L629.7,265.7 L630.0,265.0 L630.2,264.4 L630.5,263.8 L630.7,263.2 L631.0,262.7 L631.2,262.1 L631.5,261.6 L631.7,261.1 L632.0,260.6 L632.2,260.1 L632.5,259.6 L632.7,259.2 L633.0,258.8 L633.2,258.4 L633.5,258.0 L633.7,257.6 L634.0,257.3 L634.2,256.9 L634.5,256.6 L634.7,256.3 L635.0,256.0 L635.2,255.8 L635.5,255.5 L635.7,255.3 L636.0,255.1 L636.2,254.9 L636.5,254.7 L636.7,254.6 L637.0,254.5 L637.2,254.4 L637.5,254.3 L637.7,254.2 L638.0,254.1 L638.2,254.1 L638.5,254.1 L638.7,254.1 L639.0,254.1 L639.2,254.2 L639.5,254.3 L639.7,254.3 L640.0,254.5 L640.2,254.6 L640.5,254.7 L640.7,254.9 L641.0,255.1 L641.2,255.3 L641.5,255.5 L641.7,255.8 L642.0,256.0 L642.2,256.3 L642.5,256.6 L642.7,256.9 L643.0,257.3 L643.2,257.6 L643.5,258.0 L643.7,258.4 L644.0,258.8 L644.2,259.3 L644.5,259.7 L644.7,260.2 L645.0,260.7 L645.2,261.2 L645.5,261.7 L645.7,262.3 L646.0,262.8 L646.2,263.4 L646.5,264.0 L646.7,264.6 L647.0,265.3 L647.2,265.9 L647.4,266.6 L647.7,267.3 L647.9,268.0 L648.2,268.7 L648.4,269.5 L648.7,270.2 L648.9,271.0 L649.2,271.8 L649.4,272.6 L649.7,273.4 L649.9,274.2 L650.2,275.1 L650.4,276.0 L650.7,276.8 L650.9,277.7 L651.2,278.7 L651.4,279.6 L651.7,280.5 L651.9,281.5 L652.2,282.5 L652.4,283.5 L652.7,284.5 L652.9,285.5 L653.2,286.5 L653.4,287.6 L653.7,288.6 L653.9,289.7 L654.2,290.8 L654.4,291.9 L654.7,293.0 L654.9,294.2 L655.2,295.3 L655.4,296.5 L655.7,297.7 L655.9,298.8 L656.2,300.1 L656.4,301.3 L656.7,302.5 L656.9,303.7 L657.2,305.0 L657.4,306.3 L657.7,307.5 L657.9,308.8 L658.2,310.1 L658.4,311.5 L658.7,312.8 L658.9,314.1 L659.2,315.5 L659.4,316.8 L659.7,318.2 L659.9,319.6 L660.2,321.0 L660.4,322.4 L660.7,323.8 L660.9,325.2 L661.2,326.7 L661.4,328.1 L661.7,329.6 L661.9,331.0 L662.2,332.5 L662.4,334.0 L662.7,335.5 L662.9,337.0 L663.2,338.5 L663.4,340.0 L663.7,341.5 L663.9,343.1 L664.2,344.6 L664.4,346.1 L664.7,347.7 L664.9,349.2 L665.2,350.7 L665.4,352.3 L665.7,353.8 L665.9,355.4 L666.2,357.0 L666.4,358.6 L666.7,360.1 L666.9,361.7 L667.2,363.3 L667.4,364.9 L667.7,366.5 L667.9,368.1 L668.2,369.7 L668.4,371.3 L668.7,372.9 L668.9,374.5 L669.2,376.1 L669.4,377.7 L669.7,379.4 L669.9,381.0 L670.2,382.6 L670.4,384.3 L670.7,385.9 L670.9,387.5 L671.2,389.2 L671.4,390.8 L671.7,392.5 L671.9,394.1 L672.2,395.8 L672.4,397.5 L672.7,399.2 L672.9,400.9 L673.2,402.6 L673.4,404.3 L673.7,406.0 L673.9,407.7 L674.2,409.4 L674.4,411.1 L674.7,412.8 L674.9,414.5 L675.2,416.2 L675.4,417.9 L675.7,419.6 L675.9,421.3" stroke="#000" stroke-width="2.2" stroke-dasharray="11.7,5,3,5,3,5"/>
<path d="M77.2,421.9 L77.4,420.1 L77.7,418.4 L77.9,416.6 L78.2,414.9 L78.4,413.2 L78.7,411.4 L78.9,409.7 L79.2,407.9 L79.4,406.2 L79.7,404.4 L79.9,402.7 L80.2,400.9 L80.4,399.2 L80.7,397.5 L80.9,395.7 L81.2,394.0 L81.4,392.3 L81.7,390.6 L81.9,388.9 L82.2,387.1 L82.4,385.4 L82.7,383.7 L82.9,382.0 L83.2,380.3 L83.4,378.6 L83.7,376.9 L83.9,375.3 L84.2,373.6 L84.4,371.9 L84.7,370.2 L84.9,368.6 L85.2,366.9 L85.4,365.3 L85.7,363.6 L85.9,362.0 L86.2,360.4 L86.4,358.7 L86.7,357.1 L86.9,355.5 L87.2,353.9 L87.4,352.3 L87.7,350.7 L87.9,349.1 L88.2,347.6 L88.4,346.0 L88.7,344.5 L88.9,342.9 L89.2,341.4 L89.4,339.8 L89.7,338.3 L89.9,336.8 L90.2,335.3 L90.4,333.8 L90.7,332.3 L90.9,330.9 L91.2,329.4 L91.4,327.9 L91.7,326.5 L91.9,325.1 L92.2,323.6 L92.4,322.2 L92.7,320.8 L92.9,319.4 L93.2,318.1 L93.4,316.7 L93.7,315.3 L93.9,314.0 L94.2,312.7 L94.4,311.4 L94.7,310.1 L94.9,308.8 L95.2,307.5 L95.4,306.2 L95.7,304.9 L95.9,303.7 L96.2,302.5 L96.4,301.3 L96.7,300.1 L96.9,298.9 L97.2,297.7 L97.4,296.5 L97.7,295.4 L97.9,294.2 L98.2,293.1 L98.4,292.0 L98.7,290.9 L98.9,289.8 L99.2,288.8 L99.4,287.7 L99.7,286.7 L99.9,285.7 L100.2,284.6 L100.4,283.7 L100.7,282.7 L100.9,281.7 L101.2,280.8 L101.4,279.8 L101.7,278.9 L101.9,278.0 L102.2,277.2 L102.4,276.3 L102.7,275.4 L102.9,274.6 L103.2,273.8 L103.4,273.0 L103.7,272.2 L103.9,271.4 L104.2,270.7 L104.4,269.9 L104.7,269.2 L104.9,268.5 L105.2,267.8 L105.4,267.2 L105.7,266.5 L105.9,265.9 L106.1,265.3 L106.4,264.6 L106.6,264.1 L106.9,263.5 L107.1,263.0 L107.4,262.4 L107.6,261.9 L107.9,261.4 L108.1,260.9 L108.4,260.5 L108.6,260.0 L108.9,259.6 L109.1,259.2 L109.4,258.8 L109.6,258.4 L109.9,258.1 L110.1,257.7 L110.4,257.4 L110.6,257.1 L110.9,256.8 L111.1,256.6 L111.4,256.3 L111.6,256.1 L111.9,255.9 L112.1,255.7 L112.4,255.5 L112.6,255.4 L112.9,255.2 L113.1,255.1 L113.4,255.0 L113.6,254.9 L113.9,254.9 L114.1,254.8 L114.4,254.8 L114.6,254.8 L114.9,254.8 L115.1,254.8 L115.4,254.9 L115.6,255.0 L115.9,255.0 L116.1,255.1 L116.4,255.3 L116.6,255.4 L116.9,255.6 L117.1,255.7 L117.4,255.9 L117.6,256.1 L117.9,256.4 L118.1,256.6 L118.4,256.9 L118.6,257.2 L118.9,257.5 L119.1,257.8 L119.4,258.1 L119.6,258.5 L119.9,258.9 L120.1,259.2 L120.4,259.7 L120.6,260.1 L120.9,260.5 L121.1,261.0 L121.4,261.5 L121.6,262.0 L121.9,262.5 L122.1,263.0 L122.4,263.6 L122.6,264.1 L122.9,264.7 L123.1,265.3 L123.4,265.9 L123.6,266.6 L123.9,267.2 L124.1,267.9 L124.4,268.6 L124.6,269.3 L124.9,270.0 L125.1,270.8 L125.4,271.5 L125.6,272.3 L125.9,273.1 L126.1,273.9 L126.4,274.7 L126.6,275.5 L126.9,276.4 L127.1,277.3 L127.4,278.1 L127.6,279.0 L127.9,280.0 L128.1,280.9 L128.4,281.8 L128.6,282.8 L128.9,283.8 L129.1,284.8 L129.4,285.8 L129.6,286.8 L129.9,287.8 L130.1,288.9 L130.4,290.0 L130.6,291.0 L130.9,292.1 L131.1,293.2 L131.4,294.4 L131.6,295.5 L131.9,296.7 L132.1,297.8 L132.4,299.0 L132.6,300.2 L132.9,301.4 L133.1,302.6 L133.4,303.9 L133.6,305.1 L133.9,306.4 L134.1,307.6 L134.3,308.9 L134.6,310.2 L134.8,311.5 L135.1,312.8 L135.3,314.2 L135.6,315.5 L135.8,316.9 L136.1,318.2 L136.3,319.6 L136.6,321.0 L136.8,322.4 L137.1,323.8 L137.3,325.2 L137.6,326.7 L137.8,328.1 L138.1,329.6 L138.3,331.0 L138.6,332.5 L138.8,334.0 L139.1,335.5 L139.3,337.0 L139.6,338.5 L139.8,340.0 L140.1,341.6 L140.3,343.1 L140.6,344.6 L140.8,346.2 L141.1,347.8 L141.3,349.3 L141.6,350.9 L141.8,352.5 L142.1,354.1 L142.3,355.7 L142.6,357.3 L142.8,358.9 L143.1,360.6 L143.3,362.2 L143.6,363.8 L143.8,365.5 L144.1,367.1 L144.3,368.8 L144.6,370.5 L144.8,372.1 L145.1,373.8 L145.3,375.5 L145.6,377.2 L145.8,378.8 L146.1,380.5 L146.3,382.2 L146.6,383.9 L146.8,385.6 L147.1,387.4 L147.3,389.1 L147.6,390.8 L147.8,392.5 L148.1,394.2 L148.3,396.0 L148.6,397.7 L148.8,399.4 L149.1,401.2 L149.3,402.9 L149.6,404.6 L149.8,406.4 L150.1,408.1 L150.3,409.9 L150.6,411.6 L150.8,413.4 L151.1,415.1 L151.3,416.9 L151.6,418.6 L151.8,420.4 L152.1,421.7 L152.3,419.9 L152.6,418.2 L152.8,416.4 L153.1,414.7 L153.3,412.9 L153.6,411.2 L153.8,409.4 L154.1,407.7 L154.3,406.0 L154.6,404.2 L154.8,402.5 L155.1,400.7 L155.3,399.0 L155.6,397.3 L155.8,395.5 L156.1,393.8 L156.3,392.1 L156.6,390.4 L156.8,388.6 L157.1,386.9 L157.3,385.2 L157.6,383.5 L157.8,381.8 L158.1,380.1 L158.3,378.4 L158.6,376.7 L158.8,375.1 L159.1,373.4 L159.3,371.7 L159.6,370.0 L159.8,368.4 L160.1,366.7 L160.3,365.1 L160.6,363.4 L160.8,361.8 L161.1,360.2 L161.3,358.5 L161.6,356.9 L161.8,355.3 L162.1,353.7 L162.3,352.1 L162.6,350.5 L162.8,348.9 L163.0,347.4 L163.3,345.8 L163.5,344.3 L163.8,342.7 L164.0,341.2 L164.3,339.6 L164.5,338.1 L164.8,336.6 L165.0,335.1 L165.3,333.6 L165.5,332.1 L165.8,330.7 L166.0,329.2 L166.3,327.8 L166.5,326.3 L166.8,324.9 L167.0,323.5 L167.3,322.1 L167.5,320.7 L167.8,319.3 L168.0,317.9 L168.3,316.5 L168.5,315.2 L168.8,313.8 L169.0,312.5 L169.3,311.2 L169.5,309.9 L169.8,308.6 L170.0,307.3 L170.3,306.0 L170.5,304.8 L170.8,303.5 L171.0,302.3 L171.3,301.1 L171.5,299.9 L171.8,298.7 L172.0,297.5 L172.3,296.4 L172.5,295.2 L172.8,294.1 L173.0,293.0 L173.3,291.9 L173.5,290.8 L173.8,289.7 L174.0,288.6 L174.3,287.6 L174.5,286.5 L174.8,285.5 L175.0,284.5 L175.3,283.5 L175.5,282.6 L175.8,281.6 L176.0,280.7 L176.3,279.7 L176.5,278.8 L176.8,277.9 L177.0,277.0 L177.3,276.2 L177.5,275.3 L177.8,274.5 L178.0,273.7 L178.3,272.9 L178.5,272.1 L178.8,271.3 L179.0,270.6 L179.3,269.8 L179.5,269.1 L179.8,268.4 L180.0,267.7 L180.3,267.1 L180.5,266.4 L180.8,265.8 L181.0,265.2 L181.3,264.6 L181.5,264.0 L181.8,263.4 L182.0,262.9 L182.3,262.4 L182.5,261.8 L182.8,261.3 L183.0,260.9 L183.3,260.4 L183.5,260.0 L183.8,259.5 L184.0,259.1 L184.3,258.8 L184.5,258.4 L184.8,258.0 L185.0,257.7 L185.3,257.4 L185.5,257.1 L185.8,256.8 L186.0,256.5 L186.3,256.3 L186.5,256.1 L186.8,255.9 L187.0,255.7 L187.3,255.5 L187.5,255.4 L187.8,255.2 L188.0,255.1 L188.3,255.0 L188.5,254.9 L188.8,254.9 L189.0,254.8 L189.3,254.8 L189.5,254.8 L189.8,254.8 L190.0,254.8 L190.3,254.9 L190.5,255.0 L190.8,255.0 L191.0,255.2 L191.2,255.3 L191.5,255.4 L191.7,255.6 L192.0,255.8 L192.2,255.9 L192.5,256.2 L192.7,256.4 L193.0,256.6 L193.2,256.9 L193.5,257.2 L193.7,257.5 L194.0,257.8 L194.2,258.2 L194.5,258.5 L194.7,258.9 L195.0,259.3 L195.2,259.7 L195.5,260.1 L195.7,260.6 L196.0,261.0 L196.2,261.5 L196.5,262.0 L196.7,262.6 L197.0,263.1 L197.2,263.6 L197.5,264.2 L197.7,264.8 L198.0,265.4 L198.2,266.0 L198.5,266.7 L198.7,267.3 L199.0,268.0 L199.2,268.7 L199.5,269.4 L199.7,270.1 L200.0,270.9 L200.2,271.6 L200.5,272.4 L200.7,273.2 L201.0,274.0 L201.2,274.8 L201.5,275.6 L201.7,276.5 L202.0,277.4 L202.2,278.3 L202.5,279.2 L202.7,280.1 L203.0,281.0 L203.2,282.0 L203.5,282.9 L203.7,283.9 L204.0,284.9 L204.2,285.9 L204.5,286.9 L204.7,288.0 L205.0,289.0 L205.2,290.1 L205.5,291.2 L205.7,292.3 L206.0,293.4 L206.2,294.5 L206.5,295.7 L206.7,296.8 L207.0,298.0 L207.2,299.2 L207.5,300.4 L207.7,301.6 L208.0,302.8 L208.2,304.0 L208.5,305.3 L208.7,306.5 L209.0,307.8 L209.2,309.1 L209.5,310.4 L209.7,311.7 L210.0,313.0 L210.2,314.3 L210.5,315.7 L210.7,317.0 L211.0,318.4 L211.2,319.8 L211.5,321.2 L211.7,322.6 L212.0,324.0 L212.2,325.4 L212.5,326.9 L212.7,328.3 L213.0,329.8 L213.2,331.2 L213.5,332.7 L213.7,334.2 L214.0,335.7 L214.2,337.2 L214.5,338.7 L214.7,340.2 L215.0,341.8 L215.2,343.3 L215.5,344.8 L215.7,346.4 L216.0,348.0 L216.2,349.5 L216.5,351.1 L216.7,352.7 L217.0,354.3 L217.2,355.9 L217.5,357.5 L217.7,359.1 L218.0,360.8 L218.2,362.4 L218.5,364.0 L218.7,365.7 L219.0,367.3 L219.2,369.0 L219.5,370.7 L219.7,372.3 L219.9,374.0 L220.2,375.7 L220.4,377.4 L220.7,379.1 L220.9,380.8 L221.2,382.4 L221.4,384.2 L221.7,385.9 L221.9,387.6 L222.2,389.3 L222.4,391.0 L222.7,392.7 L222.9,394.5 L223.2,396.2 L223.4,397.9 L223.7,399.6 L223.9,401.4 L224.2,403.1 L224.4,404.9 L224.7,406.6 L224.9,408.3 L225.2,410.1 L225.4,411.8 L225.7,413.6 L225.9,415.3 L226.2,417.1 L226.4,418.8 L226.7,420.6 L226.9,421.5 L227.2,419.7 L227.4,418.0 L227.7,416.2 L227.9,414.5 L228.2,412.7 L228.4,411.0 L228.7,409.2 L228.9,407.5 L229.2,405.7 L229.4,404.0 L229.7,402.3 L229.9,400.5 L230.2,398.8 L230.4,397.0 L230.7,395.3 L230.9,393.6 L231.2,391.9 L231.4,390.1 L231.7,388.4 L231.9,386.7 L232.2,385.0 L232.4,383.3 L232.7,381.6 L232.9,379.9 L233.2,378.2 L233.4,376.5 L233.7,374.8 L233.9,373.2 L234.2,371.5 L234.4,369.8 L234.7,368.2 L234.9,366.5 L235.2,364.9 L235.4,363.2 L235.7,361.6 L235.9,360.0 L236.2,358.3 L236.4,356.7 L236.7,355.1 L236.9,353.5 L237.2,351.9 L237.4,350.3 L237.7,348.8 L237.9,347.2 L238.2,345.6 L238.4,344.1 L238.7,342.5 L238.9,341.0 L239.2,339.5 L239.4,337.9 L239.7,336.4 L239.9,334.9 L240.2,333.4 L240.4,332.0 L240.7,330.5 L240.9,329.0 L241.2,327.6 L241.4,326.1 L241.7,324.7 L241.9,323.3 L242.2,321.9 L242.4,320.5 L242.7,319.1 L242.9,317.7 L243.2,316.4 L243.4,315.0 L243.7,313.7 L243.9,312.3 L244.2,311.0 L244.4,309.7 L244.7,308.4 L244.9,307.2 L245.2,305.9 L245.4,304.6 L245.7,303.4 L245.9,302.2 L246.2,301.0 L246.4,299.8 L246.7,298.6 L246.9,297.4 L247.2,296.2 L247.4,295.1 L247.7,293.9 L247.9,292.8 L248.2,291.7 L248.4,290.6 L248.6,289.6 L248.9,288.5 L249.1,287.5 L249.4,286.4 L249.6,285.4 L249.9,284.4 L250.1,283.4 L250.4,282.4 L250.6,281.5 L250.9,280.5 L251.1,279.6 L251.4,278.7 L251.6,277.8 L251.9,276.9 L252.1,276.1 L252.4,275.2 L252.6,274.4 L252.9,273.6 L253.1,272.8 L253.4,272.0 L253.6,271.2 L253.9,270.5 L254.1,269.8 L254.4,269.0 L254.6,268.3 L254.9,267.7 L255.1,267.0 L255.4,266.3 L255.6,265.7 L255.9,265.1 L256.1,264.5 L256.4,263.9 L256.6,263.4 L256.9,262.8 L257.1,262.3 L257.4,261.8 L257.6,261.3 L257.9,260.8 L258.1,260.4 L258.4,259.9 L258.6,259.5 L258.9,259.1 L259.1,258.7 L259.4,258.3 L259.6,258.0 L259.9,257.7 L260.1,257.3 L260.4,257.1 L260.6,256.8 L260.9,256.5 L261.1,256.3 L261.4,256.1 L261.6,255.8 L261.9,255.7 L262.1,255.5 L262.4,255.3 L262.6,255.2 L262.9,255.1 L263.1,255.0 L263.4,254.9 L263.6,254.9 L263.9,254.8 L264.1,254.8 L264.4,254.8 L264.6,254.8 L264.9,254.8 L265.1,254.9 L265.4,255.0 L265.6,255.1 L265.9,255.2 L266.1,255.3 L266.4,255.4 L266.6,255.6 L266.9,255.8 L267.1,256.0 L267.4,256.2 L267.6,256.4 L267.9,256.7 L268.1,256.9 L268.4,257.2 L268.6,257.5 L268.9,257.9 L269.1,258.2 L269.4,258.6 L269.6,258.9 L269.9,259.3 L270.1,259.8 L270.4,260.2 L270.6,260.6 L270.9,261.1 L271.1,261.6 L271.4,262.1 L271.6,262.6 L271.9,263.2 L272.1,263.7 L272.4,264.3 L272.6,264.9 L272.9,265.5 L273.1,266.1 L273.4,266.7 L273.6,267.4 L273.9,268.1 L274.1,268.8 L274.4,269.5 L274.6,270.2 L274.9,271.0 L275.1,271.7 L275.4,272.5 L275.6,273.3 L275.9,274.1 L276.1,274.9 L276.4,275.8 L276.6,276.6 L276.8,277.5 L277.1,278.4 L277.3,279.3 L277.6,280.2 L277.8,281.1 L278.1,282.1 L278.3,283.0 L278.6,284.0 L278.8,285.0 L279.1,286.0 L279.3,287.1 L279.6,288.1 L279.8,289.2 L280.1,290.2 L280.3,291.3 L280.6,292.4 L280.8,293.5 L281.1,294.7 L281.3,295.8 L281.6,297.0 L281.8,298.1 L282.1,299.3 L282.3,300.5 L282.6,301.7 L282.8,302.9 L283.1,304.2 L283.3,305.4 L283.6,306.7 L283.8,308.0 L284.1,309.2 L284.3,310.5 L284.6,311.9 L284.8,313.2 L285.1,314.5 L285.3,315.9 L285.6,317.2 L285.8,318.6 L286.1,320.0 L286.3,321.4 L286.6,322.8 L286.8,324.2 L287.1,325.6 L287.3,327.0 L287.6,328.5 L287.8,329.9 L288.1,331.4 L288.3,332.9 L288.6,334.4 L288.8,335.9 L289.1,337.4 L289.3,338.9 L289.6,340.4 L289.8,341.9 L290.1,343.5 L290.3,345.0 L290.6,346.6 L290.8,348.2 L291.1,349.7 L291.3,351.3 L291.6,352.9 L291.8,354.5 L292.1,356.1 L292.3,357.7 L292.6,359.3 L292.8,361.0 L293.1,362.6 L293.3,364.2 L293.6,365.9 L293.8,367.5 L294.1,369.2 L294.3,370.9 L294.6,372.5 L294.8,374.2 L295.1,375.9 L295.3,377.6 L295.6,379.3 L295.8,381.0 L296.1,382.7 L296.3,384.4 L296.6,386.1 L296.8,387.8 L297.1,389.5 L297.3,391.2 L297.6,392.9 L297.8,394.7 L298.1,396.4 L298.3,398.1 L298.6,399.9 L298.8,401.6 L299.1,403.3 L299.3,405.1 L299.6,406.8 L299.8,408.6 L300.1,410.3 L300.3,412.1 L300.6,413.8 L300.8,415.6 L301.1,417.3 L301.3,419.1 L301.6,420.8 L301.8,421.2 L302.1,419.5 L302.3,417.7 L302.6,416.0 L302.8,414.2 L303.1,412.5 L303.3,410.7 L303.6,409.0 L303.8,407.3 L304.1,405.5 L304.3,403.8 L304.6,402.0 L304.8,400.3 L305.1,398.6 L305.3,396.8 L305.5,395.1 L305.8,393.4 L306.0,391.7 L306.3,389.9 L306.5,388.2 L306.8,386.5 L307.0,384.8 L307.3,383.1 L307.5,381.4 L307.8,379.7 L308.0,378.0 L308.3,376.3 L308.5,374.6 L308.8,373.0 L309.0,371.3 L309.3,369.6 L309.5,368.0 L309.8,366.3 L310.0,364.7 L310.3,363.0 L310.5,361.4 L310.8,359.8 L311.0,358.1 L311.3,356.5 L311.5,354.9 L311.8,353.3 L312.0,351.7 L312.3,350.1 L312.5,348.6 L312.8,347.0 L313.0,345.4 L313.3,343.9 L313.5,342.3 L313.8,340.8 L314.0,339.3 L314.3,337.8 L314.5,336.2 L314.8,334.7 L315.0,333.3 L315.3,331.8 L315.5,330.3 L315.8,328.8 L316.0,327.4 L316.3,326.0 L316.5,324.5 L316.8,323.1 L317.0,321.7 L317.3,320.3 L317.5,318.9 L317.8,317.6 L318.0,316.2 L318.3,314.8 L318.5,313.5 L318.8,312.2 L319.0,310.9 L319.3,309.6 L319.5,308.3 L319.8,307.0 L320.0,305.7 L320.3,304.5 L320.5,303.2 L320.8,302.0 L321.0,300.8 L321.3,299.6 L321.5,298.4 L321.8,297.2 L322.0,296.1 L322.3,294.9 L322.5,293.8 L322.8,292.7 L323.0,291.6 L323.3,290.5 L323.5,289.4 L323.8,288.4 L324.0,287.3 L324.3,286.3 L324.5,285.3 L324.8,284.3 L325.0,283.3 L325.3,282.3 L325.5,281.4 L325.8,280.4 L326.0,279.5 L326.3,278.6 L326.5,277.7 L326.8,276.8 L327.0,276.0 L327.3,275.1 L327.5,274.3 L327.8,273.5 L328.0,272.7 L328.3,271.9 L328.5,271.1 L328.8,270.4 L329.0,269.7 L329.3,268.9 L329.5,268.3 L329.8,267.6 L330.0,266.9 L330.3,266.3 L330.5,265.6 L330.8,265.0 L331.0,264.4 L331.3,263.9 L331.5,263.3 L331.8,262.8 L332.0,262.2 L332.3,261.7 L332.5,261.2 L332.8,260.8 L333.0,260.3 L333.3,259.9 L333.5,259.4 L333.8,259.0 L334.0,258.7 L334.2,258.3 L334.5,257.9 L334.7,257.6 L335.0,257.3 L335.2,257.0 L335.5,256.7 L335.7,256.5 L336.0,256.2 L336.2,256.0 L336.5,255.8 L336.7,255.6 L337.0,255.5 L337.2,255.3 L337.5,255.2 L337.7,255.1 L338.0,255.0 L338.2,254.9 L338.5,254.9 L338.7,254.8 L339.0,254.8 L339.2,254.8 L339.5,254.8 L339.7,254.9 L340.0,254.9 L340.2,255.0 L340.5,255.1 L340.7,255.2 L341.0,255.3 L341.2,255.5 L341.5,255.6 L341.7,255.8 L342.0,256.0 L342.2,256.2 L342.5,256.5 L342.7,256.7 L343.0,257.0 L343.2,257.3 L343.5,257.6 L343.7,257.9 L344.0,258.3 L344.2,258.6 L344.5,259.0 L344.7,259.4 L345.0,259.8 L345.2,260.2 L345.5,260.7 L345.7,261.2 L346.0,261.7 L346.2,262.2 L346.5,262.7 L346.7,263.2 L347.0,263.8 L347.2,264.4 L347.5,264.9 L347.7,265.6 L348.0,266.2 L348.2,266.8 L348.5,267.5 L348.7,268.2 L349.0,268.9 L349.2,269.6 L349.5,270.3 L349.7,271.0 L350.0,271.8 L350.2,272.6 L350.5,273.4 L350.7,274.2 L351.0,275.0 L351.2,275.9 L351.5,276.7 L351.7,277.6 L352.0,278.5 L352.2,279.4 L352.5,280.3 L352.7,281.2 L353.0,282.2 L353.2,283.2 L353.5,284.2 L353.7,285.1 L354.0,286.2 L354.2,287.2 L354.5,288.2 L354.7,289.3 L355.0,290.4 L355.2,291.5 L355.5,292.6 L355.7,293.7 L356.0,294.8 L356.2,295.9 L356.5,297.1 L356.7,298.3 L357.0,299.5 L357.2,300.7 L357.5,301.9 L357.7,303.1 L358.0,304.3 L358.2,305.6 L358.5,306.8 L358.7,308.1 L359.0,309.4 L359.2,310.7 L359.5,312.0 L359.7,313.3 L360.0,314.7 L360.2,316.0 L360.5,317.4 L360.7,318.8 L361.0,320.1 L361.2,321.5 L361.5,322.9 L361.7,324.4 L362.0,325.8 L362.2,327.2 L362.4,328.7 L362.7,330.1 L362.9,331.6 L363.2,333.1 L363.4,334.6 L363.7,336.1 L363.9,337.6 L364.2,339.1 L364.4,340.6 L364.7,342.1 L364.9,343.7 L365.2,345.2 L365.4,346.8 L365.7,348.4 L365.9,349.9 L366.2,351.5 L366.4,353.1 L366.7,354.7 L366.9,356.3 L367.2,357.9 L367.4,359.5 L367.7,361.2 L367.9,362.8 L368.2,364.5 L368.4,366.1 L368.7,367.8 L368.9,369.4 L369.2,371.1 L369.4,372.7 L369.7,374.4 L369.9,376.1 L370.2,377.8 L370.4,379.5 L370.7,381.2 L370.9,382.9 L371.2,384.6 L371.4,386.3 L371.7,388.0 L371.9,389.7 L372.2,391.4 L372.4,393.2 L372.7,394.9 L372.9,396.6 L373.2,398.3 L373.4,400.1 L373.7,401.8 L373.9,403.6 L374.2,405.3 L374.4,407.0 L374.7,408.8 L374.9,410.5 L375.2,412.3 L375.4,414.0 L375.7,415.8 L375.9,417.5 L376.2,419.3 L376.4,421.0 L376.7,421.0 L376.9,419.3 L377.2,417.5 L377.4,415.8 L377.7,414.0 L377.9,412.3 L378.2,410.5 L378.4,408.8 L378.7,407.0 L378.9,405.3 L379.2,403.6 L379.4,401.8 L379.7,400.1 L379.9,398.3 L380.2,396.6 L380.4,394.9 L380.7,393.2 L380.9,391.4 L381.2,389.7 L381.4,388.0 L381.7,386.3 L381.9,384.6 L382.2,382.9 L382.4,381.2 L382.7,379.5 L382.9,377.8 L383.2,376.1 L383.4,374.4 L383.7,372.7 L383.9,371.1 L384.2,369.4 L384.4,367.8 L384.7,366.1 L384.9,364.5 L385.2,362.8 L385.4,361.2 L385.7,359.5 L385.9,357.9 L386.2,356.3 L386.4,354.7 L386.7,353.1 L386.9,351.5 L387.2,349.9 L387.4,348.4 L387.7,346.8 L387.9,345.2 L388.2,343.7 L388.4,342.1 L388.7,340.6 L388.9,339.1 L389.2,337.6 L389.4,336.1 L389.7,334.6 L389.9,333.1 L390.2,331.6 L390.4,330.1 L390.7,328.7 L390.9,327.2 L391.1,325.8 L391.4,324.4 L391.6,322.9 L391.9,321.5 L392.1,320.1 L392.4,318.8 L392.6,317.4 L392.9,316.0 L393.1,314.7 L393.4,313.3 L393.6,312.0 L393.9,310.7 L394.1,309.4 L394.4,308.1 L394.6,306.8 L394.9,305.6 L395.1,304.3 L395.4,303.1 L395.6,301.9 L395.9,300.7 L396.1,299.5 L396.4,298.3 L396.6,297.1 L396.9,295.9 L397.1,294.8 L397.4,293.7 L397.6,292.6 L397.9,291.5 L398.1,290.4 L398.4,289.3 L398.6,288.2 L398.9,287.2 L399.1,286.2 L399.4,285.1 L399.6,284.2 L399.9,283.2 L400.1,282.2 L400.4,281.2 L400.6,280.3 L400.9,279.4 L401.1,278.5 L401.4,277.6 L401.6,276.7 L401.9,275.9 L402.1,275.0 L402.4,274.2 L402.6,273.4 L402.9,272.6 L403.1,271.8 L403.4,271.0 L403.6,270.3 L403.9,269.6 L404.1,268.9 L404.4,268.2 L404.6,267.5 L404.9,266.8 L405.1,266.2 L405.4,265.6 L405.6,264.9 L405.9,264.4 L406.1,263.8 L406.4,263.2 L406.6,262.7 L406.9,262.2 L407.1,261.7 L407.4,261.2 L407.6,260.7 L407.9,260.2 L408.1,259.8 L408.4,259.4 L408.6,259.0 L408.9,258.6 L409.1,258.3 L409.4,257.9 L409.6,257.6 L409.9,257.3 L410.1,257.0 L410.4,256.7 L410.6,256.5 L410.9,256.2 L411.1,256.0 L411.4,255.8 L411.6,255.6 L411.9,255.5 L412.1,255.3 L412.4,255.2 L412.6,255.1 L412.9,255.0 L413.1,254.9 L413.4,254.9 L413.6,254.8 L413.9,254.8 L414.1,254.8 L414.4,254.8 L414.6,254.9 L414.9,254.9 L415.1,255.0 L415.4,255.1 L415.6,255.2 L415.9,255.3 L416.1,255.5 L416.4,255.6 L416.6,255.8 L416.9,256.0 L417.1,256.2 L417.4,256.5 L417.6,256.7 L417.9,257.0 L418.1,257.3 L418.4,257.6 L418.6,257.9 L418.9,258.3 L419.1,258.7 L419.3,259.0 L419.6,259.4 L419.8,259.9 L420.1,260.3 L420.3,260.8 L420.6,261.2 L420.8,261.7 L421.1,262.2 L421.3,262.8 L421.6,263.3 L421.8,263.9 L422.1,264.4 L422.3,265.0 L422.6,265.6 L422.8,266.3 L423.1,266.9 L423.3,267.6 L423.6,268.3 L423.8,268.9 L424.1,269.7 L424.3,270.4 L424.6,271.1 L424.8,271.9 L425.1,272.7 L425.3,273.5 L425.6,274.3 L425.8,275.1 L426.1,276.0 L426.3,276.8 L426.6,277.7 L426.8,278.6 L427.1,279.5 L427.3,280.4 L427.6,281.4 L427.8,282.3 L428.1,283.3 L428.3,284.3 L428.6,285.3 L428.8,286.3 L429.1,287.3 L429.3,288.4 L429.6,289.4 L429.8,290.5 L430.1,291.6 L430.3,292.7 L430.6,293.8 L430.8,294.9 L431.1,296.1 L431.3,297.2 L431.6,298.4 L431.8,299.6 L432.1,300.8 L432.3,302.0 L432.6,303.2 L432.8,304.5 L433.1,305.7 L433.3,307.0 L433.6,308.3 L433.8,309.6 L434.1,310.9 L434.3,312.2 L434.6,313.5 L434.8,314.8 L435.1,316.2 L435.3,317.6 L435.6,318.9 L435.8,320.3 L436.1,321.7 L436.3,323.1 L436.6,324.5 L436.8,326.0 L437.1,327.4 L437.3,328.8 L437.6,330.3 L437.8,331.8 L438.1,333.3 L438.3,334.7 L438.6,336.2 L438.8,337.8 L439.1,339.3 L439.3,340.8 L439.6,342.3 L439.8,343.9 L440.1,345.4 L440.3,347.0 L440.6,348.6 L440.8,350.1 L441.1,351.7 L441.3,353.3 L441.6,354.9 L441.8,356.5 L442.1,358.1 L442.3,359.8 L442.6,361.4 L442.8,363.0 L443.1,364.7 L443.3,366.3 L443.6,368.0 L443.8,369.6 L444.1,371.3 L444.3,373.0 L444.6,374.6 L444.8,376.3 L445.1,378.0 L445.3,379.7 L445.6,381.4 L445.8,383.1 L446.1,384.8 L446.3,386.5 L446.6,388.2 L446.8,389.9 L447.1,391.7 L447.3,393.4 L447.6,395.1 L447.8,396.8 L448.0,398.6 L448.3,400.3 L448.5,402.0 L448.8,403.8 L449.0,405.5 L449.3,407.3 L449.5,409.0 L449.8,410.7 L450.0,412.5 L450.3,414.2 L450.5,416.0 L450.8,417.7 L451.0,419.5 L451.3,421.2 L451.5,420.8 L451.8,419.1 L452.0,417.3 L452.3,415.6 L452.5,413.8 L452.8,412.1 L453.0,410.3 L453.3,408.6 L453.5,406.8 L453.8,405.1 L454.0,403.3 L454.3,401.6 L454.5,399.9 L454.8,398.1 L455.0,396.4 L455.3,394.7 L455.5,392.9 L455.8,391.2 L456.0,389.5 L456.3,387.8 L456.5,386.1 L456.8,384.4 L457.0,382.7 L457.3,381.0 L457.5,379.3 L457.8,377.6 L458.0,375.9 L458.3,374.2 L458.5,372.5 L458.8,370.9 L459.0,369.2 L459.3,367.5 L459.5,365.9 L459.8,364.2 L460.0,362.6 L460.3,361.0 L460.5,359.3 L460.8,357.7 L461.0,356.1 L461.3,354.5 L461.5,352.9 L461.8,351.3 L462.0,349.7 L462.3,348.2 L462.5,346.6 L462.8,345.0 L463.0,343.5 L463.3,341.9 L463.5,340.4 L463.8,338.9 L464.0,337.4 L464.3,335.9 L464.5,334.4 L464.8,332.9 L465.0,331.4 L465.3,329.9 L465.5,328.5 L465.8,327.0 L466.0,325.6 L466.3,324.2 L466.5,322.8 L466.8,321.4 L467.0,320.0 L467.3,318.6 L467.5,317.2 L467.8,315.9 L468.0,314.5 L468.3,313.2 L468.5,311.9 L468.8,310.5 L469.0,309.2 L469.3,308.0 L469.5,306.7 L469.8,305.4 L470.0,304.2 L470.3,302.9 L470.5,301.7 L470.8,300.5 L471.0,299.3 L471.3,298.1 L471.5,297.0 L471.8,295.8 L472.0,294.7 L472.3,293.5 L472.5,292.4 L472.8,291.3 L473.0,290.2 L473.3,289.2 L473.5,288.1 L473.8,287.1 L474.0,286.0 L474.3,285.0 L474.5,284.0 L474.8,283.0 L475.0,282.1 L475.3,281.1 L475.5,280.2 L475.8,279.3 L476.0,278.4 L476.3,277.5 L476.5,276.6 L476.7,275.8 L477.0,274.9 L477.2,274.1 L477.5,273.3 L477.7,272.5 L478.0,271.7 L478.2,271.0 L478.5,270.2 L478.7,269.5 L479.0,268.8 L479.2,268.1 L479.5,267.4 L479.7,266.7 L480.0,266.1 L480.2,265.5 L480.5,264.9 L480.7,264.3 L481.0,263.7 L481.2,263.2 L481.5,262.6 L481.7,262.1 L482.0,261.6 L482.2,261.1 L482.5,260.6 L482.7,260.2 L483.0,259.8 L483.2,259.3 L483.5,258.9 L483.7,258.6 L484.0,258.2 L484.2,257.9 L484.5,257.5 L484.7,257.2 L485.0,256.9 L485.2,256.7 L485.5,256.4 L485.7,256.2 L486.0,256.0 L486.2,255.8 L486.5,255.6 L486.7,255.4 L487.0,255.3 L487.2,255.2 L487.5,255.1 L487.7,255.0 L488.0,254.9 L488.2,254.8 L488.5,254.8 L488.7,254.8 L489.0,254.8 L489.2,254.8 L489.5,254.9 L489.7,254.9 L490.0,255.0 L490.2,255.1 L490.5,255.2 L490.7,255.3 L491.0,255.5 L491.2,255.7 L491.5,255.8 L491.7,256.1 L492.0,256.3 L492.2,256.5 L492.5,256.8 L492.7,257.1 L493.0,257.3 L493.2,257.7 L493.5,258.0 L493.7,258.3 L494.0,258.7 L494.2,259.1 L494.5,259.5 L494.7,259.9 L495.0,260.4 L495.2,260.8 L495.5,261.3 L495.7,261.8 L496.0,262.3 L496.2,262.8 L496.5,263.4 L496.7,263.9 L497.0,264.5 L497.2,265.1 L497.5,265.7 L497.7,266.3 L498.0,267.0 L498.2,267.7 L498.5,268.3 L498.7,269.0 L499.0,269.8 L499.2,270.5 L499.5,271.2 L499.7,272.0 L500.0,272.8 L500.2,273.6 L500.5,274.4 L500.7,275.2 L501.0,276.1 L501.2,276.9 L501.5,277.8 L501.7,278.7 L502.0,279.6 L502.2,280.5 L502.5,281.5 L502.7,282.4 L503.0,283.4 L503.2,284.4 L503.5,285.4 L503.7,286.4 L504.0,287.5 L504.2,288.5 L504.5,289.6 L504.7,290.6 L504.9,291.7 L505.2,292.8 L505.4,293.9 L505.7,295.1 L505.9,296.2 L506.2,297.4 L506.4,298.6 L506.7,299.8 L506.9,301.0 L507.2,302.2 L507.4,303.4 L507.7,304.6 L507.9,305.9 L508.2,307.2 L508.4,308.4 L508.7,309.7 L508.9,311.0 L509.2,312.3 L509.4,313.7 L509.7,315.0 L509.9,316.4 L510.2,317.7 L510.4,319.1 L510.7,320.5 L510.9,321.9 L511.2,323.3 L511.4,324.7 L511.7,326.1 L511.9,327.6 L512.2,329.0 L512.4,330.5 L512.7,332.0 L512.9,333.4 L513.2,334.9 L513.4,336.4 L513.7,337.9 L513.9,339.5 L514.2,341.0 L514.4,342.5 L514.7,344.1 L514.9,345.6 L515.2,347.2 L515.4,348.8 L515.7,350.3 L515.9,351.9 L516.2,353.5 L516.4,355.1 L516.7,356.7 L516.9,358.3 L517.2,360.0 L517.4,361.6 L517.7,363.2 L517.9,364.9 L518.2,366.5 L518.4,368.2 L518.7,369.8 L518.9,371.5 L519.2,373.2 L519.4,374.8 L519.7,376.5 L519.9,378.2 L520.2,379.9 L520.4,381.6 L520.7,383.3 L520.9,385.0 L521.2,386.7 L521.4,388.4 L521.7,390.1 L521.9,391.9 L522.2,393.6 L522.4,395.3 L522.7,397.0 L522.9,398.8 L523.2,400.5 L523.4,402.3 L523.7,404.0 L523.9,405.7 L524.2,407.5 L524.4,409.2 L524.7,411.0 L524.9,412.7 L525.2,414.5 L525.4,416.2 L525.7,418.0 L525.9,419.7 L526.2,421.5 L526.4,420.6 L526.7,418.8 L526.9,417.1 L527.2,415.3 L527.4,413.6 L527.7,411.8 L527.9,410.1 L528.2,408.3 L528.4,406.6 L528.7,404.9 L528.9,403.1 L529.2,401.4 L529.4,399.6 L529.7,397.9 L529.9,396.2 L530.2,394.5 L530.4,392.7 L530.7,391.0 L530.9,389.3 L531.2,387.6 L531.4,385.9 L531.7,384.2 L531.9,382.4 L532.2,380.8 L532.4,379.1 L532.7,377.4 L532.9,375.7 L533.2,374.0 L533.4,372.3 L533.6,370.7 L533.9,369.0 L534.1,367.3 L534.4,365.7 L534.6,364.0 L534.9,362.4 L535.1,360.8 L535.4,359.1 L535.6,357.5 L535.9,355.9 L536.1,354.3 L536.4,352.7 L536.6,351.1 L536.9,349.5 L537.1,348.0 L537.4,346.4 L537.6,344.8 L537.9,343.3 L538.1,341.8 L538.4,340.2 L538.6,338.7 L538.9,337.2 L539.1,335.7 L539.4,334.2 L539.6,332.7 L539.9,331.2 L540.1,329.8 L540.4,328.3 L540.6,326.9 L540.9,325.4 L541.1,324.0 L541.4,322.6 L541.6,321.2 L541.9,319.8 L542.1,318.4 L542.4,317.0 L542.6,315.7 L542.9,314.3 L543.1,313.0 L543.4,311.7 L543.6,310.4 L543.9,309.1 L544.1,307.8 L544.4,306.5 L544.6,305.3 L544.9,304.0 L545.1,302.8 L545.4,301.6 L545.6,300.4 L545.9,299.2 L546.1,298.0 L546.4,296.8 L546.6,295.7 L546.9,294.5 L547.1,293.4 L547.4,292.3 L547.6,291.2 L547.9,290.1 L548.1,289.0 L548.4,288.0 L548.6,286.9 L548.9,285.9 L549.1,284.9 L549.4,283.9 L549.6,282.9 L549.9,282.0 L550.1,281.0 L550.4,280.1 L550.6,279.2 L550.9,278.3 L551.1,277.4 L551.4,276.5 L551.6,275.6 L551.9,274.8 L552.1,274.0 L552.4,273.2 L552.6,272.4 L552.9,271.6 L553.1,270.9 L553.4,270.1 L553.6,269.4 L553.9,268.7 L554.1,268.0 L554.4,267.3 L554.6,266.7 L554.9,266.0 L555.1,265.4 L555.4,264.8 L555.6,264.2 L555.9,263.6 L556.1,263.1 L556.4,262.6 L556.6,262.0 L556.9,261.5 L557.1,261.0 L557.4,260.6 L557.6,260.1 L557.9,259.7 L558.1,259.3 L558.4,258.9 L558.6,258.5 L558.9,258.2 L559.1,257.8 L559.4,257.5 L559.6,257.2 L559.9,256.9 L560.1,256.6 L560.4,256.4 L560.6,256.2 L560.9,255.9 L561.1,255.8 L561.4,255.6 L561.6,255.4 L561.9,255.3 L562.1,255.2 L562.3,255.0 L562.6,255.0 L562.8,254.9 L563.1,254.8 L563.3,254.8 L563.6,254.8 L563.8,254.8 L564.1,254.8 L564.3,254.9 L564.6,254.9 L564.8,255.0 L565.1,255.1 L565.3,255.2 L565.6,255.4 L565.8,255.5 L566.1,255.7 L566.3,255.9 L566.6,256.1 L566.8,256.3 L567.1,256.5 L567.3,256.8 L567.6,257.1 L567.8,257.4 L568.1,257.7 L568.3,258.0 L568.6,258.4 L568.8,258.8 L569.1,259.1 L569.3,259.5 L569.6,260.0 L569.8,260.4 L570.1,260.9 L570.3,261.3 L570.6,261.8 L570.8,262.4 L571.1,262.9 L571.3,263.4 L571.6,264.0 L571.8,264.6 L572.1,265.2 L572.3,265.8 L572.6,266.4 L572.8,267.1 L573.1,267.7 L573.3,268.4 L573.6,269.1 L573.8,269.8 L574.1,270.6 L574.3,271.3 L574.6,272.1 L574.8,272.9 L575.1,273.7 L575.3,274.5 L575.6,275.3 L575.8,276.2 L576.1,277.0 L576.3,277.9 L576.6,278.8 L576.8,279.7 L577.1,280.7 L577.3,281.6 L577.6,282.6 L577.8,283.5 L578.1,284.5 L578.3,285.5 L578.6,286.5 L578.8,287.6 L579.1,288.6 L579.3,289.7 L579.6,290.8 L579.8,291.9 L580.1,293.0 L580.3,294.1 L580.6,295.2 L580.8,296.4 L581.1,297.5 L581.3,298.7 L581.6,299.9 L581.8,301.1 L582.1,302.3 L582.3,303.5 L582.6,304.8 L582.8,306.0 L583.1,307.3 L583.3,308.6 L583.6,309.9 L583.8,311.2 L584.1,312.5 L584.3,313.8 L584.6,315.2 L584.8,316.5 L585.1,317.9 L585.3,319.3 L585.6,320.7 L585.8,322.1 L586.1,323.5 L586.3,324.9 L586.6,326.3 L586.8,327.8 L587.1,329.2 L587.3,330.7 L587.6,332.1 L587.8,333.6 L588.1,335.1 L588.3,336.6 L588.6,338.1 L588.8,339.6 L589.1,341.2 L589.3,342.7 L589.6,344.3 L589.8,345.8 L590.1,347.4 L590.3,348.9 L590.5,350.5 L590.8,352.1 L591.0,353.7 L591.3,355.3 L591.5,356.9 L591.8,358.5 L592.0,360.2 L592.3,361.8 L592.5,363.4 L592.8,365.1 L593.0,366.7 L593.3,368.4 L593.5,370.0 L593.8,371.7 L594.0,373.4 L594.3,375.1 L594.5,376.7 L594.8,378.4 L595.0,380.1 L595.3,381.8 L595.5,383.5 L595.8,385.2 L596.0,386.9 L596.3,388.6 L596.5,390.4 L596.8,392.1 L597.0,393.8 L597.3,395.5 L597.5,397.3 L597.8,399.0 L598.0,400.7 L598.3,402.5 L598.5,404.2 L598.8,406.0 L599.0,407.7 L599.3,409.4 L599.5,411.2 L599.8,412.9 L600.0,414.7 L600.3,416.4 L600.5,418.2 L600.8,419.9 L601.0,421.7 L601.3,420.4 L601.5,418.6 L601.8,416.9 L602.0,415.1 L602.3,413.4 L602.5,411.6 L602.8,409.9 L603.0,408.1 L603.3,406.4 L603.5,404.6 L603.8,402.9 L604.0,401.2 L604.3,399.4 L604.5,397.7 L604.8,396.0 L605.0,394.2 L605.3,392.5 L605.5,390.8 L605.8,389.1 L606.0,387.4 L606.3,385.6 L606.5,383.9 L606.8,382.2 L607.0,380.5 L607.3,378.8 L607.5,377.2 L607.8,375.5 L608.0,373.8 L608.3,372.1 L608.5,370.5 L608.8,368.8 L609.0,367.1 L609.3,365.5 L609.5,363.8 L609.8,362.2 L610.0,360.6 L610.3,358.9 L610.5,357.3 L610.8,355.7 L611.0,354.1 L611.3,352.5 L611.5,350.9 L611.8,349.3 L612.0,347.8 L612.3,346.2 L612.5,344.6 L612.8,343.1 L613.0,341.6 L613.3,340.0 L613.5,338.5 L613.8,337.0 L614.0,335.5 L614.3,334.0 L614.5,332.5 L614.8,331.0 L615.0,329.6 L615.3,328.1 L615.5,326.7 L615.8,325.2 L616.0,323.8 L616.3,322.4 L616.5,321.0 L616.8,319.6 L617.0,318.2 L617.3,316.9 L617.5,315.5 L617.8,314.2 L618.0,312.8 L618.3,311.5 L618.5,310.2 L618.8,308.9 L619.0,307.6 L619.2,306.4 L619.5,305.1 L619.7,303.9 L620.0,302.6 L620.2,301.4 L620.5,300.2 L620.7,299.0 L621.0,297.8 L621.2,296.7 L621.5,295.5 L621.7,294.4 L622.0,293.2 L622.2,292.1 L622.5,291.0 L622.7,290.0 L623.0,288.9 L623.2,287.8 L623.5,286.8 L623.7,285.8 L624.0,284.8 L624.2,283.8 L624.5,282.8 L624.7,281.8 L625.0,280.9 L625.2,280.0 L625.5,279.0 L625.7,278.1 L626.0,277.3 L626.2,276.4 L626.5,275.5 L626.7,274.7 L627.0,273.9 L627.2,273.1 L627.5,272.3 L627.7,271.5 L628.0,270.8 L628.2,270.0 L628.5,269.3 L628.7,268.6 L629.0,267.9 L629.2,267.2 L629.5,266.6 L629.7,265.9 L630.0,265.3 L630.2,264.7 L630.5,264.1 L630.7,263.6 L631.0,263.0 L631.2,262.5 L631.5,262.0 L631.7,261.5 L632.0,261.0 L632.2,260.5 L632.5,260.1 L632.7,259.7 L633.0,259.2 L633.2,258.9 L633.5,258.5 L633.7,258.1 L634.0,257.8 L634.2,257.5 L634.5,257.2 L634.7,256.9 L635.0,256.6 L635.2,256.4 L635.5,256.1 L635.7,255.9 L636.0,255.7 L636.2,255.6 L636.5,255.4 L636.7,255.3 L637.0,255.1 L637.2,255.0 L637.5,255.0 L637.7,254.9 L638.0,254.8 L638.2,254.8 L638.5,254.8 L638.7,254.8 L639.0,254.8 L639.2,254.9 L639.5,254.9 L639.7,255.0 L640.0,255.1 L640.2,255.2 L640.5,255.4 L640.7,255.5 L641.0,255.7 L641.2,255.9 L641.5,256.1 L641.7,256.3 L642.0,256.6 L642.2,256.8 L642.5,257.1 L642.7,257.4 L643.0,257.7 L643.2,258.1 L643.5,258.4 L643.7,258.8 L644.0,259.2 L644.2,259.6 L644.5,260.0 L644.7,260.5 L645.0,260.9 L645.2,261.4 L645.5,261.9 L645.7,262.4 L646.0,263.0 L646.2,263.5 L646.5,264.1 L646.7,264.6 L647.0,265.3 L647.2,265.9 L647.4,266.5 L647.7,267.2 L647.9,267.8 L648.2,268.5 L648.4,269.2 L648.7,269.9 L648.9,270.7 L649.2,271.4 L649.4,272.2 L649.7,273.0 L649.9,273.8 L650.2,274.6 L650.4,275.4 L650.7,276.3 L650.9,277.2 L651.2,278.0 L651.4,278.9 L651.7,279.8 L651.9,280.8 L652.2,281.7 L652.4,282.7 L652.7,283.7 L652.9,284.6 L653.2,285.7 L653.4,286.7 L653.7,287.7 L653.9,288.8 L654.2,289.8 L654.4,290.9 L654.7,292.0 L654.9,293.1 L655.2,294.2 L655.4,295.4 L655.7,296.5 L655.9,297.7 L656.2,298.9 L656.4,300.1 L656.7,301.3 L656.9,302.5 L657.2,303.7 L657.4,304.9 L657.7,306.2 L657.9,307.5 L658.2,308.8 L658.4,310.1 L658.7,311.4 L658.9,312.7 L659.2,314.0 L659.4,315.3 L659.7,316.7 L659.9,318.1 L660.2,319.4 L660.4,320.8 L660.7,322.2 L660.9,323.6 L661.2,325.1 L661.4,326.5 L661.7,327.9 L661.9,329.4 L662.2,330.9 L662.4,332.3 L662.7,333.8 L662.9,335.3 L663.2,336.8 L663.4,338.3 L663.7,339.8 L663.9,341.4 L664.2,342.9 L664.4,344.5 L664.7,346.0 L664.9,347.6 L665.2,349.1 L665.4,350.7 L665.7,352.3 L665.9,353.9 L666.2,355.5 L666.4,357.1 L666.7,358.7 L666.9,360.4 L667.2,362.0 L667.4,363.6 L667.7,365.3 L667.9,366.9 L668.2,368.6 L668.4,370.2 L668.7,371.9 L668.9,373.6 L669.2,375.3 L669.4,376.9 L669.7,378.6 L669.9,380.3 L670.2,382.0 L670.4,383.7 L670.7,385.4 L670.9,387.1 L671.2,388.9 L671.4,390.6 L671.7,392.3 L671.9,394.0 L672.2,395.7 L672.4,397.5 L672.7,399.2 L672.9,400.9 L673.2,402.7 L673.4,404.4 L673.7,406.2 L673.9,407.9 L674.2,409.7 L674.4,411.4 L674.7,413.2 L674.9,414.9 L675.2,416.6 L675.4,418.4 L675.7,420.1 L675.9,421.9" stroke="#1f1fc8" stroke-width="2.0"/>
<path d="M77.2,425.0 L77.4,422.6 L77.7,420.2 L77.9,417.4 L78.2,414.2 L78.4,410.7 L78.7,407.5 L78.9,404.9 L79.2,402.7 L79.4,400.8 L79.7,399.1 L79.9,397.6 L80.2,396.1 L80.4,394.6 L80.7,393.2 L80.9,391.8 L81.2,390.4 L81.4,389.2 L81.7,388.1 L81.9,387.3 L82.2,386.5 L82.4,386.1 L82.7,385.8 L82.9,384.5 L83.2,382.8 L83.4,380.9 L83.7,378.9 L83.9,376.8 L84.2,374.5 L84.4,371.3 L84.7,369.0 L84.9,367.1 L85.2,365.2 L85.4,363.4 L85.7,361.7 L85.9,360.0 L86.2,358.4 L86.4,356.7 L86.7,355.1 L86.9,353.6 L87.2,352.0 L87.4,350.4 L87.7,348.9 L87.9,347.4 L88.2,345.8 L88.4,344.3 L88.7,342.7 L88.9,341.2 L89.2,339.7 L89.4,338.1 L89.7,336.6 L89.9,335.0 L90.2,333.5 L90.4,332.0 L90.7,330.5 L90.9,329.0 L91.2,327.6 L91.4,326.2 L91.7,325.0 L91.9,323.9 L92.2,323.4 L92.4,323.8 L92.7,323.4 L92.9,322.7 L93.2,322.0 L93.4,321.4 L93.7,320.7 L93.9,320.0 L94.2,319.4 L94.4,318.9 L94.7,318.3 L94.9,317.8 L95.2,317.2 L95.4,316.6 L95.7,316.1 L95.9,315.5 L96.2,314.9 L96.4,314.4 L96.7,313.7 L96.9,312.8 L97.2,311.6 L97.4,310.2 L97.7,308.8 L97.9,307.3 L98.2,305.9 L98.4,304.5 L98.7,303.2 L98.9,301.8 L99.2,300.5 L99.4,299.3 L99.7,298.1 L99.9,297.0 L100.2,296.0 L100.4,295.1 L100.7,294.3 L100.9,293.5 L101.2,292.6 L101.4,291.8 L101.7,290.8 L101.9,289.7 L102.2,288.6 L102.4,287.4 L102.7,286.2 L102.9,285.3 L103.2,284.5 L103.4,283.7 L103.7,283.0 L103.9,282.4 L104.2,281.7 L104.4,281.0 L104.7,280.3 L104.9,279.4 L105.2,278.2 L105.4,276.8 L105.7,275.5 L105.9,274.5 L106.1,273.9 L106.4,273.5 L106.6,273.3 L106.9,273.1 L107.1,272.8 L107.4,272.5 L107.6,272.0 L107.9,271.2 L108.1,270.3 L108.4,269.2 L108.6,268.1 L108.9,267.1 L109.1,266.3 L109.4,265.5 L109.6,264.7 L109.9,264.0 L110.1,263.2 L110.4,262.5 L110.6,261.9 L110.9,261.2 L111.1,260.6 L111.4,260.0 L111.6,259.4 L111.9,258.9 L112.1,258.3 L112.4,257.9 L112.6,257.4 L112.9,257.1 L113.1,256.7 L113.4,256.4 L113.6,256.2 L113.9,256.0 L114.1,255.8 L114.4,255.6 L114.6,255.5 L114.9,255.3 L115.1,255.2 L115.4,255.1 L115.6,255.0 L115.9,255.0 L116.1,254.9 L116.4,254.9 L116.6,254.9 L116.9,254.9 L117.1,254.9 L117.4,254.9 L117.6,255.0 L117.9,255.1 L118.1,255.2 L118.4,255.3 L118.6,255.4 L118.9,255.6 L119.1,255.8 L119.4,256.0 L119.6,256.2 L119.9,256.5 L120.1,256.7 L120.4,257.0 L120.6,257.3 L120.9,257.7 L121.1,258.0 L121.4,258.4 L121.6,258.8 L121.9,259.3 L122.1,259.7 L122.4,260.2 L122.6,260.7 L122.9,261.2 L123.1,261.8 L123.4,262.3 L123.6,262.9 L123.9,263.4 L124.1,264.0 L124.4,264.7 L124.6,265.3 L124.9,265.9 L125.1,266.6 L125.4,267.2 L125.6,267.9 L125.9,268.6 L126.1,269.3 L126.4,270.0 L126.6,270.7 L126.9,271.4 L127.1,272.2 L127.4,272.9 L127.6,273.7 L127.9,274.5 L128.1,275.3 L128.4,276.1 L128.6,276.9 L128.9,277.8 L129.1,278.6 L129.4,279.5 L129.6,280.3 L129.9,281.2 L130.1,282.1 L130.4,283.0 L130.6,284.0 L130.9,284.9 L131.1,285.9 L131.4,286.9 L131.6,287.8 L131.9,288.8 L132.1,289.8 L132.4,290.9 L132.6,291.9 L132.9,293.0 L133.1,294.0 L133.4,295.1 L133.6,296.2 L133.9,297.3 L134.1,298.5 L134.3,299.6 L134.6,300.8 L134.8,302.0 L135.1,303.1 L135.3,304.4 L135.6,305.6 L135.8,306.8 L136.1,308.0 L136.3,309.3 L136.6,310.6 L136.8,311.9 L137.1,313.1 L137.3,314.5 L137.6,315.8 L137.8,317.1 L138.1,318.5 L138.3,319.8 L138.6,321.2 L138.8,322.6 L139.1,323.9 L139.3,325.3 L139.6,326.8 L139.8,328.2 L140.1,329.6 L140.3,331.0 L140.6,332.5 L140.8,333.9 L141.1,335.4 L141.3,336.8 L141.6,338.3 L141.8,339.9 L142.1,341.4 L142.3,343.1 L142.6,344.7 L142.8,346.3 L143.1,348.0 L143.3,349.6 L143.6,351.3 L143.8,352.9 L144.1,354.6 L144.3,356.3 L144.6,357.9 L144.8,359.5 L145.1,361.2 L145.3,362.8 L145.6,364.3 L145.8,365.9 L146.1,367.5 L146.3,369.1 L146.6,370.7 L146.8,372.4 L147.1,374.0 L147.3,375.6 L147.6,377.2 L147.8,378.8 L148.1,380.5 L148.3,382.1 L148.6,383.7 L148.8,385.3 L149.1,387.0 L149.3,388.6 L149.6,390.2 L149.8,391.8 L150.1,393.4 L150.3,394.9 L150.6,396.5 L150.8,397.2 L151.1,394.5 L151.3,398.2 L151.6,396.3 L151.8,397.6 L152.1,398.8 L152.3,397.1 L152.6,395.4 L152.8,394.0 L153.1,392.6 L153.3,391.3 L153.6,389.9 L153.8,408.4 L154.1,391.9 L154.3,417.2 L154.6,418.6 L154.8,419.9 L155.1,421.0 L155.3,422.1 L155.6,423.0 L155.8,423.7 L156.1,424.3 L156.3,424.5 L156.6,424.6 L156.8,423.7 L157.1,422.4 L157.3,419.3 L157.6,412.6 L157.8,403.1 L158.1,394.8 L158.3,389.3 L158.6,385.4 L158.8,382.5 L159.1,380.1 L159.3,378.3 L159.6,376.8 L159.8,375.5 L160.1,374.2 L160.3,372.8 L160.6,371.4 L160.8,369.9 L161.1,368.3 L161.3,366.7 L161.6,364.9 L161.8,362.8 L162.1,360.4 L162.3,358.0 L162.6,355.8 L162.8,353.6 L163.0,351.6 L163.3,349.6 L163.5,347.6 L163.8,345.6 L164.0,343.6 L164.3,341.7 L164.5,339.8 L164.8,337.9 L165.0,336.1 L165.3,334.3 L165.5,332.6 L165.8,330.8 L166.0,329.2 L166.3,327.5 L166.5,325.8 L166.8,324.2 L167.0,322.6 L167.3,321.0 L167.5,319.4 L167.8,317.8 L168.0,316.3 L168.3,314.7 L168.5,313.2 L168.8,311.7 L169.0,310.2 L169.3,308.8 L169.5,307.3 L169.8,305.9 L170.0,304.4 L170.3,302.9 L170.5,301.4 L170.8,299.9 L171.0,298.5 L171.3,297.2 L171.5,296.2 L171.8,295.1 L172.0,294.0 L172.3,292.6 L172.5,290.9 L172.8,289.5 L173.0,288.5 L173.3,287.7 L173.5,286.7 L173.8,285.6 L174.0,284.1 L174.3,282.7 L174.5,281.7 L174.8,280.9 L175.0,280.1 L175.3,279.2 L175.5,277.9 L175.8,276.5 L176.0,275.4 L176.3,274.7 L176.5,274.1 L176.8,273.4 L177.0,272.4 L177.3,271.2 L177.5,270.2 L177.8,269.4 L178.0,269.1 L178.3,268.6 L178.5,267.8 L178.8,267.0 L179.0,266.2 L179.3,265.4 L179.5,264.8 L179.8,264.4 L180.0,264.0 L180.3,263.5 L180.5,263.0 L180.8,262.5 L181.0,262.0 L181.3,261.5 L181.5,261.0 L181.8,260.5 L182.0,260.0 L182.3,259.6 L182.5,259.1 L182.8,258.7 L183.0,258.2 L183.3,257.8 L183.5,257.4 L183.8,257.1 L184.0,256.7 L184.3,256.4 L184.5,256.0 L184.8,255.7 L185.0,255.4 L185.3,255.1 L185.5,254.9 L185.8,254.6 L186.0,254.4 L186.3,254.2 L186.5,254.0 L186.8,253.8 L187.0,253.7 L187.3,253.5 L187.5,253.4 L187.8,253.3 L188.0,253.2 L188.3,253.1 L188.5,253.0 L188.8,253.0 L189.0,252.9 L189.3,252.9 L189.5,252.9 L189.8,252.8 L190.0,252.8 L190.3,252.8 L190.5,252.7 L190.8,252.6 L191.0,252.5 L191.2,252.4 L191.5,252.4 L191.7,252.4 L192.0,252.5 L192.2,252.6 L192.5,252.7 L192.7,252.9 L193.0,253.1 L193.2,253.3 L193.5,253.5 L193.7,253.8 L194.0,254.0 L194.2,254.3 L194.5,254.7 L194.7,255.0 L195.0,255.3 L195.2,255.7 L195.5,256.1 L195.7,256.5 L196.0,256.9 L196.2,257.4 L196.5,257.8 L196.7,258.3 L197.0,258.8 L197.2,259.3 L197.5,259.9 L197.7,260.4 L198.0,261.0 L198.2,261.5 L198.5,262.1 L198.7,262.7 L199.0,263.3 L199.2,264.0 L199.5,264.6 L199.7,265.3 L200.0,266.0 L200.2,266.7 L200.5,267.4 L200.7,268.2 L201.0,268.9 L201.2,269.7 L201.5,270.5 L201.7,271.3 L202.0,272.1 L202.2,272.9 L202.5,273.8 L202.7,274.7 L203.0,275.6 L203.2,276.5 L203.5,277.4 L203.7,278.3 L204.0,279.2 L204.2,280.2 L204.5,281.2 L204.7,282.2 L205.0,283.2 L205.2,284.2 L205.5,285.3 L205.7,286.3 L206.0,287.4 L206.2,288.5 L206.5,289.6 L206.7,290.7 L207.0,291.9 L207.2,293.0 L207.5,294.2 L207.7,295.4 L208.0,296.6 L208.2,297.9 L208.5,299.1 L208.7,300.4 L209.0,301.7 L209.2,303.0 L209.5,304.3 L209.7,305.6 L210.0,307.0 L210.2,308.3 L210.5,309.7 L210.7,311.1 L211.0,312.5 L211.2,313.9 L211.5,315.3 L211.7,316.8 L212.0,318.2 L212.2,319.7 L212.5,321.2 L212.7,322.7 L213.0,324.2 L213.2,325.7 L213.5,327.3 L213.7,328.8 L214.0,330.4 L214.2,332.0 L214.5,333.6 L214.7,335.3 L215.0,337.0 L215.2,338.7 L215.5,340.4 L215.7,342.1 L216.0,343.9 L216.2,345.6 L216.5,347.4 L216.7,349.1 L217.0,350.9 L217.2,352.7 L217.5,354.5 L217.7,356.4 L218.0,358.2 L218.2,360.1 L218.5,362.0 L218.7,363.9 L219.0,365.8 L219.2,367.7 L219.5,369.7 L219.7,371.7 L219.9,373.8 L220.2,375.9 L220.4,378.0 L220.7,380.0 L220.9,382.0 L221.2,383.9 L221.4,385.8 L221.7,387.7 L221.9,389.5 L222.2,391.3 L222.4,393.1 L222.7,394.8 L222.9,396.6 L223.2,398.4 L223.4,400.1 L223.7,401.9 L223.9,403.6 L224.2,405.2 L224.4,406.7 L224.7,408.2 L224.9,409.7 L225.2,410.8 L225.4,411.9 L225.7,412.6 L225.9,413.1 L226.2,413.2 L226.4,413.3 L226.7,414.0 L226.9,414.6 L227.2,413.4 L227.4,413.8 L227.7,414.3 L227.9,413.9 L228.2,412.9 L228.4,411.8 L228.7,410.5 L228.9,409.1 L229.2,407.8 L229.4,406.4 L229.7,404.9 L229.9,403.4 L230.2,401.9 L230.4,400.3 L230.7,398.6 L230.9,397.0 L231.2,395.2 L231.4,393.5 L231.7,391.7 L231.9,390.0 L232.2,388.2 L232.4,386.4 L232.7,384.6 L232.9,382.8 L233.2,381.0 L233.4,379.2 L233.7,377.3 L233.9,375.5 L234.2,373.7 L234.4,371.8 L234.7,370.0 L234.9,368.1 L235.2,366.2 L235.4,364.3 L235.7,362.4 L235.9,360.5 L236.2,358.6 L236.4,356.7 L236.7,354.8 L236.9,352.9 L237.2,350.9 L237.4,349.0 L237.7,347.1 L237.9,345.3 L238.2,343.6 L238.4,341.8 L238.7,340.1 L238.9,338.5 L239.2,336.9 L239.4,335.3 L239.7,333.7 L239.9,332.1 L240.2,330.5 L240.4,329.0 L240.7,327.5 L240.9,326.0 L241.2,324.5 L241.4,323.0 L241.7,321.5 L241.9,320.1 L242.2,318.6 L242.4,317.2 L242.7,315.8 L242.9,314.4 L243.2,313.0 L243.4,311.7 L243.7,310.3 L243.9,309.0 L244.2,307.7 L244.4,306.4 L244.7,305.1 L244.9,303.8 L245.2,302.5 L245.4,301.3 L245.7,300.1 L245.9,298.8 L246.2,297.6 L246.4,296.4 L246.7,295.2 L246.9,294.1 L247.2,292.9 L247.4,291.8 L247.7,290.7 L247.9,289.6 L248.2,288.5 L248.4,287.4 L248.6,286.4 L248.9,285.3 L249.1,284.3 L249.4,283.3 L249.6,282.3 L249.9,281.4 L250.1,280.5 L250.4,279.5 L250.6,278.7 L250.9,277.8 L251.1,277.0 L251.4,276.1 L251.6,275.3 L251.9,274.5 L252.1,273.8 L252.4,273.0 L252.6,272.3 L252.9,271.6 L253.1,270.9 L253.4,270.2 L253.6,269.6 L253.9,268.9 L254.1,268.3 L254.4,267.7 L254.6,267.2 L254.9,266.6 L255.1,266.1 L255.4,265.6 L255.6,265.1 L255.9,264.6 L256.1,264.1 L256.4,263.6 L256.6,263.2 L256.9,262.8 L257.1,262.4 L257.4,262.0 L257.6,261.6 L257.9,261.3 L258.1,260.9 L258.4,260.5 L258.6,260.2 L258.9,259.9 L259.1,259.5 L259.4,259.2 L259.6,258.9 L259.9,258.6 L260.1,258.4 L260.4,258.1 L260.6,257.8 L260.9,257.6 L261.1,257.4 L261.4,257.1 L261.6,256.9 L261.9,256.7 L262.1,256.4 L262.4,256.2 L262.6,256.0 L262.9,255.8 L263.1,255.7 L263.4,255.5 L263.6,255.4 L263.9,255.2 L264.1,255.2 L264.4,255.1 L264.6,255.0 L264.9,255.0 L265.1,255.0 L265.4,255.0 L265.6,255.1 L265.9,255.1 L266.1,255.2 L266.4,255.3 L266.6,255.4 L266.9,255.5 L267.1,255.7 L267.4,255.8 L267.6,256.0 L267.9,256.2 L268.1,256.4 L268.4,256.6 L268.6,256.9 L268.9,257.1 L269.1,257.4 L269.4,257.7 L269.6,258.0 L269.9,258.3 L270.1,258.7 L270.4,259.1 L270.6,259.4 L270.9,259.8 L271.1,260.3 L271.4,260.7 L271.6,261.1 L271.9,261.6 L272.1,262.1 L272.4,262.6 L272.6,263.1 L272.9,263.6 L273.1,264.1 L273.4,264.7 L273.6,265.2 L273.9,265.8 L274.1,266.4 L274.4,267.1 L274.6,267.7 L274.9,268.3 L275.1,269.0 L275.4,269.7 L275.6,270.4 L275.9,271.1 L276.1,271.9 L276.4,272.6 L276.6,273.4 L276.8,274.2 L277.1,275.0 L277.3,275.8 L277.6,276.6 L277.8,277.5 L278.1,278.3 L278.3,279.2 L278.6,280.1 L278.8,281.0 L279.1,282.0 L279.3,282.9 L279.6,283.9 L279.8,284.9 L280.1,285.9 L280.3,286.9 L280.6,287.9 L280.8,289.0 L281.1,290.0 L281.3,291.1 L281.6,292.2 L281.8,293.3 L282.1,294.4 L282.3,295.6 L282.6,296.7 L282.8,297.9 L283.1,299.1 L283.3,300.3 L283.6,301.5 L283.8,302.7 L284.1,303.9 L284.3,305.2 L284.6,306.5 L284.8,307.7 L285.1,309.0 L285.3,310.3 L285.6,311.7 L285.8,313.0 L286.1,314.4 L286.3,315.7 L286.6,317.1 L286.8,318.5 L287.1,320.0 L287.3,321.4 L287.6,322.8 L287.8,324.3 L288.1,325.8 L288.3,327.3 L288.6,328.8 L288.8,330.4 L289.1,331.9 L289.3,333.5 L289.6,335.0 L289.8,336.6 L290.1,338.2 L290.3,339.8 L290.6,341.5 L290.8,343.2 L291.1,344.9 L291.3,346.6 L291.6,348.3 L291.8,350.1 L292.1,351.9 L292.3,353.7 L292.6,355.5 L292.8,357.3 L293.1,359.1 L293.3,360.9 L293.6,362.8 L293.8,364.6 L294.1,366.4 L294.3,368.3 L294.6,370.1 L294.8,372.0 L295.1,373.8 L295.3,375.7 L295.6,377.5 L295.8,379.4 L296.1,381.2 L296.3,383.1 L296.6,384.9 L296.8,386.8 L297.1,388.6 L297.3,390.4 L297.6,392.3 L297.8,394.1 L298.1,395.9 L298.3,397.7 L298.6,399.6 L298.8,401.4 L299.1,403.2 L299.3,405.0 L299.6,406.7 L299.8,408.4 L300.1,410.0 L300.3,411.5 L300.6,413.0 L300.8,413.8 L301.1,414.4 L301.3,413.6 L301.6,412.7 L301.8,412.9 L302.1,411.7 L302.3,411.2 L302.6,411.1 L302.8,411.1 L303.1,410.8 L303.3,410.1 L303.6,409.2 L303.8,408.4 L304.1,407.3 L304.3,406.0 L304.6,404.4 L304.8,402.7 L305.1,400.9 L305.3,399.1 L305.5,397.2 L305.8,395.4 L306.0,393.5 L306.3,391.6 L306.5,389.7 L306.8,387.8 L307.0,385.8 L307.3,383.8 L307.5,381.8 L307.8,379.8 L308.0,377.8 L308.3,375.7 L308.5,373.7 L308.8,371.7 L309.0,369.8 L309.3,367.9 L309.5,366.0 L309.8,364.2 L310.0,362.3 L310.3,360.5 L310.5,358.7 L310.8,356.9 L311.0,355.1 L311.3,353.4 L311.5,351.7 L311.8,349.9 L312.0,348.3 L312.3,346.6 L312.5,344.9 L312.8,343.3 L313.0,341.6 L313.3,340.0 L313.5,338.4 L313.8,336.8 L314.0,335.3 L314.3,333.7 L314.5,332.2 L314.8,330.6 L315.0,329.1 L315.3,327.7 L315.5,326.2 L315.8,324.7 L316.0,323.3 L316.3,321.9 L316.5,320.5 L316.8,319.1 L317.0,317.8 L317.3,316.4 L317.5,315.1 L317.8,313.8 L318.0,312.4 L318.3,311.1 L318.5,309.8 L318.8,308.6 L319.0,307.3 L319.3,306.1 L319.5,304.8 L319.8,303.6 L320.0,302.4 L320.3,301.2 L320.5,300.0 L320.8,298.9 L321.0,297.7 L321.3,296.6 L321.5,295.5 L321.8,294.4 L322.0,293.3 L322.3,292.3 L322.5,291.2 L322.8,290.2 L323.0,289.2 L323.3,288.2 L323.5,287.2 L323.8,286.2 L324.0,285.3 L324.3,284.3 L324.5,283.4 L324.8,282.5 L325.0,281.6 L325.3,280.8 L325.5,279.9 L325.8,279.1 L326.0,278.2 L326.3,277.4 L326.5,276.6 L326.8,275.9 L327.0,275.1 L327.3,274.4 L327.5,273.7 L327.8,273.0 L328.0,272.3 L328.3,271.6 L328.5,271.0 L328.8,270.4 L329.0,269.8 L329.3,269.2 L329.5,268.7 L329.8,268.1 L330.0,267.6 L330.3,267.1 L330.5,266.6 L330.8,266.0 L331.0,265.6 L331.3,265.1 L331.5,264.6 L331.8,264.2 L332.0,263.7 L332.3,263.3 L332.5,262.9 L332.8,262.5 L333.0,262.1 L333.3,261.8 L333.5,261.4 L333.8,261.1 L334.0,260.7 L334.2,260.4 L334.5,260.1 L334.7,259.9 L335.0,259.6 L335.2,259.3 L335.5,259.1 L335.7,258.9 L336.0,258.6 L336.2,258.4 L336.5,258.3 L336.7,258.1 L337.0,257.9 L337.2,257.8 L337.5,257.6 L337.7,257.5 L338.0,257.4 L338.2,257.3 L338.5,257.2 L338.7,257.2 L339.0,257.1 L339.2,257.0 L339.5,257.0 L339.7,257.0 L340.0,257.0 L340.2,257.0 L340.5,257.0 L340.7,257.0 L341.0,257.1 L341.2,257.1 L341.5,257.2 L341.7,257.3 L342.0,257.5 L342.2,257.6 L342.5,257.7 L342.7,257.9 L343.0,258.1 L343.2,258.3 L343.5,258.5 L343.7,258.7 L344.0,259.0 L344.2,259.2 L344.5,259.5 L344.7,259.8 L345.0,260.2 L345.2,260.5 L345.5,260.9 L345.7,261.3 L346.0,261.7 L346.2,262.1 L346.5,262.5 L346.7,263.0 L347.0,263.5 L347.2,264.0 L347.5,264.5 L347.7,265.0 L348.0,265.5 L348.2,266.1 L348.5,266.7 L348.7,267.3 L349.0,267.9 L349.2,268.5 L349.5,269.1 L349.7,269.8 L350.0,270.4 L350.2,271.1 L350.5,271.8 L350.7,272.5 L351.0,273.2 L351.2,274.0 L351.5,274.7 L351.7,275.5 L352.0,276.3 L352.2,277.1 L352.5,277.9 L352.7,278.7 L353.0,279.5 L353.2,280.4 L353.5,281.3 L353.7,282.2 L354.0,283.1 L354.2,284.0 L354.5,284.9 L354.7,285.9 L355.0,286.9 L355.2,287.9 L355.5,288.9 L355.7,289.9 L356.0,290.9 L356.2,291.9 L356.5,293.0 L356.7,294.1 L357.0,295.2 L357.2,296.3 L357.5,297.4 L357.7,298.5 L358.0,299.7 L358.2,300.8 L358.5,302.0 L358.7,303.2 L359.0,304.4 L359.2,305.6 L359.5,306.8 L359.7,308.1 L360.0,309.3 L360.2,310.6 L360.5,311.8 L360.7,313.1 L361.0,314.4 L361.2,315.8 L361.5,317.1 L361.7,318.4 L362.0,319.8 L362.2,321.2 L362.4,322.6 L362.7,324.0 L362.9,325.5 L363.2,326.9 L363.4,328.4 L363.7,329.8 L363.9,331.3 L364.2,332.8 L364.4,334.3 L364.7,335.9 L364.9,337.4 L365.2,339.0 L365.4,340.5 L365.7,342.1 L365.9,343.7 L366.2,345.4 L366.4,347.0 L366.7,348.7 L366.9,350.5 L367.2,352.2 L367.4,354.0 L367.7,355.8 L367.9,357.6 L368.2,359.4 L368.4,361.2 L368.7,363.0 L368.9,364.8 L369.2,366.6 L369.4,368.4 L369.7,370.3 L369.9,372.0 L370.2,373.8 L370.4,375.6 L370.7,377.3 L370.9,379.1 L371.2,380.8 L371.4,382.5 L371.7,384.3 L371.9,386.1 L372.2,387.9 L372.4,389.7 L372.7,391.5 L372.9,393.3 L373.2,395.2 L373.4,397.1 L373.7,399.0 L373.9,400.9 L374.2,402.9 L374.4,405.0 L374.7,407.0 L374.9,408.9 L375.2,410.9 L375.4,412.9 L375.7,414.8 L375.9,416.3 L376.2,417.4 L376.4,411.8 L376.7,411.4 L376.9,410.9 L377.2,410.9 L377.4,411.0 L377.7,411.0 L377.9,410.7 L378.2,410.0 L378.4,409.1 L378.7,408.3 L378.9,407.2 L379.2,405.8 L379.4,404.2 L379.7,402.5 L379.9,400.7 L380.2,398.9 L380.4,397.0 L380.7,395.1 L380.9,393.3 L381.2,391.4 L381.4,389.5 L381.7,387.5 L381.9,385.6 L382.2,383.6 L382.4,381.6 L382.7,379.5 L382.9,377.5 L383.2,375.5 L383.4,373.5 L383.7,371.5 L383.9,369.6 L384.2,367.7 L384.4,365.8 L384.7,363.9 L384.9,362.1 L385.2,360.3 L385.4,358.5 L385.7,356.7 L385.9,354.9 L386.2,353.2 L386.4,351.4 L386.7,349.7 L386.9,348.1 L387.2,346.4 L387.4,344.7 L387.7,343.1 L387.9,341.4 L388.2,339.8 L388.4,338.2 L388.7,336.6 L388.9,335.1 L389.2,333.5 L389.4,332.0 L389.7,330.5 L389.9,329.0 L390.2,327.5 L390.4,326.0 L390.7,324.6 L390.9,323.1 L391.1,321.7 L391.4,320.3 L391.6,319.0 L391.9,317.6 L392.1,316.3 L392.4,314.9 L392.6,313.6 L392.9,312.3 L393.1,311.0 L393.4,309.7 L393.6,308.4 L393.9,307.1 L394.1,305.9 L394.4,304.7 L394.6,303.5 L394.9,302.3 L395.1,301.1 L395.4,299.9 L395.6,298.7 L395.9,297.6 L396.1,296.5 L396.4,295.4 L396.6,294.3 L396.9,293.2 L397.1,292.1 L397.4,291.1 L397.6,290.1 L397.9,289.1 L398.1,288.1 L398.4,287.1 L398.6,286.1 L398.9,285.2 L399.1,284.2 L399.4,283.3 L399.6,282.4 L399.9,281.5 L400.1,280.7 L400.4,279.8 L400.6,279.0 L400.9,278.1 L401.1,277.3 L401.4,276.6 L401.6,275.8 L401.9,275.0 L402.1,274.3 L402.4,273.6 L402.6,272.9 L402.9,272.2 L403.1,271.6 L403.4,270.9 L403.6,270.3 L403.9,269.7 L404.1,269.2 L404.4,268.6 L404.6,268.1 L404.9,267.5 L405.1,267.0 L405.4,266.5 L405.6,266.0 L405.9,265.5 L406.1,265.0 L406.4,264.5 L406.6,264.1 L406.9,263.7 L407.1,263.2 L407.4,262.8 L407.6,262.5 L407.9,262.1 L408.1,261.7 L408.4,261.4 L408.6,261.0 L408.9,260.7 L409.1,260.4 L409.4,260.1 L409.6,259.8 L409.9,259.5 L410.1,259.3 L410.4,259.1 L410.6,258.8 L410.9,258.6 L411.1,258.4 L411.4,258.2 L411.6,258.1 L411.9,257.9 L412.1,257.8 L412.4,257.6 L412.6,257.5 L412.9,257.4 L413.1,257.3 L413.4,257.2 L413.6,257.2 L413.9,257.1 L414.1,257.0 L414.4,257.0 L414.6,257.0 L414.9,257.0 L415.1,257.0 L415.4,257.0 L415.6,257.0 L415.9,257.1 L416.1,257.1 L416.4,257.2 L416.6,257.3 L416.9,257.5 L417.1,257.6 L417.4,257.8 L417.6,257.9 L417.9,258.1 L418.1,258.3 L418.4,258.5 L418.6,258.8 L418.9,259.0 L419.1,259.3 L419.3,259.6 L419.6,259.9 L419.8,260.2 L420.1,260.6 L420.3,260.9 L420.6,261.3 L420.8,261.7 L421.1,262.1 L421.3,262.6 L421.6,263.0 L421.8,263.5 L422.1,264.0 L422.3,264.5 L422.6,265.1 L422.8,265.6 L423.1,266.2 L423.3,266.7 L423.6,267.3 L423.8,267.9 L424.1,268.6 L424.3,269.2 L424.6,269.9 L424.8,270.5 L425.1,271.2 L425.3,271.9 L425.6,272.6 L425.8,273.3 L426.1,274.1 L426.3,274.8 L426.6,275.6 L426.8,276.4 L427.1,277.2 L427.3,278.0 L427.6,278.8 L427.8,279.6 L428.1,280.5 L428.3,281.4 L428.6,282.3 L428.8,283.2 L429.1,284.1 L429.3,285.1 L429.6,286.0 L429.8,287.0 L430.1,288.0 L430.3,289.0 L430.6,290.0 L430.8,291.0 L431.1,292.1 L431.3,293.1 L431.6,294.2 L431.8,295.3 L432.1,296.4 L432.3,297.5 L432.6,298.7 L432.8,299.8 L433.1,301.0 L433.3,302.2 L433.6,303.3 L433.8,304.5 L434.1,305.8 L434.3,307.0 L434.6,308.2 L434.8,309.5 L435.1,310.7 L435.3,312.0 L435.6,313.3 L435.8,314.6 L436.1,315.9 L436.3,317.3 L436.6,318.6 L436.8,320.0 L437.1,321.4 L437.3,322.8 L437.6,324.2 L437.8,325.6 L438.1,327.1 L438.3,328.6 L438.6,330.0 L438.8,331.5 L439.1,333.0 L439.3,334.5 L439.6,336.1 L439.8,337.6 L440.1,339.2 L440.3,340.7 L440.6,342.3 L440.8,343.9 L441.1,345.6 L441.3,347.3 L441.6,349.0 L441.8,350.7 L442.1,352.4 L442.3,354.2 L442.6,356.0 L442.8,357.8 L443.1,359.6 L443.3,361.4 L443.6,363.2 L443.8,365.0 L444.1,366.8 L444.3,368.7 L444.6,370.5 L444.8,372.3 L445.1,374.1 L445.3,375.8 L445.6,377.5 L445.8,379.3 L446.1,381.0 L446.3,382.8 L446.6,384.5 L446.8,386.3 L447.1,388.1 L447.3,389.9 L447.6,391.7 L447.8,393.6 L448.0,395.4 L448.3,397.3 L448.5,399.2 L448.8,401.2 L449.0,403.2 L449.3,405.2 L449.5,407.2 L449.8,409.2 L450.0,411.2 L450.3,413.1 L450.5,415.0 L450.8,416.5 L451.0,417.2 L451.3,412.2 L451.5,411.7 L451.8,411.2 L452.0,411.2 L452.3,411.2 L452.5,411.0 L452.8,410.6 L453.0,409.9 L453.3,409.0 L453.5,408.2 L453.8,407.0 L454.0,405.6 L454.3,404.0 L454.5,402.3 L454.8,400.5 L455.0,398.6 L455.3,396.8 L455.5,394.9 L455.8,393.0 L456.0,391.1 L456.3,389.2 L456.5,387.3 L456.8,385.3 L457.0,383.3 L457.3,381.3 L457.5,379.3 L457.8,377.2 L458.0,375.2 L458.3,373.2 L458.5,371.3 L458.8,369.3 L459.0,367.4 L459.3,365.6 L459.5,363.7 L459.8,361.9 L460.0,360.0 L460.3,358.2 L460.5,356.4 L460.8,354.7 L461.0,352.9 L461.3,351.2 L461.5,349.5 L461.8,347.8 L462.0,346.2 L462.3,344.5 L462.5,342.9 L462.8,341.2 L463.0,339.6 L463.3,338.0 L463.5,336.4 L463.8,334.9 L464.0,333.3 L464.3,331.8 L464.5,330.3 L464.8,328.8 L465.0,327.3 L465.3,325.8 L465.5,324.4 L465.8,323.0 L466.0,321.6 L466.3,320.2 L466.5,318.8 L466.8,317.4 L467.0,316.1 L467.3,314.7 L467.5,313.4 L467.8,312.1 L468.0,310.8 L468.3,309.5 L468.5,308.2 L468.8,307.0 L469.0,305.7 L469.3,304.5 L469.5,303.3 L469.8,302.1 L470.0,300.9 L470.3,299.8 L470.5,298.6 L470.8,297.5 L471.0,296.3 L471.3,295.2 L471.5,294.1 L471.8,293.1 L472.0,292.0 L472.3,291.0 L472.5,289.9 L472.8,288.9 L473.0,287.9 L473.3,287.0 L473.5,286.0 L473.8,285.0 L474.0,284.1 L474.3,283.2 L474.5,282.3 L474.8,281.4 L475.0,280.5 L475.3,279.7 L475.5,278.9 L475.8,278.0 L476.0,277.2 L476.3,276.5 L476.5,275.7 L476.7,274.9 L477.0,274.2 L477.2,273.5 L477.5,272.8 L477.7,272.1 L478.0,271.5 L478.2,270.8 L478.5,270.2 L478.7,269.7 L479.0,269.1 L479.2,268.5 L479.5,268.0 L479.7,267.5 L480.0,266.9 L480.2,266.4 L480.5,265.9 L480.7,265.4 L481.0,265.0 L481.2,264.5 L481.5,264.0 L481.7,263.6 L482.0,263.2 L482.2,262.8 L482.5,262.4 L482.7,262.0 L483.0,261.7 L483.2,261.3 L483.5,261.0 L483.7,260.7 L484.0,260.4 L484.2,260.1 L484.5,259.8 L484.7,259.5 L485.0,259.3 L485.2,259.0 L485.5,258.8 L485.7,258.6 L486.0,258.4 L486.2,258.2 L486.5,258.0 L486.7,257.9 L487.0,257.7 L487.2,257.6 L487.5,257.5 L487.7,257.4 L488.0,257.3 L488.2,257.2 L488.5,257.1 L488.7,257.1 L489.0,257.0 L489.2,257.0 L489.5,257.0 L489.7,257.0 L490.0,257.0 L490.2,257.0 L490.5,257.0 L490.7,257.1 L491.0,257.2 L491.2,257.2 L491.5,257.4 L491.7,257.5 L492.0,257.6 L492.2,257.8 L492.5,257.9 L492.7,258.1 L493.0,258.3 L493.2,258.5 L493.5,258.8 L493.7,259.0 L494.0,259.3 L494.2,259.6 L494.5,259.9 L494.7,260.3 L495.0,260.6 L495.2,261.0 L495.5,261.4 L495.7,261.8 L496.0,262.2 L496.2,262.6 L496.5,263.1 L496.7,263.6 L497.0,264.1 L497.2,264.6 L497.5,265.1 L497.7,265.7 L498.0,266.2 L498.2,266.8 L498.5,267.4 L498.7,268.0 L499.0,268.6 L499.2,269.3 L499.5,269.9 L499.7,270.6 L500.0,271.3 L500.2,272.0 L500.5,272.7 L500.7,273.4 L501.0,274.2 L501.2,274.9 L501.5,275.7 L501.7,276.5 L502.0,277.3 L502.2,278.1 L502.5,278.9 L502.7,279.7 L503.0,280.6 L503.2,281.5 L503.5,282.4 L503.7,283.3 L504.0,284.2 L504.2,285.2 L504.5,286.1 L504.7,287.1 L504.9,288.1 L505.2,289.1 L505.4,290.1 L505.7,291.2 L505.9,292.2 L506.2,293.3 L506.4,294.4 L506.7,295.4 L506.9,296.6 L507.2,297.7 L507.4,298.8 L507.7,300.0 L507.9,301.1 L508.2,302.3 L508.4,303.5 L508.7,304.7 L508.9,305.9 L509.2,307.1 L509.4,308.4 L509.7,309.6 L509.9,310.9 L510.2,312.2 L510.4,313.5 L510.7,314.8 L510.9,316.1 L511.2,317.4 L511.4,318.8 L511.7,320.2 L511.9,321.6 L512.2,323.0 L512.4,324.4 L512.7,325.8 L512.9,327.3 L513.2,328.7 L513.4,330.2 L513.7,331.7 L513.9,333.2 L514.2,334.7 L514.4,336.2 L514.7,337.8 L514.9,339.4 L515.2,340.9 L515.4,342.5 L515.7,344.1 L515.9,345.8 L516.2,347.5 L516.4,349.2 L516.7,350.9 L516.9,352.7 L517.2,354.4 L517.4,356.2 L517.7,358.0 L517.9,359.8 L518.2,361.6 L518.4,363.4 L518.7,365.2 L518.9,367.1 L519.2,368.9 L519.4,370.7 L519.7,372.5 L519.9,374.3 L520.2,376.0 L520.4,377.8 L520.7,379.5 L520.9,381.2 L521.2,383.0 L521.4,384.7 L521.7,386.5 L521.9,388.3 L522.2,390.1 L522.4,392.0 L522.7,393.8 L522.9,395.7 L523.2,397.6 L523.4,399.5 L523.7,401.4 L523.9,403.4 L524.2,405.5 L524.4,407.5 L524.7,409.4 L524.9,411.4 L525.2,413.4 L525.4,415.2 L525.7,416.6 L525.9,417.2 L526.2,412.3 L526.4,411.6 L526.7,411.2 L526.9,411.2 L527.2,411.2 L527.4,411.0 L527.7,410.5 L527.9,409.8 L528.2,408.9 L528.4,408.1 L528.7,406.9 L528.9,405.4 L529.2,403.8 L529.4,402.0 L529.7,400.2 L529.9,398.4 L530.2,396.5 L530.4,394.7 L530.7,392.8 L530.9,390.9 L531.2,389.0 L531.4,387.1 L531.7,385.1 L531.9,383.1 L532.2,381.1 L532.4,379.0 L532.7,377.0 L532.9,375.0 L533.2,373.0 L533.4,371.0 L533.6,369.1 L533.9,367.2 L534.1,365.3 L534.4,363.5 L534.6,361.6 L534.9,359.8 L535.1,358.0 L535.4,356.2 L535.6,354.5 L535.9,352.7 L536.1,351.0 L536.4,349.3 L536.6,347.6 L536.9,346.0 L537.1,344.3 L537.4,342.7 L537.6,341.0 L537.9,339.4 L538.1,337.8 L538.4,336.2 L538.6,334.7 L538.9,333.1 L539.1,331.6 L539.4,330.1 L539.6,328.6 L539.9,327.1 L540.1,325.7 L540.4,324.2 L540.6,322.8 L540.9,321.4 L541.1,320.0 L541.4,318.6 L541.6,317.3 L541.9,315.9 L542.1,314.6 L542.4,313.3 L542.6,311.9 L542.9,310.6 L543.1,309.4 L543.4,308.1 L543.6,306.8 L543.9,305.6 L544.1,304.4 L544.4,303.2 L544.6,302.0 L544.9,300.8 L545.1,299.6 L545.4,298.5 L545.6,297.3 L545.9,296.2 L546.1,295.1 L546.4,294.0 L546.6,292.9 L546.9,291.9 L547.1,290.8 L547.4,289.8 L547.6,288.8 L547.9,287.8 L548.1,286.8 L548.4,285.9 L548.6,284.9 L548.9,284.0 L549.1,283.1 L549.4,282.2 L549.6,281.3 L549.9,280.4 L550.1,279.6 L550.4,278.8 L550.6,277.9 L550.9,277.1 L551.1,276.4 L551.4,275.6 L551.6,274.8 L551.9,274.1 L552.1,273.4 L552.4,272.7 L552.6,272.0 L552.9,271.4 L553.1,270.8 L553.4,270.2 L553.6,269.6 L553.9,269.0 L554.1,268.5 L554.4,267.9 L554.6,267.4 L554.9,266.9 L555.1,266.4 L555.4,265.9 L555.6,265.4 L555.9,264.9 L556.1,264.4 L556.4,264.0 L556.6,263.6 L556.9,263.1 L557.1,262.7 L557.4,262.4 L557.6,262.0 L557.9,261.6 L558.1,261.3 L558.4,260.9 L558.6,260.6 L558.9,260.3 L559.1,260.0 L559.4,259.8 L559.6,259.5 L559.9,259.2 L560.1,259.0 L560.4,258.8 L560.6,258.6 L560.9,258.4 L561.1,258.2 L561.4,258.0 L561.6,257.9 L561.9,257.7 L562.1,257.6 L562.3,257.5 L562.6,257.4 L562.8,257.3 L563.1,257.2 L563.3,257.1 L563.6,257.1 L563.8,257.0 L564.1,257.0 L564.3,257.0 L564.6,257.0 L564.8,257.0 L565.1,257.0 L565.3,257.0 L565.6,257.1 L565.8,257.2 L566.1,257.3 L566.3,257.4 L566.6,257.5 L566.8,257.6 L567.1,257.8 L567.3,258.0 L567.6,258.2 L567.8,258.4 L568.1,258.6 L568.3,258.8 L568.6,259.1 L568.8,259.4 L569.1,259.6 L569.3,260.0 L569.6,260.3 L569.8,260.7 L570.1,261.0 L570.3,261.4 L570.6,261.8 L570.8,262.3 L571.1,262.7 L571.3,263.2 L571.6,263.6 L571.8,264.1 L572.1,264.7 L572.3,265.2 L572.6,265.7 L572.8,266.3 L573.1,266.9 L573.3,267.5 L573.6,268.1 L573.8,268.7 L574.1,269.4 L574.3,270.0 L574.6,270.7 L574.8,271.4 L575.1,272.1 L575.3,272.8 L575.6,273.5 L575.8,274.2 L576.1,275.0 L576.3,275.8 L576.6,276.6 L576.8,277.4 L577.1,278.2 L577.3,279.0 L577.6,279.9 L577.8,280.7 L578.1,281.6 L578.3,282.5 L578.6,283.4 L578.8,284.3 L579.1,285.3 L579.3,286.3 L579.6,287.2 L579.8,288.2 L580.1,289.2 L580.3,290.3 L580.6,291.3 L580.8,292.3 L581.1,293.4 L581.3,294.5 L581.6,295.6 L581.8,296.7 L582.1,297.8 L582.3,299.0 L582.6,300.1 L582.8,301.3 L583.1,302.5 L583.3,303.6 L583.6,304.8 L583.8,306.1 L584.1,307.3 L584.3,308.5 L584.6,309.8 L584.8,311.0 L585.1,312.3 L585.3,313.6 L585.6,314.9 L585.8,316.3 L586.1,317.6 L586.3,319.0 L586.6,320.3 L586.8,321.7 L587.1,323.1 L587.3,324.6 L587.6,326.0 L587.8,327.5 L588.1,328.9 L588.3,330.4 L588.6,331.9 L588.8,333.4 L589.1,334.9 L589.3,336.4 L589.6,338.0 L589.8,339.5 L590.1,341.1 L590.3,342.7 L590.5,344.4 L590.8,346.0 L591.0,347.7 L591.3,349.4 L591.5,351.1 L591.8,352.9 L592.0,354.7 L592.3,356.5 L592.5,358.2 L592.8,360.0 L593.0,361.8 L593.3,363.6 L593.5,365.5 L593.8,367.3 L594.0,369.1 L594.3,370.9 L594.5,372.7 L594.8,374.5 L595.0,376.2 L595.3,378.0 L595.5,379.7 L595.8,381.5 L596.0,383.2 L596.3,385.0 L596.5,386.7 L596.8,388.5 L597.0,390.3 L597.3,392.2 L597.5,394.0 L597.8,395.9 L598.0,397.8 L598.3,399.7 L598.5,401.7 L598.8,403.7 L599.0,405.7 L599.3,407.7 L599.5,409.7 L599.8,411.7 L600.0,413.6 L600.3,415.4 L600.5,416.8 L600.8,417.1 L601.0,412.4 L601.3,411.5 L601.5,411.1 L601.8,411.2 L602.0,411.2 L602.3,411.0 L602.5,410.4 L602.8,409.7 L603.0,408.8 L603.3,407.9 L603.5,406.7 L603.8,405.2 L604.0,403.6 L604.3,401.8 L604.5,400.0 L604.8,398.2 L605.0,396.3 L605.3,394.4 L605.5,392.6 L605.8,390.7 L606.0,388.7 L606.3,386.8 L606.5,384.8 L606.8,382.8 L607.0,380.8 L607.3,378.8 L607.5,376.7 L607.8,374.7 L608.0,372.7 L608.3,370.8 L608.5,368.9 L608.8,367.0 L609.0,365.1 L609.3,363.2 L609.5,361.4 L609.8,359.6 L610.0,357.8 L610.3,356.0 L610.5,354.2 L610.8,352.5 L611.0,350.8 L611.3,349.1 L611.5,347.4 L611.8,345.8 L612.0,344.1 L612.3,342.5 L612.5,340.8 L612.8,339.2 L613.0,337.6 L613.3,336.0 L613.5,334.5 L613.8,332.9 L614.0,331.4 L614.3,329.9 L614.5,328.4 L614.8,326.9 L615.0,325.5 L615.3,324.0 L615.5,322.6 L615.8,321.2 L616.0,319.8 L616.3,318.5 L616.5,317.1 L616.8,315.7 L617.0,314.4 L617.3,313.1 L617.5,311.8 L617.8,310.5 L618.0,309.2 L618.3,307.9 L618.5,306.7 L618.8,305.4 L619.0,304.2 L619.2,303.0 L619.5,301.8 L619.7,300.6 L620.0,299.5 L620.2,298.3 L620.5,297.2 L620.7,296.1 L621.0,295.0 L621.2,293.9 L621.5,292.8 L621.7,291.7 L622.0,290.7 L622.2,289.7 L622.5,288.7 L622.7,287.7 L623.0,286.7 L623.2,285.8 L623.5,284.8 L623.7,283.9 L624.0,283.0 L624.2,282.1 L624.5,281.2 L624.7,280.3 L625.0,279.5 L625.2,278.7 L625.5,277.8 L625.7,277.0 L626.0,276.3 L626.2,275.5 L626.5,274.8 L626.7,274.0 L627.0,273.3 L627.2,272.6 L627.5,272.0 L627.7,271.3 L628.0,270.7 L628.2,270.1 L628.5,269.5 L628.7,268.9 L629.0,268.4 L629.2,267.9 L629.5,267.3 L629.7,266.8 L630.0,266.3 L630.2,265.8 L630.5,265.3 L630.7,264.8 L631.0,264.4 L631.2,263.9 L631.5,263.5 L631.7,263.1 L632.0,262.7 L632.2,262.3 L632.5,261.9 L632.7,261.6 L633.0,261.2 L633.2,260.9 L633.5,260.6 L633.7,260.3 L634.0,260.0 L634.2,259.7 L634.5,259.4 L634.7,259.2 L635.0,259.0 L635.2,258.7 L635.5,258.5 L635.7,258.3 L636.0,258.2 L636.2,258.0 L636.5,257.8 L636.7,257.7 L637.0,257.6 L637.2,257.5 L637.5,257.4 L637.7,257.3 L638.0,257.2 L638.2,257.1 L638.5,257.1 L638.7,257.0 L639.0,257.0 L639.2,257.0 L639.5,257.0 L639.7,257.0 L640.0,257.0 L640.2,257.0 L640.5,257.1 L640.7,257.2 L641.0,257.3 L641.2,257.4 L641.5,257.5 L641.7,257.7 L642.0,257.8 L642.2,258.0 L642.5,258.2 L642.7,258.4 L643.0,258.6 L643.2,258.8 L643.5,259.1 L643.7,259.4 L644.0,259.7 L644.2,260.0 L644.5,260.3 L644.7,260.7 L645.0,261.1 L645.2,261.5 L645.5,261.9 L645.7,262.3 L646.0,262.8 L646.2,263.2 L646.5,263.7 L646.7,264.2 L647.0,264.7 L647.2,265.3 L647.4,265.8 L647.7,266.4 L647.9,267.0 L648.2,267.6 L648.4,268.2 L648.7,268.8 L648.9,269.4 L649.2,270.1 L649.4,270.8 L649.7,271.5 L649.9,272.2 L650.2,272.9 L650.4,273.6 L650.7,274.3 L650.9,275.1 L651.2,275.9 L651.4,276.7 L651.7,277.5 L651.9,278.3 L652.2,279.1 L652.4,280.0 L652.7,280.8 L652.9,281.7 L653.2,282.6 L653.4,283.5 L653.7,284.5 L653.9,285.4 L654.2,286.4 L654.4,287.4 L654.7,288.4 L654.9,289.4 L655.2,290.4 L655.4,291.4 L655.7,292.5 L655.9,293.5 L656.2,294.6 L656.4,295.7 L656.7,296.8 L656.9,298.0 L657.2,299.1 L657.4,300.3 L657.7,301.4 L657.9,302.6 L658.2,303.8 L658.4,305.0 L658.7,306.2 L658.9,307.4 L659.2,308.7 L659.4,309.9 L659.7,311.2 L659.9,312.5 L660.2,313.8 L660.4,315.1 L660.7,316.4 L660.9,317.8 L661.2,319.1 L661.4,320.5 L661.7,321.9 L661.9,323.3 L662.2,324.7 L662.4,326.2 L662.7,327.6 L662.9,329.1 L663.2,330.6 L663.4,332.1 L663.7,333.6 L663.9,335.1 L664.2,336.6 L664.4,338.2 L664.7,339.7 L664.9,341.3 L665.2,342.9 L665.4,344.6 L665.7,346.2 L665.9,347.9 L666.2,349.6 L666.4,351.3 L666.7,353.1 L666.9,354.9 L667.2,356.7 L667.4,358.5 L667.7,360.3 L667.9,362.1 L668.2,363.9 L668.4,365.7 L668.7,367.5 L668.9,369.3 L669.2,371.1 L669.4,372.9 L669.7,374.7 L669.9,376.5 L670.2,378.2 L670.4,379.9 L670.7,381.7 L670.9,383.4 L671.2,385.2 L671.4,387.0 L671.7,388.8 L671.9,390.6 L672.2,392.4 L672.4,394.3 L672.7,396.1 L672.9,398.0 L673.2,400.0 L673.4,401.9 L673.7,403.9 L673.9,406.0 L674.2,408.0 L674.4,409.9 L674.7,411.9 L674.9,413.8 L675.2,415.7 L675.4,417.1 L675.7,415.9 L675.9,417.7" stroke="#f28a1e" stroke-width="2.3" stroke-dasharray="0.1,4" stroke-linecap="round"/>
<path d="M77.2,423.8 L77.4,421.4 L77.7,419.1 L77.9,416.7 L78.2,414.1 L78.4,411.3 L78.7,409.0 L78.9,407.1 L79.2,405.4 L79.4,403.7 L79.7,402.1 L79.9,400.5 L80.2,398.9 L80.4,397.3 L80.7,395.9 L80.9,394.5 L81.2,393.3 L81.4,392.1 L81.7,391.0 L81.9,389.6 L82.2,388.2 L82.4,386.8 L82.7,385.3 L82.9,383.8 L83.2,382.2 L83.4,380.5 L83.7,378.5 L83.9,376.3 L84.2,374.1 L84.4,372.0 L84.7,370.0 L84.9,368.0 L85.2,366.1 L85.4,364.3 L85.7,362.5 L85.9,360.8 L86.2,359.1 L86.4,357.5 L86.7,355.9 L86.9,354.3 L87.2,352.8 L87.4,351.2 L87.7,349.6 L87.9,348.1 L88.2,346.6 L88.4,345.0 L88.7,343.5 L88.9,342.0 L89.2,340.4 L89.4,338.9 L89.7,337.3 L89.9,335.8 L90.2,334.3 L90.4,332.8 L90.7,331.2 L90.9,329.8 L91.2,328.3 L91.4,326.9 L91.7,325.5 L91.9,324.2 L92.2,323.0 L92.4,322.0 L92.7,321.2 L92.9,320.5 L93.2,319.5 L93.4,318.6 L93.7,317.7 L93.9,316.8 L94.2,315.9 L94.4,315.0 L94.7,314.1 L94.9,313.2 L95.2,312.4 L95.4,311.5 L95.7,310.6 L95.9,309.7 L96.2,308.6 L96.4,307.5 L96.7,306.3 L96.9,305.1 L97.2,303.8 L97.4,302.5 L97.7,301.3 L97.9,300.0 L98.2,298.8 L98.4,297.6 L98.7,296.5 L98.9,295.3 L99.2,294.2 L99.4,293.1 L99.7,292.0 L99.9,290.9 L100.2,289.9 L100.4,289.0 L100.7,288.0 L100.9,287.1 L101.2,286.2 L101.4,285.3 L101.7,284.4 L101.9,283.6 L102.2,282.6 L102.4,281.7 L102.7,280.8 L102.9,279.8 L103.2,278.9 L103.4,277.9 L103.7,277.0 L103.9,276.2 L104.2,275.4 L104.4,274.7 L104.7,274.0 L104.9,273.4 L105.2,272.7 L105.4,272.1 L105.7,271.5 L105.9,270.9 L106.1,270.2 L106.4,269.6 L106.6,268.9 L106.9,268.3 L107.1,267.6 L107.4,267.0 L107.6,266.3 L107.9,265.7 L108.1,265.1 L108.4,264.5 L108.6,264.0 L108.9,263.4 L109.1,262.8 L109.4,262.3 L109.6,261.8 L109.9,261.2 L110.1,260.7 L110.4,260.3 L110.6,259.8 L110.9,259.4 L111.1,259.0 L111.4,258.6 L111.6,258.2 L111.9,257.9 L112.1,257.5 L112.4,257.3 L112.6,257.0 L112.9,256.7 L113.1,256.5 L113.4,256.3 L113.6,256.1 L113.9,256.0 L114.1,255.8 L114.4,255.7 L114.6,255.6 L114.9,255.5 L115.1,255.5 L115.4,255.5 L115.6,255.4 L115.9,255.4 L116.1,255.5 L116.4,255.5 L116.6,255.6 L116.9,255.6 L117.1,255.7 L117.4,255.9 L117.6,256.0 L117.9,256.1 L118.1,256.3 L118.4,256.5 L118.6,256.7 L118.9,256.9 L119.1,257.2 L119.4,257.4 L119.6,257.7 L119.9,258.0 L120.1,258.3 L120.4,258.6 L120.6,258.9 L120.9,259.3 L121.1,259.6 L121.4,260.0 L121.6,260.4 L121.9,260.8 L122.1,261.3 L122.4,261.7 L122.6,262.2 L122.9,262.7 L123.1,263.2 L123.4,263.7 L123.6,264.2 L123.9,264.8 L124.1,265.4 L124.4,266.0 L124.6,266.6 L124.9,267.2 L125.1,267.8 L125.4,268.5 L125.6,269.2 L125.9,269.9 L126.1,270.6 L126.4,271.3 L126.6,272.1 L126.9,272.9 L127.1,273.6 L127.4,274.4 L127.6,275.3 L127.9,276.1 L128.1,277.0 L128.4,277.8 L128.6,278.7 L128.9,279.6 L129.1,280.5 L129.4,281.4 L129.6,282.4 L129.9,283.4 L130.1,284.3 L130.4,285.3 L130.6,286.3 L130.9,287.4 L131.1,288.4 L131.4,289.5 L131.6,290.5 L131.9,291.6 L132.1,292.7 L132.4,293.8 L132.6,295.0 L132.9,296.1 L133.1,297.3 L133.4,298.4 L133.6,299.6 L133.9,300.8 L134.1,302.1 L134.3,303.3 L134.6,304.5 L134.8,305.8 L135.1,307.0 L135.3,308.3 L135.6,309.6 L135.8,310.9 L136.1,312.2 L136.3,313.6 L136.6,314.9 L136.8,316.3 L137.1,317.6 L137.3,319.0 L137.6,320.4 L137.8,321.8 L138.1,323.2 L138.3,324.6 L138.6,326.1 L138.8,327.5 L139.1,329.0 L139.3,330.4 L139.6,331.9 L139.8,333.4 L140.1,334.9 L140.3,336.4 L140.6,337.9 L140.8,339.5 L141.1,341.0 L141.3,342.6 L141.6,344.1 L141.8,345.7 L142.1,347.3 L142.3,348.9 L142.6,350.5 L142.8,352.1 L143.1,353.8 L143.3,355.4 L143.6,357.1 L143.8,358.8 L144.1,360.5 L144.3,362.2 L144.6,363.9 L144.8,365.6 L145.1,367.3 L145.3,369.0 L145.6,370.7 L145.8,372.4 L146.1,374.1 L146.3,375.8 L146.6,377.4 L146.8,379.1 L147.1,380.8 L147.3,382.4 L147.6,384.1 L147.8,385.8 L148.1,387.4 L148.3,389.1 L148.6,390.8 L148.8,392.5 L149.1,394.2 L149.3,395.8 L149.6,397.5 L149.8,399.1 L150.1,400.7 L150.3,402.2 L150.6,403.2 L150.8,402.6 L151.1,404.1 L151.3,405.8 L151.6,407.5 L151.8,409.3 L152.1,410.7 L152.3,409.0 L152.6,407.6 L152.8,406.2 L153.1,404.8 L153.3,404.2 L153.6,404.6 L153.8,411.9 L154.1,412.6 L154.3,412.3 L154.6,412.1 L154.8,411.9 L155.1,411.6 L155.3,411.2 L155.6,410.8 L155.8,410.3 L156.1,409.7 L156.3,408.9 L156.6,408.0 L156.8,406.7 L157.1,405.2 L157.3,403.0 L157.6,400.2 L157.8,396.8 L158.1,393.2 L158.3,389.9 L158.6,387.0 L158.8,384.5 L159.1,382.1 L159.3,379.7 L159.6,377.2 L159.8,374.5 L160.1,372.1 L160.3,369.9 L160.6,367.8 L160.8,365.8 L161.1,363.9 L161.3,361.9 L161.6,360.0 L161.8,358.2 L162.1,356.3 L162.3,354.5 L162.6,352.7 L162.8,350.9 L163.0,349.1 L163.3,347.3 L163.5,345.6 L163.8,343.9 L164.0,342.2 L164.3,340.5 L164.5,338.8 L164.8,337.1 L165.0,335.5 L165.3,333.9 L165.5,332.3 L165.8,330.7 L166.0,329.1 L166.3,327.5 L166.5,326.0 L166.8,324.5 L167.0,322.9 L167.3,321.4 L167.5,319.9 L167.8,318.5 L168.0,317.0 L168.3,315.6 L168.5,314.1 L168.8,312.7 L169.0,311.3 L169.3,309.9 L169.5,308.6 L169.8,307.2 L170.0,305.9 L170.3,304.5 L170.5,303.2 L170.8,301.9 L171.0,300.6 L171.3,299.4 L171.5,298.1 L171.8,296.9 L172.0,295.7 L172.3,294.5 L172.5,293.3 L172.8,292.1 L173.0,290.9 L173.3,289.8 L173.5,288.6 L173.8,287.5 L174.0,286.4 L174.3,285.3 L174.5,284.3 L174.8,283.2 L175.0,282.2 L175.3,281.2 L175.5,280.1 L175.8,279.2 L176.0,278.2 L176.3,277.2 L176.5,276.3 L176.8,275.4 L177.0,274.5 L177.3,273.6 L177.5,272.8 L177.8,271.9 L178.0,271.1 L178.3,270.3 L178.5,269.6 L178.8,268.8 L179.0,268.2 L179.3,267.5 L179.5,266.8 L179.8,266.2 L180.0,265.5 L180.3,264.9 L180.5,264.3 L180.8,263.8 L181.0,263.2 L181.3,262.7 L181.5,262.1 L181.8,261.6 L182.0,261.1 L182.3,260.6 L182.5,260.2 L182.8,259.7 L183.0,259.3 L183.3,258.9 L183.5,258.5 L183.8,258.1 L184.0,257.7 L184.3,257.4 L184.5,257.0 L184.8,256.7 L185.0,256.4 L185.3,256.1 L185.5,255.8 L185.8,255.6 L186.0,255.3 L186.3,255.1 L186.5,254.9 L186.8,254.7 L187.0,254.5 L187.3,254.4 L187.5,254.2 L187.8,254.1 L188.0,254.0 L188.3,253.9 L188.5,253.8 L188.8,253.8 L189.0,253.8 L189.3,253.7 L189.5,253.7 L189.8,253.7 L190.0,253.8 L190.3,253.8 L190.5,253.9 L190.8,254.0 L191.0,254.0 L191.2,254.2 L191.5,254.3 L191.7,254.4 L192.0,254.6 L192.2,254.8 L192.5,255.0 L192.7,255.2 L193.0,255.4 L193.2,255.7 L193.5,255.9 L193.7,256.2 L194.0,256.5 L194.2,256.9 L194.5,257.2 L194.7,257.5 L195.0,257.9 L195.2,258.3 L195.5,258.7 L195.7,259.1 L196.0,259.6 L196.2,260.0 L196.5,260.5 L196.7,261.0 L197.0,261.5 L197.2,262.0 L197.5,262.6 L197.7,263.1 L198.0,263.7 L198.2,264.3 L198.5,264.9 L198.7,265.6 L199.0,266.2 L199.2,266.9 L199.5,267.5 L199.7,268.2 L200.0,268.9 L200.2,269.7 L200.5,270.4 L200.7,271.2 L201.0,271.9 L201.2,272.7 L201.5,273.5 L201.7,274.3 L202.0,275.2 L202.2,276.0 L202.5,276.9 L202.7,277.8 L203.0,278.7 L203.2,279.6 L203.5,280.5 L203.7,281.4 L204.0,282.4 L204.2,283.4 L204.5,284.4 L204.7,285.4 L205.0,286.4 L205.2,287.4 L205.5,288.5 L205.7,289.5 L206.0,290.6 L206.2,291.7 L206.5,292.8 L206.7,294.0 L207.0,295.1 L207.2,296.3 L207.5,297.4 L207.7,298.6 L208.0,299.8 L208.2,301.0 L208.5,302.3 L208.7,303.5 L209.0,304.8 L209.2,306.0 L209.5,307.3 L209.7,308.6 L210.0,309.9 L210.2,311.3 L210.5,312.6 L210.7,313.9 L211.0,315.3 L211.2,316.7 L211.5,318.1 L211.7,319.5 L212.0,320.9 L212.2,322.3 L212.5,323.8 L212.7,325.2 L213.0,326.7 L213.2,328.2 L213.5,329.7 L213.7,331.2 L214.0,332.7 L214.2,334.3 L214.5,335.8 L214.7,337.4 L215.0,339.0 L215.2,340.6 L215.5,342.2 L215.7,343.9 L216.0,345.5 L216.2,347.2 L216.5,348.9 L216.7,350.5 L217.0,352.3 L217.2,354.0 L217.5,355.7 L217.7,357.4 L218.0,359.2 L218.2,360.9 L218.5,362.7 L218.7,364.5 L219.0,366.2 L219.2,368.0 L219.5,369.8 L219.7,371.6 L219.9,373.5 L220.2,375.3 L220.4,377.2 L220.7,379.0 L220.9,380.9 L221.2,382.7 L221.4,384.5 L221.7,386.3 L221.9,388.1 L222.2,389.9 L222.4,391.7 L222.7,393.5 L222.9,395.3 L223.2,397.1 L223.4,398.9 L223.7,400.6 L223.9,402.4 L224.2,404.1 L224.4,405.9 L224.7,407.5 L224.9,409.1 L225.2,410.7 L225.4,412.0 L225.7,413.3 L225.9,414.3 L226.2,415.3 L226.4,416.2 L226.7,417.4 L226.9,418.2 L227.2,416.7 L227.4,415.9 L227.7,415.3 L227.9,414.4 L228.2,413.1 L228.4,411.7 L228.7,410.2 L228.9,408.7 L229.2,407.1 L229.4,405.6 L229.7,404.0 L229.9,402.3 L230.2,400.6 L230.4,398.9 L230.7,397.2 L230.9,395.4 L231.2,393.6 L231.4,391.9 L231.7,390.1 L231.9,388.3 L232.2,386.5 L232.4,384.7 L232.7,382.9 L232.9,381.1 L233.2,379.3 L233.4,377.5 L233.7,375.6 L233.9,373.8 L234.2,371.9 L234.4,370.0 L234.7,368.2 L234.9,366.4 L235.2,364.6 L235.4,362.8 L235.7,361.1 L235.9,359.3 L236.2,357.6 L236.4,355.9 L236.7,354.2 L236.9,352.5 L237.2,350.8 L237.4,349.2 L237.7,347.5 L237.9,345.9 L238.2,344.3 L238.4,342.7 L238.7,341.1 L238.9,339.5 L239.2,337.9 L239.4,336.4 L239.7,334.9 L239.9,333.3 L240.2,331.8 L240.4,330.3 L240.7,328.9 L240.9,327.4 L241.2,325.9 L241.4,324.5 L241.7,323.0 L241.9,321.6 L242.2,320.2 L242.4,318.8 L242.7,317.4 L242.9,316.0 L243.2,314.7 L243.4,313.3 L243.7,312.0 L243.9,310.6 L244.2,309.3 L244.4,308.0 L244.7,306.7 L244.9,305.5 L245.2,304.2 L245.4,303.0 L245.7,301.7 L245.9,300.5 L246.2,299.3 L246.4,298.1 L246.7,296.9 L246.9,295.8 L247.2,294.6 L247.4,293.5 L247.7,292.4 L247.9,291.3 L248.2,290.2 L248.4,289.1 L248.6,288.1 L248.9,287.0 L249.1,286.0 L249.4,285.0 L249.6,284.0 L249.9,283.0 L250.1,282.1 L250.4,281.1 L250.6,280.2 L250.9,279.3 L251.1,278.4 L251.4,277.5 L251.6,276.7 L251.9,275.8 L252.1,275.0 L252.4,274.2 L252.6,273.4 L252.9,272.6 L253.1,271.9 L253.4,271.1 L253.6,270.4 L253.9,269.7 L254.1,269.0 L254.4,268.4 L254.6,267.7 L254.9,267.1 L255.1,266.5 L255.4,265.9 L255.6,265.3 L255.9,264.7 L256.1,264.2 L256.4,263.7 L256.6,263.1 L256.9,262.7 L257.1,262.2 L257.4,261.7 L257.6,261.3 L257.9,260.8 L258.1,260.4 L258.4,260.0 L258.6,259.6 L258.9,259.2 L259.1,258.9 L259.4,258.5 L259.6,258.2 L259.9,257.9 L260.1,257.6 L260.4,257.3 L260.6,257.1 L260.9,256.8 L261.1,256.6 L261.4,256.4 L261.6,256.2 L261.9,256.0 L262.1,255.8 L262.4,255.6 L262.6,255.5 L262.9,255.4 L263.1,255.3 L263.4,255.2 L263.6,255.1 L263.9,255.0 L264.1,255.0 L264.4,255.0 L264.6,255.0 L264.9,255.0 L265.1,255.0 L265.4,255.0 L265.6,255.1 L265.9,255.1 L266.1,255.2 L266.4,255.3 L266.6,255.5 L266.9,255.6 L267.1,255.8 L267.4,256.0 L267.6,256.2 L267.9,256.4 L268.1,256.6 L268.4,256.8 L268.6,257.1 L268.9,257.4 L269.1,257.7 L269.4,258.0 L269.6,258.3 L269.9,258.7 L270.1,259.1 L270.4,259.4 L270.6,259.8 L270.9,260.3 L271.1,260.7 L271.4,261.1 L271.6,261.6 L271.9,262.1 L272.1,262.6 L272.4,263.1 L272.6,263.7 L272.9,264.2 L273.1,264.8 L273.4,265.4 L273.6,266.0 L273.9,266.7 L274.1,267.3 L274.4,268.0 L274.6,268.7 L274.9,269.4 L275.1,270.1 L275.4,270.8 L275.6,271.6 L275.9,272.3 L276.1,273.1 L276.4,273.9 L276.6,274.7 L276.8,275.6 L277.1,276.4 L277.3,277.3 L277.6,278.2 L277.8,279.1 L278.1,280.0 L278.3,280.9 L278.6,281.9 L278.8,282.8 L279.1,283.8 L279.3,284.8 L279.6,285.8 L279.8,286.8 L280.1,287.9 L280.3,288.9 L280.6,290.0 L280.8,291.1 L281.1,292.2 L281.3,293.3 L281.6,294.4 L281.8,295.6 L282.1,296.7 L282.3,297.9 L282.6,299.1 L282.8,300.3 L283.1,301.5 L283.3,302.7 L283.6,303.9 L283.8,305.2 L284.1,306.4 L284.3,307.7 L284.6,309.0 L284.8,310.3 L285.1,311.6 L285.3,313.0 L285.6,314.3 L285.8,315.7 L286.1,317.0 L286.3,318.4 L286.6,319.8 L286.8,321.2 L287.1,322.7 L287.3,324.1 L287.6,325.6 L287.8,327.0 L288.1,328.5 L288.3,330.0 L288.6,331.5 L288.8,333.0 L289.1,334.6 L289.3,336.1 L289.6,337.7 L289.8,339.2 L290.1,340.8 L290.3,342.4 L290.6,344.0 L290.8,345.6 L291.1,347.2 L291.3,348.9 L291.6,350.5 L291.8,352.2 L292.1,353.9 L292.3,355.6 L292.6,357.3 L292.8,359.0 L293.1,360.7 L293.3,362.4 L293.6,364.1 L293.8,365.9 L294.1,367.6 L294.3,369.3 L294.6,371.1 L294.8,372.8 L295.1,374.6 L295.3,376.3 L295.6,378.1 L295.8,379.9 L296.1,381.6 L296.3,383.4 L296.6,385.2 L296.8,387.0 L297.1,388.7 L297.3,390.5 L297.6,392.3 L297.8,394.1 L298.1,395.9 L298.3,397.6 L298.6,399.4 L298.8,401.2 L299.1,403.0 L299.3,404.8 L299.6,406.5 L299.8,408.3 L300.1,410.1 L300.3,411.8 L300.6,413.5 L300.8,415.1 L301.1,416.7 L301.3,417.8 L301.6,416.8 L301.8,417.0 L302.1,416.0 L302.3,415.8 L302.6,415.2 L302.8,414.3 L303.1,413.1 L303.3,411.6 L303.6,410.0 L303.8,408.3 L304.1,406.6 L304.3,404.8 L304.6,402.9 L304.8,401.1 L305.1,399.3 L305.3,397.4 L305.5,395.6 L305.8,393.8 L306.0,391.9 L306.3,390.1 L306.5,388.2 L306.8,386.3 L307.0,384.3 L307.3,382.4 L307.5,380.6 L307.8,378.7 L308.0,376.9 L308.3,375.2 L308.5,373.4 L308.8,371.7 L309.0,370.0 L309.3,368.2 L309.5,366.5 L309.8,364.8 L310.0,363.2 L310.3,361.5 L310.5,359.8 L310.8,358.2 L311.0,356.5 L311.3,354.9 L311.5,353.2 L311.8,351.6 L312.0,350.0 L312.3,348.4 L312.5,346.8 L312.8,345.2 L313.0,343.7 L313.3,342.1 L313.5,340.5 L313.8,339.0 L314.0,337.5 L314.3,336.0 L314.5,334.4 L314.8,332.9 L315.0,331.4 L315.3,330.0 L315.5,328.5 L315.8,327.1 L316.0,325.6 L316.3,324.2 L316.5,322.8 L316.8,321.4 L317.0,320.0 L317.3,318.6 L317.5,317.3 L317.8,315.9 L318.0,314.6 L318.3,313.2 L318.5,311.9 L318.8,310.6 L319.0,309.4 L319.3,308.1 L319.5,306.8 L319.8,305.6 L320.0,304.3 L320.3,303.1 L320.5,301.9 L320.8,300.7 L321.0,299.5 L321.3,298.4 L321.5,297.2 L321.8,296.1 L322.0,294.9 L322.3,293.8 L322.5,292.7 L322.8,291.6 L323.0,290.6 L323.3,289.5 L323.5,288.5 L323.8,287.5 L324.0,286.4 L324.3,285.5 L324.5,284.5 L324.8,283.5 L325.0,282.6 L325.3,281.6 L325.5,280.7 L325.8,279.8 L326.0,278.9 L326.3,278.1 L326.5,277.2 L326.8,276.4 L327.0,275.5 L327.3,274.7 L327.5,274.0 L327.8,273.2 L328.0,272.4 L328.3,271.7 L328.5,271.0 L328.8,270.2 L329.0,269.6 L329.3,268.9 L329.5,268.2 L329.8,267.6 L330.0,267.0 L330.3,266.4 L330.5,265.8 L330.8,265.2 L331.0,264.6 L331.3,264.1 L331.5,263.6 L331.8,263.1 L332.0,262.6 L332.3,262.1 L332.5,261.7 L332.8,261.2 L333.0,260.8 L333.3,260.4 L333.5,260.0 L333.8,259.7 L334.0,259.3 L334.2,259.0 L334.5,258.7 L334.7,258.4 L335.0,258.1 L335.2,257.8 L335.5,257.6 L335.7,257.4 L336.0,257.2 L336.2,257.0 L336.5,256.8 L336.7,256.7 L337.0,256.5 L337.2,256.4 L337.5,256.3 L337.7,256.2 L338.0,256.1 L338.2,256.0 L338.5,255.9 L338.7,255.9 L339.0,255.9 L339.2,255.8 L339.5,255.8 L339.7,255.8 L340.0,255.9 L340.2,255.9 L340.5,256.0 L340.7,256.0 L341.0,256.1 L341.2,256.3 L341.5,256.4 L341.7,256.5 L342.0,256.7 L342.2,256.9 L342.5,257.1 L342.7,257.3 L343.0,257.5 L343.2,257.8 L343.5,258.0 L343.7,258.3 L344.0,258.6 L344.2,259.0 L344.5,259.3 L344.7,259.7 L345.0,260.0 L345.2,260.4 L345.5,260.8 L345.7,261.2 L346.0,261.7 L346.2,262.1 L346.5,262.6 L346.7,263.1 L347.0,263.6 L347.2,264.1 L347.5,264.7 L347.7,265.2 L348.0,265.8 L348.2,266.4 L348.5,267.0 L348.7,267.7 L349.0,268.3 L349.2,269.0 L349.5,269.6 L349.7,270.3 L350.0,271.0 L350.2,271.8 L350.5,272.5 L350.7,273.2 L351.0,274.0 L351.2,274.8 L351.5,275.6 L351.7,276.4 L352.0,277.3 L352.2,278.1 L352.5,279.0 L352.7,279.9 L353.0,280.8 L353.2,281.7 L353.5,282.6 L353.7,283.6 L354.0,284.5 L354.2,285.5 L354.5,286.5 L354.7,287.5 L355.0,288.5 L355.2,289.6 L355.5,290.6 L355.7,291.7 L356.0,292.8 L356.2,293.9 L356.5,295.0 L356.7,296.1 L357.0,297.3 L357.2,298.4 L357.5,299.6 L357.7,300.8 L358.0,302.0 L358.2,303.2 L358.5,304.4 L358.7,305.7 L359.0,306.9 L359.2,308.2 L359.5,309.5 L359.7,310.8 L360.0,312.1 L360.2,313.4 L360.5,314.7 L360.7,316.1 L361.0,317.4 L361.2,318.8 L361.5,320.2 L361.7,321.6 L362.0,323.0 L362.2,324.4 L362.4,325.8 L362.7,327.2 L362.9,328.7 L363.2,330.2 L363.4,331.6 L363.7,333.1 L363.9,334.6 L364.2,336.1 L364.4,337.6 L364.7,339.2 L364.9,340.7 L365.2,342.3 L365.4,343.9 L365.7,345.4 L365.9,347.0 L366.2,348.7 L366.4,350.3 L366.7,351.9 L366.9,353.5 L367.2,355.2 L367.4,356.9 L367.7,358.5 L367.9,360.2 L368.2,361.9 L368.4,363.6 L368.7,365.3 L368.9,367.0 L369.2,368.7 L369.4,370.4 L369.7,372.2 L369.9,373.9 L370.2,375.6 L370.4,377.4 L370.7,379.2 L370.9,380.9 L371.2,382.7 L371.4,384.5 L371.7,386.3 L371.9,388.0 L372.2,389.8 L372.4,391.6 L372.7,393.4 L372.9,395.2 L373.2,397.0 L373.4,398.8 L373.7,400.6 L373.9,402.4 L374.2,404.3 L374.4,406.1 L374.7,407.9 L374.9,409.7 L375.2,411.4 L375.4,413.2 L375.7,414.8 L375.9,416.3 L376.2,417.4 L376.4,416.2 L376.7,416.1 L376.9,415.5 L377.2,415.6 L377.4,415.1 L377.7,414.1 L377.9,412.9 L378.2,411.4 L378.4,409.8 L378.7,408.1 L378.9,406.3 L379.2,404.5 L379.4,402.7 L379.7,400.9 L379.9,399.1 L380.2,397.2 L380.4,395.4 L380.7,393.5 L380.9,391.7 L381.2,389.8 L381.4,387.9 L381.7,386.0 L381.9,384.1 L382.2,382.2 L382.4,380.3 L382.7,378.5 L382.9,376.7 L383.2,374.9 L383.4,373.2 L383.7,371.5 L383.9,369.7 L384.2,368.0 L384.4,366.3 L384.7,364.6 L384.9,362.9 L385.2,361.3 L385.4,359.6 L385.7,358.0 L385.9,356.3 L386.2,354.7 L386.4,353.0 L386.7,351.4 L386.9,349.8 L387.2,348.2 L387.4,346.6 L387.7,345.0 L387.9,343.5 L388.2,341.9 L388.4,340.4 L388.7,338.8 L388.9,337.3 L389.2,335.8 L389.4,334.3 L389.7,332.7 L389.9,331.3 L390.2,329.8 L390.4,328.3 L390.7,326.9 L390.9,325.4 L391.1,324.0 L391.4,322.6 L391.6,321.2 L391.9,319.8 L392.1,318.4 L392.4,317.1 L392.6,315.7 L392.9,314.4 L393.1,313.1 L393.4,311.8 L393.6,310.5 L393.9,309.2 L394.1,307.9 L394.4,306.7 L394.6,305.4 L394.9,304.2 L395.1,303.0 L395.4,301.8 L395.6,300.6 L395.9,299.4 L396.1,298.2 L396.4,297.1 L396.6,295.9 L396.9,294.8 L397.1,293.7 L397.4,292.6 L397.6,291.5 L397.9,290.4 L398.1,289.4 L398.4,288.4 L398.6,287.3 L398.9,286.3 L399.1,285.3 L399.4,284.4 L399.6,283.4 L399.9,282.4 L400.1,281.5 L400.4,280.6 L400.6,279.7 L400.9,278.8 L401.1,278.0 L401.4,277.1 L401.6,276.3 L401.9,275.4 L402.1,274.6 L402.4,273.9 L402.6,273.1 L402.9,272.3 L403.1,271.6 L403.4,270.9 L403.6,270.2 L403.9,269.5 L404.1,268.8 L404.4,268.1 L404.6,267.5 L404.9,266.9 L405.1,266.3 L405.4,265.7 L405.6,265.1 L405.9,264.6 L406.1,264.0 L406.4,263.5 L406.6,263.0 L406.9,262.5 L407.1,262.1 L407.4,261.6 L407.6,261.2 L407.9,260.8 L408.1,260.4 L408.4,260.0 L408.6,259.6 L408.9,259.3 L409.1,259.0 L409.4,258.6 L409.6,258.3 L409.9,258.1 L410.1,257.8 L410.4,257.6 L410.6,257.4 L410.9,257.2 L411.1,257.0 L411.4,256.8 L411.6,256.6 L411.9,256.5 L412.1,256.4 L412.4,256.3 L412.6,256.1 L412.9,256.1 L413.1,256.0 L413.4,255.9 L413.6,255.9 L413.9,255.8 L414.1,255.8 L414.4,255.8 L414.6,255.8 L414.9,255.9 L415.1,255.9 L415.4,256.0 L415.6,256.1 L415.9,256.2 L416.1,256.3 L416.4,256.4 L416.6,256.5 L416.9,256.7 L417.1,256.9 L417.4,257.1 L417.6,257.3 L417.9,257.6 L418.1,257.8 L418.4,258.1 L418.6,258.4 L418.9,258.7 L419.1,259.0 L419.3,259.3 L419.6,259.7 L419.8,260.1 L420.1,260.5 L420.3,260.9 L420.6,261.3 L420.8,261.7 L421.1,262.2 L421.3,262.7 L421.6,263.2 L421.8,263.7 L422.1,264.2 L422.3,264.8 L422.6,265.3 L422.8,265.9 L423.1,266.5 L423.3,267.1 L423.6,267.7 L423.8,268.4 L424.1,269.0 L424.3,269.7 L424.6,270.4 L424.8,271.1 L425.1,271.8 L425.3,272.6 L425.6,273.3 L425.8,274.1 L426.1,274.9 L426.3,275.7 L426.6,276.5 L426.8,277.4 L427.1,278.2 L427.3,279.1 L427.6,280.0 L427.8,280.9 L428.1,281.8 L428.3,282.7 L428.6,283.7 L428.8,284.6 L429.1,285.6 L429.3,286.6 L429.6,287.6 L429.8,288.7 L430.1,289.7 L430.3,290.8 L430.6,291.8 L430.8,292.9 L431.1,294.0 L431.3,295.2 L431.6,296.3 L431.8,297.4 L432.1,298.6 L432.3,299.8 L432.6,301.0 L432.8,302.2 L433.1,303.4 L433.3,304.6 L433.6,305.8 L433.8,307.1 L434.1,308.4 L434.3,309.6 L434.6,310.9 L434.8,312.2 L435.1,313.6 L435.3,314.9 L435.6,316.2 L435.8,317.6 L436.1,319.0 L436.3,320.3 L436.6,321.7 L436.8,323.1 L437.1,324.6 L437.3,326.0 L437.6,327.4 L437.8,328.9 L438.1,330.3 L438.3,331.8 L438.6,333.3 L438.8,334.8 L439.1,336.3 L439.3,337.8 L439.6,339.4 L439.8,340.9 L440.1,342.5 L440.3,344.1 L440.6,345.6 L440.8,347.2 L441.1,348.9 L441.3,350.5 L441.6,352.1 L441.8,353.8 L442.1,355.4 L442.3,357.1 L442.6,358.7 L442.8,360.4 L443.1,362.1 L443.3,363.8 L443.6,365.5 L443.8,367.2 L444.1,368.9 L444.3,370.6 L444.6,372.4 L444.8,374.1 L445.1,375.9 L445.3,377.6 L445.6,379.4 L445.8,381.1 L446.1,382.9 L446.3,384.7 L446.6,386.5 L446.8,388.3 L447.1,390.0 L447.3,391.8 L447.6,393.6 L447.8,395.4 L448.0,397.2 L448.3,399.0 L448.5,400.8 L448.8,402.7 L449.0,404.5 L449.3,406.3 L449.5,408.1 L449.8,409.9 L450.0,411.6 L450.3,413.4 L450.5,415.0 L450.8,416.5 L451.0,417.5 L451.3,416.6 L451.5,416.2 L451.8,415.7 L452.0,415.6 L452.3,415.1 L452.5,414.0 L452.8,412.7 L453.0,411.2 L453.3,409.6 L453.5,407.9 L453.8,406.1 L454.0,404.3 L454.3,402.5 L454.5,400.7 L454.8,398.8 L455.0,397.0 L455.3,395.1 L455.5,393.3 L455.8,391.5 L456.0,389.6 L456.3,387.7 L456.5,385.8 L456.8,383.9 L457.0,382.0 L457.3,380.1 L457.5,378.3 L457.8,376.5 L458.0,374.7 L458.3,373.0 L458.5,371.2 L458.8,369.5 L459.0,367.8 L459.3,366.1 L459.5,364.4 L459.8,362.7 L460.0,361.1 L460.3,359.4 L460.5,357.8 L460.8,356.1 L461.0,354.5 L461.3,352.8 L461.5,351.2 L461.8,349.6 L462.0,348.0 L462.3,346.4 L462.5,344.8 L462.8,343.3 L463.0,341.7 L463.3,340.2 L463.5,338.6 L463.8,337.1 L464.0,335.6 L464.3,334.1 L464.5,332.6 L464.8,331.1 L465.0,329.6 L465.3,328.1 L465.5,326.7 L465.8,325.3 L466.0,323.8 L466.3,322.4 L466.5,321.0 L466.8,319.6 L467.0,318.3 L467.3,316.9 L467.5,315.6 L467.8,314.2 L468.0,312.9 L468.3,311.6 L468.5,310.3 L468.8,309.0 L469.0,307.8 L469.3,306.5 L469.5,305.3 L469.8,304.0 L470.0,302.8 L470.3,301.6 L470.5,300.4 L470.8,299.2 L471.0,298.1 L471.3,296.9 L471.5,295.8 L471.8,294.7 L472.0,293.5 L472.3,292.5 L472.5,291.4 L472.8,290.3 L473.0,289.3 L473.3,288.2 L473.5,287.2 L473.8,286.2 L474.0,285.2 L474.3,284.2 L474.5,283.3 L474.8,282.3 L475.0,281.4 L475.3,280.5 L475.5,279.6 L475.8,278.7 L476.0,277.8 L476.3,277.0 L476.5,276.2 L476.7,275.3 L477.0,274.5 L477.2,273.8 L477.5,273.0 L477.7,272.2 L478.0,271.5 L478.2,270.8 L478.5,270.1 L478.7,269.4 L479.0,268.7 L479.2,268.1 L479.5,267.4 L479.7,266.8 L480.0,266.2 L480.2,265.6 L480.5,265.1 L480.7,264.5 L481.0,264.0 L481.2,263.5 L481.5,263.0 L481.7,262.5 L482.0,262.0 L482.2,261.6 L482.5,261.1 L482.7,260.7 L483.0,260.3 L483.2,259.9 L483.5,259.6 L483.7,259.2 L484.0,258.9 L484.2,258.6 L484.5,258.3 L484.7,258.0 L485.0,257.8 L485.2,257.5 L485.5,257.3 L485.7,257.1 L486.0,256.9 L486.2,256.8 L486.5,256.6 L486.7,256.5 L487.0,256.4 L487.2,256.2 L487.5,256.1 L487.7,256.1 L488.0,256.0 L488.2,255.9 L488.5,255.9 L488.7,255.8 L489.0,255.8 L489.2,255.8 L489.5,255.8 L489.7,255.9 L490.0,255.9 L490.2,256.0 L490.5,256.1 L490.7,256.2 L491.0,256.3 L491.2,256.4 L491.5,256.6 L491.7,256.7 L492.0,256.9 L492.2,257.1 L492.5,257.3 L492.7,257.6 L493.0,257.8 L493.2,258.1 L493.5,258.4 L493.7,258.7 L494.0,259.0 L494.2,259.4 L494.5,259.7 L494.7,260.1 L495.0,260.5 L495.2,260.9 L495.5,261.4 L495.7,261.8 L496.0,262.3 L496.2,262.7 L496.5,263.2 L496.7,263.7 L497.0,264.3 L497.2,264.8 L497.5,265.4 L497.7,266.0 L498.0,266.6 L498.2,267.2 L498.5,267.8 L498.7,268.5 L499.0,269.1 L499.2,269.8 L499.5,270.5 L499.7,271.2 L500.0,271.9 L500.2,272.7 L500.5,273.4 L500.7,274.2 L501.0,275.0 L501.2,275.8 L501.5,276.6 L501.7,277.5 L502.0,278.3 L502.2,279.2 L502.5,280.1 L502.7,281.0 L503.0,281.9 L503.2,282.8 L503.5,283.8 L503.7,284.8 L504.0,285.7 L504.2,286.7 L504.5,287.8 L504.7,288.8 L504.9,289.8 L505.2,290.9 L505.4,292.0 L505.7,293.1 L505.9,294.2 L506.2,295.3 L506.4,296.4 L506.7,297.6 L506.9,298.7 L507.2,299.9 L507.4,301.1 L507.7,302.3 L507.9,303.5 L508.2,304.8 L508.4,306.0 L508.7,307.3 L508.9,308.5 L509.2,309.8 L509.4,311.1 L509.7,312.4 L509.9,313.7 L510.2,315.1 L510.4,316.4 L510.7,317.8 L510.9,319.1 L511.2,320.5 L511.4,321.9 L511.7,323.3 L511.9,324.7 L512.2,326.2 L512.4,327.6 L512.7,329.1 L512.9,330.5 L513.2,332.0 L513.4,333.5 L513.7,335.0 L513.9,336.5 L514.2,338.0 L514.4,339.6 L514.7,341.1 L514.9,342.7 L515.2,344.3 L515.4,345.8 L515.7,347.4 L515.9,349.1 L516.2,350.7 L516.4,352.3 L516.7,354.0 L516.9,355.6 L517.2,357.3 L517.4,358.9 L517.7,360.6 L517.9,362.3 L518.2,364.0 L518.4,365.7 L518.7,367.4 L518.9,369.1 L519.2,370.9 L519.4,372.6 L519.7,374.3 L519.9,376.1 L520.2,377.8 L520.4,379.6 L520.7,381.4 L520.9,383.1 L521.2,384.9 L521.4,386.7 L521.7,388.5 L521.9,390.3 L522.2,392.1 L522.4,393.9 L522.7,395.7 L522.9,397.5 L523.2,399.3 L523.4,401.1 L523.7,402.9 L523.9,404.7 L524.2,406.5 L524.4,408.3 L524.7,410.1 L524.9,411.9 L525.2,413.6 L525.4,415.2 L525.7,416.6 L525.9,417.4 L526.2,416.7 L526.4,416.1 L526.7,415.6 L526.9,415.5 L527.2,414.9 L527.4,413.8 L527.7,412.5 L527.9,411.0 L528.2,409.4 L528.4,407.7 L528.7,405.9 L528.9,404.1 L529.2,402.3 L529.4,400.4 L529.7,398.6 L529.9,396.8 L530.2,394.9 L530.4,393.1 L530.7,391.2 L530.9,389.4 L531.2,387.5 L531.4,385.5 L531.7,383.6 L531.9,381.7 L532.2,379.9 L532.4,378.1 L532.7,376.3 L532.9,374.5 L533.2,372.8 L533.4,371.0 L533.6,369.3 L533.9,367.6 L534.1,365.9 L534.4,364.2 L534.6,362.5 L534.9,360.9 L535.1,359.2 L535.4,357.5 L535.6,355.9 L535.9,354.3 L536.1,352.6 L536.4,351.0 L536.6,349.4 L536.9,347.8 L537.1,346.2 L537.4,344.6 L537.6,343.1 L537.9,341.5 L538.1,340.0 L538.4,338.4 L538.6,336.9 L538.9,335.4 L539.1,333.9 L539.4,332.4 L539.6,330.9 L539.9,329.4 L540.1,328.0 L540.4,326.5 L540.6,325.1 L540.9,323.7 L541.1,322.3 L541.4,320.9 L541.6,319.5 L541.9,318.1 L542.1,316.7 L542.4,315.4 L542.6,314.1 L542.9,312.8 L543.1,311.4 L543.4,310.2 L543.6,308.9 L543.9,307.6 L544.1,306.3 L544.4,305.1 L544.6,303.9 L544.9,302.7 L545.1,301.5 L545.4,300.3 L545.6,299.1 L545.9,297.9 L546.1,296.8 L546.4,295.6 L546.6,294.5 L546.9,293.4 L547.1,292.3 L547.4,291.2 L547.6,290.2 L547.9,289.1 L548.1,288.1 L548.4,287.1 L548.6,286.1 L548.9,285.1 L549.1,284.1 L549.4,283.2 L549.6,282.2 L549.9,281.3 L550.1,280.4 L550.4,279.5 L550.6,278.6 L550.9,277.7 L551.1,276.9 L551.4,276.1 L551.6,275.2 L551.9,274.4 L552.1,273.7 L552.4,272.9 L552.6,272.1 L552.9,271.4 L553.1,270.7 L553.4,270.0 L553.6,269.3 L553.9,268.6 L554.1,268.0 L554.4,267.3 L554.6,266.7 L554.9,266.1 L555.1,265.5 L555.4,265.0 L555.6,264.4 L555.9,263.9 L556.1,263.4 L556.4,262.9 L556.6,262.4 L556.9,262.0 L557.1,261.5 L557.4,261.1 L557.6,260.7 L557.9,260.3 L558.1,259.9 L558.4,259.5 L558.6,259.2 L558.9,258.9 L559.1,258.6 L559.4,258.3 L559.6,258.0 L559.9,257.8 L560.1,257.5 L560.4,257.3 L560.6,257.1 L560.9,256.9 L561.1,256.8 L561.4,256.6 L561.6,256.5 L561.9,256.3 L562.1,256.2 L562.3,256.1 L562.6,256.0 L562.8,256.0 L563.1,255.9 L563.3,255.9 L563.6,255.8 L563.8,255.8 L564.1,255.8 L564.3,255.8 L564.6,255.9 L564.8,255.9 L565.1,256.0 L565.3,256.1 L565.6,256.2 L565.8,256.3 L566.1,256.4 L566.3,256.6 L566.6,256.8 L566.8,256.9 L567.1,257.1 L567.3,257.4 L567.6,257.6 L567.8,257.9 L568.1,258.2 L568.3,258.4 L568.6,258.8 L568.8,259.1 L569.1,259.4 L569.3,259.8 L569.6,260.2 L569.8,260.6 L570.1,261.0 L570.3,261.4 L570.6,261.9 L570.8,262.3 L571.1,262.8 L571.3,263.3 L571.6,263.8 L571.8,264.3 L572.1,264.9 L572.3,265.5 L572.6,266.0 L572.8,266.6 L573.1,267.3 L573.3,267.9 L573.6,268.5 L573.8,269.2 L574.1,269.9 L574.3,270.6 L574.6,271.3 L574.8,272.0 L575.1,272.8 L575.3,273.5 L575.6,274.3 L575.8,275.1 L576.1,275.9 L576.3,276.7 L576.6,277.6 L576.8,278.4 L577.1,279.3 L577.3,280.2 L577.6,281.1 L577.8,282.0 L578.1,283.0 L578.3,283.9 L578.6,284.9 L578.8,285.9 L579.1,286.9 L579.3,287.9 L579.6,288.9 L579.8,290.0 L580.1,291.0 L580.3,292.1 L580.6,293.2 L580.8,294.3 L581.1,295.4 L581.3,296.6 L581.6,297.7 L581.8,298.9 L582.1,300.1 L582.3,301.3 L582.6,302.5 L582.8,303.7 L583.1,304.9 L583.3,306.2 L583.6,307.4 L583.8,308.7 L584.1,310.0 L584.3,311.3 L584.6,312.6 L584.8,313.9 L585.1,315.2 L585.3,316.6 L585.6,317.9 L585.8,319.3 L586.1,320.7 L586.3,322.1 L586.6,323.5 L586.8,324.9 L587.1,326.3 L587.3,327.8 L587.6,329.2 L587.8,330.7 L588.1,332.2 L588.3,333.7 L588.6,335.2 L588.8,336.7 L589.1,338.2 L589.3,339.8 L589.6,341.3 L589.8,342.9 L590.1,344.5 L590.3,346.0 L590.5,347.6 L590.8,349.3 L591.0,350.9 L591.3,352.5 L591.5,354.2 L591.8,355.8 L592.0,357.5 L592.3,359.2 L592.5,360.8 L592.8,362.5 L593.0,364.2 L593.3,365.9 L593.5,367.6 L593.8,369.4 L594.0,371.1 L594.3,372.8 L594.5,374.6 L594.8,376.3 L595.0,378.1 L595.3,379.8 L595.5,381.6 L595.8,383.4 L596.0,385.1 L596.3,386.9 L596.5,388.7 L596.8,390.5 L597.0,392.3 L597.3,394.1 L597.5,395.9 L597.8,397.7 L598.0,399.5 L598.3,401.3 L598.5,403.1 L598.8,404.9 L599.0,406.7 L599.3,408.5 L599.5,410.3 L599.8,412.1 L600.0,413.8 L600.3,415.4 L600.5,416.7 L600.8,417.4 L601.0,416.9 L601.3,415.9 L601.5,415.6 L601.8,415.4 L602.0,414.8 L602.3,413.7 L602.5,412.3 L602.8,410.8 L603.0,409.2 L603.3,407.4 L603.5,405.7 L603.8,403.9 L604.0,402.0 L604.3,400.2 L604.5,398.4 L604.8,396.5 L605.0,394.7 L605.3,392.8 L605.5,391.0 L605.8,389.1 L606.0,387.2 L606.3,385.3 L606.5,383.4 L606.8,381.5 L607.0,379.7 L607.3,377.8 L607.5,376.1 L607.8,374.3 L608.0,372.5 L608.3,370.8 L608.5,369.1 L608.8,367.4 L609.0,365.7 L609.3,364.0 L609.5,362.3 L609.8,360.6 L610.0,359.0 L610.3,357.3 L610.5,355.7 L610.8,354.1 L611.0,352.4 L611.3,350.8 L611.5,349.2 L611.8,347.6 L612.0,346.0 L612.3,344.5 L612.5,342.9 L612.8,341.3 L613.0,339.8 L613.3,338.2 L613.5,336.7 L613.8,335.2 L614.0,333.7 L614.3,332.2 L614.5,330.7 L614.8,329.2 L615.0,327.8 L615.3,326.3 L615.5,324.9 L615.8,323.5 L616.0,322.1 L616.3,320.7 L616.5,319.3 L616.8,317.9 L617.0,316.6 L617.3,315.2 L617.5,313.9 L617.8,312.6 L618.0,311.3 L618.3,310.0 L618.5,308.7 L618.8,307.4 L619.0,306.2 L619.2,305.0 L619.5,303.7 L619.7,302.5 L620.0,301.3 L620.2,300.1 L620.5,298.9 L620.7,297.8 L621.0,296.6 L621.2,295.5 L621.5,294.4 L621.7,293.3 L622.0,292.2 L622.2,291.1 L622.5,290.0 L622.7,289.0 L623.0,288.0 L623.2,287.0 L623.5,285.9 L623.7,285.0 L624.0,284.0 L624.2,283.0 L624.5,282.1 L624.7,281.2 L625.0,280.3 L625.2,279.4 L625.5,278.5 L625.7,277.6 L626.0,276.8 L626.2,276.0 L626.5,275.1 L626.7,274.3 L627.0,273.6 L627.2,272.8 L627.5,272.0 L627.7,271.3 L628.0,270.6 L628.2,269.9 L628.5,269.2 L628.7,268.5 L629.0,267.9 L629.2,267.3 L629.5,266.7 L629.7,266.1 L630.0,265.5 L630.2,264.9 L630.5,264.4 L630.7,263.8 L631.0,263.3 L631.2,262.8 L631.5,262.4 L631.7,261.9 L632.0,261.5 L632.2,261.0 L632.5,260.6 L632.7,260.2 L633.0,259.9 L633.2,259.5 L633.5,259.2 L633.7,258.8 L634.0,258.5 L634.2,258.2 L634.5,258.0 L634.7,257.7 L635.0,257.5 L635.2,257.3 L635.5,257.1 L635.7,256.9 L636.0,256.7 L636.2,256.6 L636.5,256.4 L636.7,256.3 L637.0,256.2 L637.2,256.1 L637.5,256.0 L637.7,256.0 L638.0,255.9 L638.2,255.9 L638.5,255.8 L638.7,255.8 L639.0,255.8 L639.2,255.9 L639.5,255.9 L639.7,255.9 L640.0,256.0 L640.2,256.1 L640.5,256.2 L640.7,256.3 L641.0,256.5 L641.2,256.6 L641.5,256.8 L641.7,257.0 L642.0,257.2 L642.2,257.4 L642.5,257.6 L642.7,257.9 L643.0,258.2 L643.2,258.5 L643.5,258.8 L643.7,259.1 L644.0,259.5 L644.2,259.8 L644.5,260.2 L644.7,260.6 L645.0,261.0 L645.2,261.5 L645.5,261.9 L645.7,262.4 L646.0,262.9 L646.2,263.4 L646.5,263.9 L646.7,264.4 L647.0,265.0 L647.2,265.5 L647.4,266.1 L647.7,266.7 L647.9,267.3 L648.2,268.0 L648.4,268.6 L648.7,269.3 L648.9,270.0 L649.2,270.7 L649.4,271.4 L649.7,272.1 L649.9,272.9 L650.2,273.6 L650.4,274.4 L650.7,275.2 L650.9,276.0 L651.2,276.8 L651.4,277.7 L651.7,278.5 L651.9,279.4 L652.2,280.3 L652.4,281.2 L652.7,282.1 L652.9,283.1 L653.2,284.0 L653.4,285.0 L653.7,286.0 L653.9,287.0 L654.2,288.0 L654.4,289.1 L654.7,290.1 L654.9,291.2 L655.2,292.2 L655.4,293.3 L655.7,294.5 L655.9,295.6 L656.2,296.7 L656.4,297.9 L656.7,299.0 L656.9,300.2 L657.2,301.4 L657.4,302.6 L657.7,303.8 L657.9,305.1 L658.2,306.3 L658.4,307.6 L658.7,308.8 L658.9,310.1 L659.2,311.4 L659.4,312.7 L659.7,314.1 L659.9,315.4 L660.2,316.7 L660.4,318.1 L660.7,319.5 L660.9,320.9 L661.2,322.3 L661.4,323.7 L661.7,325.1 L661.9,326.5 L662.2,328.0 L662.4,329.4 L662.7,330.9 L662.9,332.4 L663.2,333.9 L663.4,335.4 L663.7,336.9 L663.9,338.4 L664.2,340.0 L664.4,341.5 L664.7,343.1 L664.9,344.7 L665.2,346.2 L665.4,347.8 L665.7,349.5 L665.9,351.1 L666.2,352.7 L666.4,354.4 L666.7,356.0 L666.9,357.7 L667.2,359.4 L667.4,361.0 L667.7,362.7 L667.9,364.4 L668.2,366.1 L668.4,367.8 L668.7,369.6 L668.9,371.3 L669.2,373.0 L669.4,374.8 L669.7,376.5 L669.9,378.3 L670.2,380.0 L670.4,381.8 L670.7,383.6 L670.9,385.4 L671.2,387.1 L671.4,388.9 L671.7,390.7 L671.9,392.5 L672.2,394.3 L672.4,396.1 L672.7,397.9 L672.9,399.7 L673.2,401.5 L673.4,403.3 L673.7,405.2 L673.9,407.0 L674.2,408.8 L674.4,410.5 L674.7,412.3 L674.9,414.0 L675.2,415.6 L675.4,417.0 L675.7,415.3 L675.9,417.0" stroke="#22ee22" stroke-width="2.6" stroke-dasharray="5.5,3.5"/>
</g>
<rect x="77.2" y="5.7" width="598.7" height="195.3" fill="none" stroke="#202020" stroke-width="1.5"/>
<rect x="77.2" y="240.9" width="598.7" height="195.0" fill="none" stroke="#202020" stroke-width="1.5"/>
<line x1="69.6" y1="33.6" x2="77.2" y2="33.6" stroke="#202020" stroke-width="1.5"/>
<line x1="69.6" y1="80.1" x2="77.2" y2="80.1" stroke="#202020" stroke-width="1.5"/>
<line x1="69.6" y1="126.6" x2="77.2" y2="126.6" stroke="#202020" stroke-width="1.5"/>
<line x1="69.6" y1="173.1" x2="77.2" y2="173.1" stroke="#202020" stroke-width="1.5"/>
<line x1="73.4" y1="10.3" x2="77.2" y2="10.3" stroke="#202020" stroke-width="1.5"/>
<line x1="73.4" y1="56.8" x2="77.2" y2="56.8" stroke="#202020" stroke-width="1.5"/>
<line x1="73.4" y1="103.3" x2="77.2" y2="103.3" stroke="#202020" stroke-width="1.5"/>
<line x1="73.4" y1="149.8" x2="77.2" y2="149.8" stroke="#202020" stroke-width="1.5"/>
<line x1="73.4" y1="196.4" x2="77.2" y2="196.4" stroke="#202020" stroke-width="1.5"/>
<line x1="69.6" y1="421.9" x2="77.2" y2="421.9" stroke="#202020" stroke-width="1.5"/>
<line x1="69.6" y1="394.0" x2="77.2" y2="394.0" stroke="#202020" stroke-width="1.5"/>
<line x1="69.6" y1="366.2" x2="77.2" y2="366.2" stroke="#202020" stroke-width="1.5"/>
<line x1="69.6" y1="338.3" x2="77.2" y2="338.3" stroke="#202020" stroke-width="1.5"/>
<line x1="69.6" y1="310.5" x2="77.2" y2="310.5" stroke="#202020" stroke-width="1.5"/>
<line x1="69.6" y1="282.6" x2="77.2" y2="282.6" stroke="#202020" stroke-width="1.5"/>
<line x1="69.6" y1="254.8" x2="77.2" y2="254.8" stroke="#202020" stroke-width="1.5"/>
<line x1="73.4" y1="435.8" x2="77.2" y2="435.8" stroke="#202020" stroke-width="1.5"/>
<line x1="73.4" y1="408.0" x2="77.2" y2="408.0" stroke="#202020" stroke-width="1.5"/>
<line x1="73.4" y1="380.1" x2="77.2" y2="380.1" stroke="#202020" stroke-width="1.5"/>
<line x1="73.4" y1="352.3" x2="77.2" y2="352.3" stroke="#202020" stroke-width="1.5"/>
<line x1="73.4" y1="324.4" x2="77.2" y2="324.4" stroke="#202020" stroke-width="1.5"/>
<line x1="73.4" y1="296.6" x2="77.2" y2="296.6" stroke="#202020" stroke-width="1.5"/>
<line x1="73.4" y1="268.7" x2="77.2" y2="268.7" stroke="#202020" stroke-width="1.5"/>
<line x1="73.4" y1="240.9" x2="77.2" y2="240.9" stroke="#202020" stroke-width="1.5"/>
<line x1="77.2" y1="201.0" x2="77.2" y2="208.6" stroke="#202020" stroke-width="1.5"/>
<line x1="226.9" y1="201.0" x2="226.9" y2="208.6" stroke="#202020" stroke-width="1.5"/>
<line x1="376.5" y1="201.0" x2="376.5" y2="208.6" stroke="#202020" stroke-width="1.5"/>
<line x1="526.2" y1="201.0" x2="526.2" y2="208.6" stroke="#202020" stroke-width="1.5"/>
<line x1="675.9" y1="201.0" x2="675.9" y2="208.6" stroke="#202020" stroke-width="1.5"/>
<line x1="152.0" y1="201.0" x2="152.0" y2="204.8" stroke="#202020" stroke-width="1.5"/>
<line x1="301.7" y1="201.0" x2="301.7" y2="204.8" stroke="#202020" stroke-width="1.5"/>
<line x1="451.4" y1="201.0" x2="451.4" y2="204.8" stroke="#202020" stroke-width="1.5"/>
<line x1="601.1" y1="201.0" x2="601.1" y2="204.8" stroke="#202020" stroke-width="1.5"/>
<line x1="77.2" y1="435.8" x2="77.2" y2="443.4" stroke="#202020" stroke-width="1.5"/>
<line x1="226.9" y1="435.8" x2="226.9" y2="443.4" stroke="#202020" stroke-width="1.5"/>
<line x1="376.5" y1="435.8" x2="376.5" y2="443.4" stroke="#202020" stroke-width="1.5"/>
<line x1="526.2" y1="435.8" x2="526.2" y2="443.4" stroke="#202020" stroke-width="1.5"/>
<line x1="675.9" y1="435.8" x2="675.9" y2="443.4" stroke="#202020" stroke-width="1.5"/>
<line x1="152.0" y1="435.8" x2="152.0" y2="439.6" stroke="#202020" stroke-width="1.5"/>
<line x1="301.7" y1="435.8" x2="301.7" y2="439.6" stroke="#202020" stroke-width="1.5"/>
<line x1="451.4" y1="435.8" x2="451.4" y2="439.6" stroke="#202020" stroke-width="1.5"/>
<line x1="601.1" y1="435.8" x2="601.1" y2="439.6" stroke="#202020" stroke-width="1.5"/>
<text transform="translate(63.6,39.2) scale(1.00,1)" font-size="17.6" text-anchor="end">5</text>
<text transform="translate(63.6,85.7) scale(1.00,1)" font-size="17.6" text-anchor="end">0</text>
<text transform="translate(63.6,132.2) scale(1.00,1)" font-size="17.6" text-anchor="end">-5</text>
<text transform="translate(63.6,178.7) scale(1.00,1)" font-size="17.6" text-anchor="end">-10</text>
<text transform="translate(63.6,427.5) scale(1.00,1)" font-size="17.6" text-anchor="end">0</text>
<text transform="translate(63.6,399.6) scale(1.00,1)" font-size="17.6" text-anchor="end">10</text>
<text transform="translate(63.6,371.8) scale(1.00,1)" font-size="17.6" text-anchor="end">20</text>
<text transform="translate(63.6,343.9) scale(1.00,1)" font-size="17.6" text-anchor="end">30</text>
<text transform="translate(63.6,316.1) scale(1.00,1)" font-size="17.6" text-anchor="end">40</text>
<text transform="translate(63.6,288.2) scale(1.00,1)" font-size="17.6" text-anchor="end">50</text>
<text transform="translate(63.6,260.4) scale(1.00,1)" font-size="17.6" text-anchor="end">60</text>
<text transform="translate(77.2,229.4) scale(1.00,1)" font-size="17.6" text-anchor="middle">0</text>
<text transform="translate(226.9,229.4) scale(1.00,1)" font-size="17.6" text-anchor="middle">1</text>
<text transform="translate(376.5,229.4) scale(1.00,1)" font-size="17.6" text-anchor="middle">2</text>
<text transform="translate(526.2,229.4) scale(1.00,1)" font-size="17.6" text-anchor="middle">3</text>
<text transform="translate(675.9,229.4) scale(1.00,1)" font-size="17.6" text-anchor="middle">4</text>
<text transform="translate(77.2,463.2) scale(1.00,1)" font-size="17.6" text-anchor="middle">0</text>
<text transform="translate(226.9,463.2) scale(1.00,1)" font-size="17.6" text-anchor="middle">1</text>
<text transform="translate(376.5,463.2) scale(1.00,1)" font-size="17.6" text-anchor="middle">2</text>
<text transform="translate(526.2,463.2) scale(1.00,1)" font-size="17.6" text-anchor="middle">3</text>
<text transform="translate(675.9,463.2) scale(1.00,1)" font-size="17.6" text-anchor="middle">4</text>
<text transform="translate(20.3,108.5) rotate(-90)" font-size="15.8" text-anchor="middle">Pressure_Error (10<tspan dy="-7.3" font-size="10.3">-1</tspan><tspan dy="7.3"> MPa)</tspan></text>
<text transform="translate(20.3,335) rotate(-90)" font-size="15.8" text-anchor="middle">MC_Pressure (10<tspan dy="-7.3" font-size="10.3">-1</tspan><tspan dy="7.3"> MPa)</tspan></text>
<text x="376.6" y="490.5" font-size="15.5" text-anchor="middle">Time (s)</text>
<rect x="201.3" y="8.0" width="342.1" height="15.4" fill="#fff" stroke="#555" stroke-width="1"/>
<line x1="201.8" x2="229.8" y1="15.8" y2="15.8" stroke="#e41d1d" stroke-width="2.3"/>
<text x="232.0" y="20.0" font-size="11.8">ALQR</text>
<line x1="269.6" x2="297.4" y1="15.8" y2="15.8" stroke="#000" stroke-width="2.3"/>
<text x="300.0" y="20.0" font-size="11.8">Estimated</text>
<line x1="358.0" x2="385.6" y1="15.8" y2="15.8" stroke="#f28a1e" stroke-width="2.3"/>
<text x="388.0" y="20.0" font-size="11.8">Piecewise_PID</text>
<line x1="472.0" x2="499.8" y1="15.8" y2="15.8" stroke="#22ee22" stroke-width="2.5"/>
<text x="502.5" y="20.0" font-size="11.8">EALQR</text>
<rect x="128.4" y="242.8" width="418.8" height="14.2" fill="#fff" stroke="#555" stroke-width="1"/>
<line x1="129.4" x2="157.3" y1="249.8" y2="249.8" stroke="#e41d1d" stroke-width="2.3" stroke-dasharray="10,9.8"/>
<text x="160.0" y="254.0" font-size="11.8">ALQR</text>
<line x1="197.3" x2="225.3" y1="249.8" y2="249.8" stroke="#000" stroke-width="2.3" stroke-dasharray="11.7,4.9,3.3,4.8,3.3,10"/>
<text x="227.8" y="254.0" font-size="11.8">Estimated</text>
<line x1="286.1" x2="312.3" y1="249.8" y2="249.8" stroke="#5a5ae6" stroke-width="1.6"/>
<text x="315.6" y="254.0" font-size="11.8">Desired</text>
<line x1="362.5" x2="386.5" y1="249.8" y2="249.8" stroke="#f28a1e" stroke-width="2.2" stroke-dasharray="0.1,3.97" stroke-linecap="round"/>
<text x="391.6" y="254.0" font-size="11.8">Piecewise_PID</text>
<line x1="475.5" x2="499.2" y1="249.8" y2="249.8" stroke="#22ee22" stroke-width="2.5" stroke-dasharray="5.5,3.3"/>
<text x="506.6" y="254.0" font-size="11.8">EALQR</text>
</svg></body></html>
